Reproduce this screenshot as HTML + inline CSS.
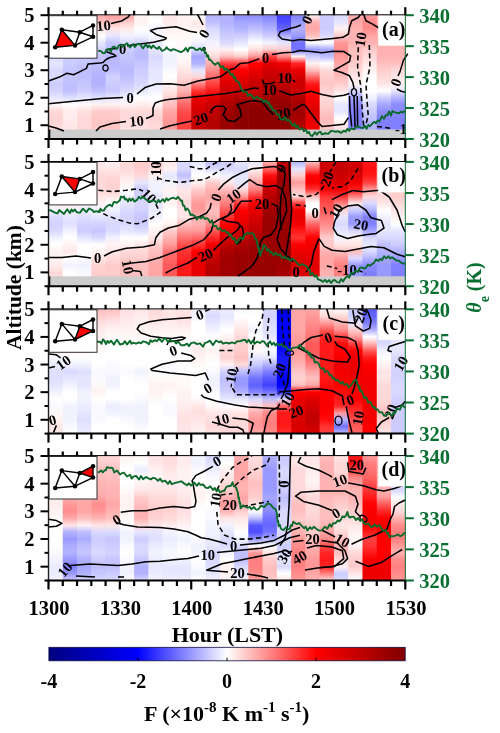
<!DOCTYPE html><html><head><meta charset="utf-8"><title>F</title><style>html,body{margin:0;padding:0;background:#fff;width:500px;height:733px;overflow:hidden}svg{display:block;will-change:transform}text{font-family:"Liberation Serif",serif;font-weight:bold}</style></head><body>
<svg width="500" height="733" viewBox="0 0 500 733">
<linearGradient id="g0_0" x1="0" y1="0" x2="0" y2="1">
<stop offset="0.000" stop-color="#d9d9ff"/>
<stop offset="0.056" stop-color="#d9d9ff"/>
<stop offset="0.111" stop-color="#d9d9ff"/>
<stop offset="0.167" stop-color="#d9d9ff"/>
<stop offset="0.222" stop-color="#d9d9ff"/>
<stop offset="0.278" stop-color="#d9d9ff"/>
<stop offset="0.333" stop-color="#d9d9ff"/>
<stop offset="0.389" stop-color="#e6e6ff"/>
<stop offset="0.444" stop-color="#d9d9ff"/>
<stop offset="0.500" stop-color="#d9d9ff"/>
<stop offset="0.556" stop-color="#ccccff"/>
<stop offset="0.611" stop-color="#d2d2ff"/>
<stop offset="0.667" stop-color="#e6e6ff"/>
<stop offset="0.722" stop-color="#fff9f9"/>
<stop offset="0.778" stop-color="#ffd9d9"/>
<stop offset="0.833" stop-color="#ffd2d2"/>
<stop offset="0.889" stop-color="#ffd9d9"/>
<stop offset="0.944" stop-color="#ffd9d9"/>
<stop offset="1.000" stop-color="#ffd9d9"/>
</linearGradient>
<rect x="48.50" y="15.20" width="14.87" height="123.80" fill="url(#g0_0)"/>
<linearGradient id="g0_1" x1="0" y1="0" x2="0" y2="1">
<stop offset="0.000" stop-color="#d9d9ff"/>
<stop offset="0.056" stop-color="#d9d9ff"/>
<stop offset="0.111" stop-color="#d9d9ff"/>
<stop offset="0.167" stop-color="#d9d9ff"/>
<stop offset="0.222" stop-color="#d9d9ff"/>
<stop offset="0.278" stop-color="#d9d9ff"/>
<stop offset="0.333" stop-color="#ccccff"/>
<stop offset="0.389" stop-color="#ccccff"/>
<stop offset="0.444" stop-color="#c6c6ff"/>
<stop offset="0.500" stop-color="#c6c6ff"/>
<stop offset="0.556" stop-color="#bfbfff"/>
<stop offset="0.611" stop-color="#bfbfff"/>
<stop offset="0.667" stop-color="#dfdfff"/>
<stop offset="0.722" stop-color="#ffffff"/>
<stop offset="0.778" stop-color="#ffecec"/>
<stop offset="0.833" stop-color="#ffecec"/>
<stop offset="0.889" stop-color="#ffe6e6"/>
<stop offset="0.944" stop-color="#ffe6e6"/>
<stop offset="1.000" stop-color="#ffe6e6"/>
</linearGradient>
<rect x="62.77" y="15.20" width="14.87" height="123.80" fill="url(#g0_1)"/>
<linearGradient id="g0_2" x1="0" y1="0" x2="0" y2="1">
<stop offset="0.000" stop-color="#d9d9ff"/>
<stop offset="0.056" stop-color="#d9d9ff"/>
<stop offset="0.111" stop-color="#d9d9ff"/>
<stop offset="0.167" stop-color="#d9d9ff"/>
<stop offset="0.222" stop-color="#d9d9ff"/>
<stop offset="0.278" stop-color="#d9d9ff"/>
<stop offset="0.333" stop-color="#ccccff"/>
<stop offset="0.389" stop-color="#c6c6ff"/>
<stop offset="0.444" stop-color="#bfbfff"/>
<stop offset="0.500" stop-color="#bfbfff"/>
<stop offset="0.556" stop-color="#c6c6ff"/>
<stop offset="0.611" stop-color="#ccccff"/>
<stop offset="0.667" stop-color="#e6e6ff"/>
<stop offset="0.722" stop-color="#fff9f9"/>
<stop offset="0.778" stop-color="#ffdfdf"/>
<stop offset="0.833" stop-color="#ffd9d9"/>
<stop offset="0.889" stop-color="#ffd9d9"/>
<stop offset="0.944" stop-color="#ffd9d9"/>
<stop offset="1.000" stop-color="#ffd9d9"/>
</linearGradient>
<rect x="77.04" y="15.20" width="14.87" height="123.80" fill="url(#g0_2)"/>
<linearGradient id="g0_3" x1="0" y1="0" x2="0" y2="1">
<stop offset="0.000" stop-color="#ffa6a6"/>
<stop offset="0.056" stop-color="#ffbfbf"/>
<stop offset="0.111" stop-color="#ffdfdf"/>
<stop offset="0.167" stop-color="#ffffff"/>
<stop offset="0.222" stop-color="#e6e6ff"/>
<stop offset="0.278" stop-color="#d2d2ff"/>
<stop offset="0.333" stop-color="#c6c6ff"/>
<stop offset="0.389" stop-color="#bfbfff"/>
<stop offset="0.444" stop-color="#b9b9ff"/>
<stop offset="0.500" stop-color="#b2b2ff"/>
<stop offset="0.556" stop-color="#b2b2ff"/>
<stop offset="0.611" stop-color="#bfbfff"/>
<stop offset="0.667" stop-color="#dfdfff"/>
<stop offset="0.722" stop-color="#fff2f2"/>
<stop offset="0.778" stop-color="#ffcccc"/>
<stop offset="0.833" stop-color="#ffc6c6"/>
<stop offset="0.889" stop-color="#ffc6c6"/>
<stop offset="0.944" stop-color="#ffc6c6"/>
<stop offset="1.000" stop-color="#ffc6c6"/>
</linearGradient>
<rect x="91.32" y="15.20" width="14.87" height="123.80" fill="url(#g0_3)"/>
<linearGradient id="g0_4" x1="0" y1="0" x2="0" y2="1">
<stop offset="0.000" stop-color="#ff9999"/>
<stop offset="0.056" stop-color="#ffbfbf"/>
<stop offset="0.111" stop-color="#ffe6e6"/>
<stop offset="0.167" stop-color="#e6e6ff"/>
<stop offset="0.222" stop-color="#c6c6ff"/>
<stop offset="0.278" stop-color="#bfbfff"/>
<stop offset="0.333" stop-color="#b9b9ff"/>
<stop offset="0.389" stop-color="#b9b9ff"/>
<stop offset="0.444" stop-color="#bfbfff"/>
<stop offset="0.500" stop-color="#d2d2ff"/>
<stop offset="0.556" stop-color="#ccccff"/>
<stop offset="0.611" stop-color="#c6c6ff"/>
<stop offset="0.667" stop-color="#e6e6ff"/>
<stop offset="0.722" stop-color="#fff2f2"/>
<stop offset="0.778" stop-color="#ffcccc"/>
<stop offset="0.833" stop-color="#ffc6c6"/>
<stop offset="0.889" stop-color="#ffc6c6"/>
<stop offset="0.944" stop-color="#ffc6c6"/>
<stop offset="1.000" stop-color="#ffc6c6"/>
</linearGradient>
<rect x="105.59" y="15.20" width="14.87" height="123.80" fill="url(#g0_4)"/>
<linearGradient id="g0_5" x1="0" y1="0" x2="0" y2="1">
<stop offset="0.000" stop-color="#ffa6a6"/>
<stop offset="0.056" stop-color="#ffcccc"/>
<stop offset="0.111" stop-color="#ffecec"/>
<stop offset="0.167" stop-color="#f2f2ff"/>
<stop offset="0.222" stop-color="#d9d9ff"/>
<stop offset="0.278" stop-color="#ccccff"/>
<stop offset="0.333" stop-color="#c6c6ff"/>
<stop offset="0.389" stop-color="#bfbfff"/>
<stop offset="0.444" stop-color="#b9b9ff"/>
<stop offset="0.500" stop-color="#bfbfff"/>
<stop offset="0.556" stop-color="#ccccff"/>
<stop offset="0.611" stop-color="#d9d9ff"/>
<stop offset="0.667" stop-color="#f2f2ff"/>
<stop offset="0.722" stop-color="#fff2f2"/>
<stop offset="0.778" stop-color="#ffd9d9"/>
<stop offset="0.833" stop-color="#ffd9d9"/>
<stop offset="0.889" stop-color="#ffdfdf"/>
<stop offset="0.944" stop-color="#ffdfdf"/>
<stop offset="1.000" stop-color="#ffdfdf"/>
</linearGradient>
<rect x="119.86" y="15.20" width="14.87" height="123.80" fill="url(#g0_5)"/>
<linearGradient id="g0_6" x1="0" y1="0" x2="0" y2="1">
<stop offset="0.000" stop-color="#fff2f2"/>
<stop offset="0.056" stop-color="#fff2f2"/>
<stop offset="0.111" stop-color="#ffffff"/>
<stop offset="0.167" stop-color="#f2f2ff"/>
<stop offset="0.222" stop-color="#d2d2ff"/>
<stop offset="0.278" stop-color="#bfbfff"/>
<stop offset="0.333" stop-color="#b9b9ff"/>
<stop offset="0.389" stop-color="#c6c6ff"/>
<stop offset="0.444" stop-color="#ccccff"/>
<stop offset="0.500" stop-color="#d2d2ff"/>
<stop offset="0.556" stop-color="#d9d9ff"/>
<stop offset="0.611" stop-color="#e6e6ff"/>
<stop offset="0.667" stop-color="#ffffff"/>
<stop offset="0.722" stop-color="#ffecec"/>
<stop offset="0.778" stop-color="#ffd9d9"/>
<stop offset="0.833" stop-color="#ffd9d9"/>
<stop offset="0.889" stop-color="#ffdfdf"/>
<stop offset="0.944" stop-color="#ffdfdf"/>
<stop offset="1.000" stop-color="#ffdfdf"/>
</linearGradient>
<rect x="134.13" y="15.20" width="14.87" height="123.80" fill="url(#g0_6)"/>
<linearGradient id="g0_7" x1="0" y1="0" x2="0" y2="1">
<stop offset="0.000" stop-color="#fff9f9"/>
<stop offset="0.056" stop-color="#ffffff"/>
<stop offset="0.111" stop-color="#f2f2ff"/>
<stop offset="0.167" stop-color="#f9f9ff"/>
<stop offset="0.222" stop-color="#ececff"/>
<stop offset="0.278" stop-color="#e6e6ff"/>
<stop offset="0.333" stop-color="#d9d9ff"/>
<stop offset="0.389" stop-color="#dfdfff"/>
<stop offset="0.444" stop-color="#e6e6ff"/>
<stop offset="0.500" stop-color="#e6e6ff"/>
<stop offset="0.556" stop-color="#ececff"/>
<stop offset="0.611" stop-color="#f2f2ff"/>
<stop offset="0.667" stop-color="#ffffff"/>
<stop offset="0.722" stop-color="#fff2f2"/>
<stop offset="0.778" stop-color="#ffd9d9"/>
<stop offset="0.833" stop-color="#ffd2d2"/>
<stop offset="0.889" stop-color="#ffd9d9"/>
<stop offset="0.944" stop-color="#ffd9d9"/>
<stop offset="1.000" stop-color="#ffd9d9"/>
</linearGradient>
<rect x="148.40" y="15.20" width="14.87" height="123.80" fill="url(#g0_7)"/>
<linearGradient id="g0_8" x1="0" y1="0" x2="0" y2="1">
<stop offset="0.000" stop-color="#ffe6e6"/>
<stop offset="0.056" stop-color="#ffecec"/>
<stop offset="0.111" stop-color="#fff2f2"/>
<stop offset="0.167" stop-color="#fff9f9"/>
<stop offset="0.222" stop-color="#ffffff"/>
<stop offset="0.278" stop-color="#f9f9ff"/>
<stop offset="0.333" stop-color="#f2f2ff"/>
<stop offset="0.389" stop-color="#f2f2ff"/>
<stop offset="0.444" stop-color="#f9f9ff"/>
<stop offset="0.500" stop-color="#ffffff"/>
<stop offset="0.556" stop-color="#fff2f2"/>
<stop offset="0.611" stop-color="#ffe6e6"/>
<stop offset="0.667" stop-color="#ffd2d2"/>
<stop offset="0.722" stop-color="#ffbfbf"/>
<stop offset="0.778" stop-color="#ffa6a6"/>
<stop offset="0.833" stop-color="#ff9999"/>
<stop offset="0.889" stop-color="#ff9999"/>
<stop offset="0.944" stop-color="#ff9999"/>
<stop offset="1.000" stop-color="#ff9999"/>
</linearGradient>
<rect x="162.68" y="15.20" width="14.87" height="123.80" fill="url(#g0_8)"/>
<linearGradient id="g0_9" x1="0" y1="0" x2="0" y2="1">
<stop offset="0.000" stop-color="#fff2f2"/>
<stop offset="0.056" stop-color="#fff2f2"/>
<stop offset="0.111" stop-color="#fff2f2"/>
<stop offset="0.167" stop-color="#fff9f9"/>
<stop offset="0.222" stop-color="#fff9f9"/>
<stop offset="0.278" stop-color="#fff9f9"/>
<stop offset="0.333" stop-color="#fff9f9"/>
<stop offset="0.389" stop-color="#fff2f2"/>
<stop offset="0.444" stop-color="#ffe6e6"/>
<stop offset="0.500" stop-color="#ffd9d9"/>
<stop offset="0.556" stop-color="#ffc6c6"/>
<stop offset="0.611" stop-color="#ffb2b2"/>
<stop offset="0.667" stop-color="#ff8c8c"/>
<stop offset="0.722" stop-color="#ff6666"/>
<stop offset="0.778" stop-color="#ff4d4d"/>
<stop offset="0.833" stop-color="#ff4040"/>
<stop offset="0.889" stop-color="#ff4040"/>
<stop offset="0.944" stop-color="#ff4040"/>
<stop offset="1.000" stop-color="#ff4040"/>
</linearGradient>
<rect x="176.95" y="15.20" width="14.87" height="123.80" fill="url(#g0_9)"/>
<linearGradient id="g0_10" x1="0" y1="0" x2="0" y2="1">
<stop offset="0.000" stop-color="#ffffff"/>
<stop offset="0.056" stop-color="#ffe6e6"/>
<stop offset="0.111" stop-color="#fff2f2"/>
<stop offset="0.167" stop-color="#ffffff"/>
<stop offset="0.222" stop-color="#f2f2ff"/>
<stop offset="0.278" stop-color="#d9d9ff"/>
<stop offset="0.333" stop-color="#a6a6ff"/>
<stop offset="0.389" stop-color="#b2b2ff"/>
<stop offset="0.444" stop-color="#e6e6ff"/>
<stop offset="0.500" stop-color="#ffd9d9"/>
<stop offset="0.556" stop-color="#ff8080"/>
<stop offset="0.611" stop-color="#ff3333"/>
<stop offset="0.667" stop-color="#ec0000"/>
<stop offset="0.722" stop-color="#df0000"/>
<stop offset="0.778" stop-color="#d30000"/>
<stop offset="0.833" stop-color="#cc0000"/>
<stop offset="0.889" stop-color="#c60000"/>
<stop offset="0.944" stop-color="#c60000"/>
<stop offset="1.000" stop-color="#c60000"/>
</linearGradient>
<rect x="191.22" y="15.20" width="14.87" height="123.80" fill="url(#g0_10)"/>
<linearGradient id="g0_11" x1="0" y1="0" x2="0" y2="1">
<stop offset="0.000" stop-color="#b2b2ff"/>
<stop offset="0.056" stop-color="#bfbfff"/>
<stop offset="0.111" stop-color="#d9d9ff"/>
<stop offset="0.167" stop-color="#e6e6ff"/>
<stop offset="0.222" stop-color="#f2f2ff"/>
<stop offset="0.278" stop-color="#fff2f2"/>
<stop offset="0.333" stop-color="#ffd9d9"/>
<stop offset="0.389" stop-color="#ffb2b2"/>
<stop offset="0.444" stop-color="#ff8c8c"/>
<stop offset="0.500" stop-color="#ff6666"/>
<stop offset="0.556" stop-color="#ff4040"/>
<stop offset="0.611" stop-color="#ff1919"/>
<stop offset="0.667" stop-color="#df0000"/>
<stop offset="0.722" stop-color="#cc0000"/>
<stop offset="0.778" stop-color="#c00000"/>
<stop offset="0.833" stop-color="#b90000"/>
<stop offset="0.889" stop-color="#b30000"/>
<stop offset="0.944" stop-color="#b30000"/>
<stop offset="1.000" stop-color="#b30000"/>
</linearGradient>
<rect x="205.49" y="15.20" width="14.87" height="123.80" fill="url(#g0_11)"/>
<linearGradient id="g0_12" x1="0" y1="0" x2="0" y2="1">
<stop offset="0.000" stop-color="#b2b2ff"/>
<stop offset="0.056" stop-color="#b2b2ff"/>
<stop offset="0.111" stop-color="#bfbfff"/>
<stop offset="0.167" stop-color="#ccccff"/>
<stop offset="0.222" stop-color="#d9d9ff"/>
<stop offset="0.278" stop-color="#fff2f2"/>
<stop offset="0.333" stop-color="#ffbfbf"/>
<stop offset="0.389" stop-color="#ff4040"/>
<stop offset="0.444" stop-color="#ff0000"/>
<stop offset="0.500" stop-color="#ec0000"/>
<stop offset="0.556" stop-color="#df0000"/>
<stop offset="0.611" stop-color="#cc0000"/>
<stop offset="0.667" stop-color="#c00000"/>
<stop offset="0.722" stop-color="#ac0000"/>
<stop offset="0.778" stop-color="#a00000"/>
<stop offset="0.833" stop-color="#990000"/>
<stop offset="0.889" stop-color="#990000"/>
<stop offset="0.944" stop-color="#990000"/>
<stop offset="1.000" stop-color="#990000"/>
</linearGradient>
<rect x="219.76" y="15.20" width="14.87" height="123.80" fill="url(#g0_12)"/>
<linearGradient id="g0_13" x1="0" y1="0" x2="0" y2="1">
<stop offset="0.000" stop-color="#8c8cff"/>
<stop offset="0.056" stop-color="#a6a6ff"/>
<stop offset="0.111" stop-color="#b2b2ff"/>
<stop offset="0.167" stop-color="#ccccff"/>
<stop offset="0.222" stop-color="#e6e6ff"/>
<stop offset="0.278" stop-color="#ffffff"/>
<stop offset="0.333" stop-color="#ffcccc"/>
<stop offset="0.389" stop-color="#ff4040"/>
<stop offset="0.444" stop-color="#ff0000"/>
<stop offset="0.500" stop-color="#ec0000"/>
<stop offset="0.556" stop-color="#d90000"/>
<stop offset="0.611" stop-color="#c60000"/>
<stop offset="0.667" stop-color="#b30000"/>
<stop offset="0.722" stop-color="#930000"/>
<stop offset="0.778" stop-color="#8d0000"/>
<stop offset="0.833" stop-color="#8d0000"/>
<stop offset="0.889" stop-color="#8d0000"/>
<stop offset="0.944" stop-color="#8d0000"/>
<stop offset="1.000" stop-color="#8d0000"/>
</linearGradient>
<rect x="234.04" y="15.20" width="14.87" height="123.80" fill="url(#g0_13)"/>
<linearGradient id="g0_14" x1="0" y1="0" x2="0" y2="1">
<stop offset="0.000" stop-color="#8c8cff"/>
<stop offset="0.056" stop-color="#a6a6ff"/>
<stop offset="0.111" stop-color="#bfbfff"/>
<stop offset="0.167" stop-color="#dfdfff"/>
<stop offset="0.222" stop-color="#ffffff"/>
<stop offset="0.278" stop-color="#ffdfdf"/>
<stop offset="0.333" stop-color="#ff9999"/>
<stop offset="0.389" stop-color="#ff0000"/>
<stop offset="0.444" stop-color="#ec0000"/>
<stop offset="0.500" stop-color="#d90000"/>
<stop offset="0.556" stop-color="#c60000"/>
<stop offset="0.611" stop-color="#c60000"/>
<stop offset="0.667" stop-color="#b30000"/>
<stop offset="0.722" stop-color="#930000"/>
<stop offset="0.778" stop-color="#8d0000"/>
<stop offset="0.833" stop-color="#8d0000"/>
<stop offset="0.889" stop-color="#8d0000"/>
<stop offset="0.944" stop-color="#8d0000"/>
<stop offset="1.000" stop-color="#8d0000"/>
</linearGradient>
<rect x="248.31" y="15.20" width="14.87" height="123.80" fill="url(#g0_14)"/>
<linearGradient id="g0_15" x1="0" y1="0" x2="0" y2="1">
<stop offset="0.000" stop-color="#8080ff"/>
<stop offset="0.056" stop-color="#9999ff"/>
<stop offset="0.111" stop-color="#b2b2ff"/>
<stop offset="0.167" stop-color="#ccccff"/>
<stop offset="0.222" stop-color="#f2f2ff"/>
<stop offset="0.278" stop-color="#ffcccc"/>
<stop offset="0.333" stop-color="#ff4040"/>
<stop offset="0.389" stop-color="#e60000"/>
<stop offset="0.444" stop-color="#d30000"/>
<stop offset="0.500" stop-color="#c60000"/>
<stop offset="0.556" stop-color="#b90000"/>
<stop offset="0.611" stop-color="#ac0000"/>
<stop offset="0.667" stop-color="#a00000"/>
<stop offset="0.722" stop-color="#930000"/>
<stop offset="0.778" stop-color="#8d0000"/>
<stop offset="0.833" stop-color="#8d0000"/>
<stop offset="0.889" stop-color="#8d0000"/>
<stop offset="0.944" stop-color="#8d0000"/>
<stop offset="1.000" stop-color="#8d0000"/>
</linearGradient>
<rect x="262.58" y="15.20" width="14.87" height="123.80" fill="url(#g0_15)"/>
<linearGradient id="g0_16" x1="0" y1="0" x2="0" y2="1">
<stop offset="0.000" stop-color="#4040ff"/>
<stop offset="0.056" stop-color="#4d4dff"/>
<stop offset="0.111" stop-color="#6666ff"/>
<stop offset="0.167" stop-color="#b2b2ff"/>
<stop offset="0.222" stop-color="#e6e6ff"/>
<stop offset="0.278" stop-color="#ffcccc"/>
<stop offset="0.333" stop-color="#ff8c8c"/>
<stop offset="0.389" stop-color="#f20000"/>
<stop offset="0.444" stop-color="#d90000"/>
<stop offset="0.500" stop-color="#c60000"/>
<stop offset="0.556" stop-color="#c00000"/>
<stop offset="0.611" stop-color="#b30000"/>
<stop offset="0.667" stop-color="#a00000"/>
<stop offset="0.722" stop-color="#930000"/>
<stop offset="0.778" stop-color="#8d0000"/>
<stop offset="0.833" stop-color="#8d0000"/>
<stop offset="0.889" stop-color="#8d0000"/>
<stop offset="0.944" stop-color="#8d0000"/>
<stop offset="1.000" stop-color="#8d0000"/>
</linearGradient>
<rect x="276.85" y="15.20" width="14.87" height="123.80" fill="url(#g0_16)"/>
<linearGradient id="g0_17" x1="0" y1="0" x2="0" y2="1">
<stop offset="0.000" stop-color="#8080ff"/>
<stop offset="0.056" stop-color="#9999ff"/>
<stop offset="0.111" stop-color="#b2b2ff"/>
<stop offset="0.167" stop-color="#9999ff"/>
<stop offset="0.222" stop-color="#7373ff"/>
<stop offset="0.278" stop-color="#7373ff"/>
<stop offset="0.333" stop-color="#fff2f2"/>
<stop offset="0.389" stop-color="#ff2626"/>
<stop offset="0.444" stop-color="#ec0000"/>
<stop offset="0.500" stop-color="#d30000"/>
<stop offset="0.556" stop-color="#cc0000"/>
<stop offset="0.611" stop-color="#cc0000"/>
<stop offset="0.667" stop-color="#b30000"/>
<stop offset="0.722" stop-color="#a60000"/>
<stop offset="0.778" stop-color="#a00000"/>
<stop offset="0.833" stop-color="#a60000"/>
<stop offset="0.889" stop-color="#b30000"/>
<stop offset="0.944" stop-color="#b30000"/>
<stop offset="1.000" stop-color="#b30000"/>
</linearGradient>
<rect x="291.12" y="15.20" width="14.87" height="123.80" fill="url(#g0_17)"/>
<linearGradient id="g0_18" x1="0" y1="0" x2="0" y2="1">
<stop offset="0.000" stop-color="#fff2f2"/>
<stop offset="0.056" stop-color="#ffb2b2"/>
<stop offset="0.111" stop-color="#ffa6a6"/>
<stop offset="0.167" stop-color="#ffbfbf"/>
<stop offset="0.222" stop-color="#ffffff"/>
<stop offset="0.278" stop-color="#9999ff"/>
<stop offset="0.333" stop-color="#ccccff"/>
<stop offset="0.389" stop-color="#fff2f2"/>
<stop offset="0.444" stop-color="#ffbfbf"/>
<stop offset="0.500" stop-color="#ff6666"/>
<stop offset="0.556" stop-color="#ff1919"/>
<stop offset="0.611" stop-color="#ff0000"/>
<stop offset="0.667" stop-color="#f20000"/>
<stop offset="0.722" stop-color="#e60000"/>
<stop offset="0.778" stop-color="#d90000"/>
<stop offset="0.833" stop-color="#e60000"/>
<stop offset="0.889" stop-color="#f20000"/>
<stop offset="0.944" stop-color="#f20000"/>
<stop offset="1.000" stop-color="#f20000"/>
</linearGradient>
<rect x="305.40" y="15.20" width="14.87" height="123.80" fill="url(#g0_18)"/>
<linearGradient id="g0_19" x1="0" y1="0" x2="0" y2="1">
<stop offset="0.000" stop-color="#ccccff"/>
<stop offset="0.056" stop-color="#ccccff"/>
<stop offset="0.111" stop-color="#ccccff"/>
<stop offset="0.167" stop-color="#d9d9ff"/>
<stop offset="0.222" stop-color="#ffffff"/>
<stop offset="0.278" stop-color="#a6a6ff"/>
<stop offset="0.333" stop-color="#bfbfff"/>
<stop offset="0.389" stop-color="#ffffff"/>
<stop offset="0.444" stop-color="#ffd9d9"/>
<stop offset="0.500" stop-color="#ffcccc"/>
<stop offset="0.556" stop-color="#ffc6c6"/>
<stop offset="0.611" stop-color="#ffd2d2"/>
<stop offset="0.667" stop-color="#ffd9d9"/>
<stop offset="0.722" stop-color="#ffd2d2"/>
<stop offset="0.778" stop-color="#ffc6c6"/>
<stop offset="0.833" stop-color="#ffb9b9"/>
<stop offset="0.889" stop-color="#ffc6c6"/>
<stop offset="0.944" stop-color="#ffc6c6"/>
<stop offset="1.000" stop-color="#ffc6c6"/>
</linearGradient>
<rect x="319.67" y="15.20" width="14.87" height="123.80" fill="url(#g0_19)"/>
<linearGradient id="g0_20" x1="0" y1="0" x2="0" y2="1">
<stop offset="0.000" stop-color="#d9d9ff"/>
<stop offset="0.056" stop-color="#e6e6ff"/>
<stop offset="0.111" stop-color="#fff2f2"/>
<stop offset="0.167" stop-color="#ffcccc"/>
<stop offset="0.222" stop-color="#ff9999"/>
<stop offset="0.278" stop-color="#ff8c8c"/>
<stop offset="0.333" stop-color="#ff9999"/>
<stop offset="0.389" stop-color="#ffa6a6"/>
<stop offset="0.444" stop-color="#ffb2b2"/>
<stop offset="0.500" stop-color="#ffbfbf"/>
<stop offset="0.556" stop-color="#ffcccc"/>
<stop offset="0.611" stop-color="#ffe6e6"/>
<stop offset="0.667" stop-color="#ffffff"/>
<stop offset="0.722" stop-color="#e6e6ff"/>
<stop offset="0.778" stop-color="#e6e6ff"/>
<stop offset="0.833" stop-color="#ffffff"/>
<stop offset="0.889" stop-color="#ffe6e6"/>
<stop offset="0.944" stop-color="#ffe6e6"/>
<stop offset="1.000" stop-color="#ffe6e6"/>
</linearGradient>
<rect x="333.94" y="15.20" width="14.87" height="123.80" fill="url(#g0_20)"/>
<linearGradient id="g0_21" x1="0" y1="0" x2="0" y2="1">
<stop offset="0.000" stop-color="#ffb2b2"/>
<stop offset="0.056" stop-color="#ffa6a6"/>
<stop offset="0.111" stop-color="#ffb2b2"/>
<stop offset="0.167" stop-color="#ffb2b2"/>
<stop offset="0.222" stop-color="#ffb2b2"/>
<stop offset="0.278" stop-color="#ffbfbf"/>
<stop offset="0.333" stop-color="#ffbfbf"/>
<stop offset="0.389" stop-color="#ffcccc"/>
<stop offset="0.444" stop-color="#ffd9d9"/>
<stop offset="0.500" stop-color="#ffe6e6"/>
<stop offset="0.556" stop-color="#fff2f2"/>
<stop offset="0.611" stop-color="#d9d9ff"/>
<stop offset="0.667" stop-color="#a6a6ff"/>
<stop offset="0.722" stop-color="#8c8cff"/>
<stop offset="0.778" stop-color="#8080ff"/>
<stop offset="0.833" stop-color="#8080ff"/>
<stop offset="0.889" stop-color="#8080ff"/>
<stop offset="0.944" stop-color="#8080ff"/>
<stop offset="1.000" stop-color="#8080ff"/>
</linearGradient>
<rect x="348.21" y="15.20" width="14.87" height="123.80" fill="url(#g0_21)"/>
<linearGradient id="g0_22" x1="0" y1="0" x2="0" y2="1">
<stop offset="0.000" stop-color="#ff9999"/>
<stop offset="0.056" stop-color="#ff8c8c"/>
<stop offset="0.111" stop-color="#ff8c8c"/>
<stop offset="0.167" stop-color="#ffa6a6"/>
<stop offset="0.222" stop-color="#ffb2b2"/>
<stop offset="0.278" stop-color="#ffcccc"/>
<stop offset="0.333" stop-color="#ffd9d9"/>
<stop offset="0.389" stop-color="#ffe6e6"/>
<stop offset="0.444" stop-color="#fff2f2"/>
<stop offset="0.500" stop-color="#ffffff"/>
<stop offset="0.556" stop-color="#ffffff"/>
<stop offset="0.611" stop-color="#ffffff"/>
<stop offset="0.667" stop-color="#f2f2ff"/>
<stop offset="0.722" stop-color="#d9d9ff"/>
<stop offset="0.778" stop-color="#ccccff"/>
<stop offset="0.833" stop-color="#bfbfff"/>
<stop offset="0.889" stop-color="#b2b2ff"/>
<stop offset="0.944" stop-color="#b2b2ff"/>
<stop offset="1.000" stop-color="#b2b2ff"/>
</linearGradient>
<rect x="362.48" y="15.20" width="14.87" height="123.80" fill="url(#g0_22)"/>
<linearGradient id="g0_23" x1="0" y1="0" x2="0" y2="1">
<stop offset="0.000" stop-color="#ffb2b2"/>
<stop offset="0.056" stop-color="#ffb2b2"/>
<stop offset="0.111" stop-color="#ffb2b2"/>
<stop offset="0.167" stop-color="#ffb2b2"/>
<stop offset="0.222" stop-color="#ffb2b2"/>
<stop offset="0.278" stop-color="#ffb2b2"/>
<stop offset="0.333" stop-color="#ffb2b2"/>
<stop offset="0.389" stop-color="#ffbfbf"/>
<stop offset="0.444" stop-color="#ffcccc"/>
<stop offset="0.500" stop-color="#ffd9d9"/>
<stop offset="0.556" stop-color="#ffe6e6"/>
<stop offset="0.611" stop-color="#ffffff"/>
<stop offset="0.667" stop-color="#ccccff"/>
<stop offset="0.722" stop-color="#a6a6ff"/>
<stop offset="0.778" stop-color="#8c8cff"/>
<stop offset="0.833" stop-color="#8080ff"/>
<stop offset="0.889" stop-color="#8080ff"/>
<stop offset="0.944" stop-color="#8080ff"/>
<stop offset="1.000" stop-color="#8080ff"/>
</linearGradient>
<rect x="376.76" y="15.20" width="14.87" height="123.80" fill="url(#g0_23)"/>
<linearGradient id="g0_24" x1="0" y1="0" x2="0" y2="1">
<stop offset="0.000" stop-color="#ffb2b2"/>
<stop offset="0.056" stop-color="#ffb2b2"/>
<stop offset="0.111" stop-color="#ffb2b2"/>
<stop offset="0.167" stop-color="#ffb2b2"/>
<stop offset="0.222" stop-color="#ffb2b2"/>
<stop offset="0.278" stop-color="#ffb2b2"/>
<stop offset="0.333" stop-color="#ffb2b2"/>
<stop offset="0.389" stop-color="#ffbfbf"/>
<stop offset="0.444" stop-color="#ffd9d9"/>
<stop offset="0.500" stop-color="#ffe6e6"/>
<stop offset="0.556" stop-color="#fff2f2"/>
<stop offset="0.611" stop-color="#e6e6ff"/>
<stop offset="0.667" stop-color="#b2b2ff"/>
<stop offset="0.722" stop-color="#8c8cff"/>
<stop offset="0.778" stop-color="#8c8cff"/>
<stop offset="0.833" stop-color="#8080ff"/>
<stop offset="0.889" stop-color="#8080ff"/>
<stop offset="0.944" stop-color="#8080ff"/>
<stop offset="1.000" stop-color="#8080ff"/>
</linearGradient>
<rect x="391.03" y="15.20" width="14.87" height="123.80" fill="url(#g0_24)"/>
<rect x="48.50" y="129.51" width="356.80" height="9.49" fill="#cdcdcd"/>
<line x1="49.2" y1="129.51" x2="49.2" y2="139.00" stroke="#000" stroke-width="2.2"/>
<linearGradient id="g1_0" x1="0" y1="0" x2="0" y2="1">
<stop offset="0.000" stop-color="#fff2f2"/>
<stop offset="0.056" stop-color="#fff2f2"/>
<stop offset="0.111" stop-color="#fff2f2"/>
<stop offset="0.167" stop-color="#fff2f2"/>
<stop offset="0.222" stop-color="#fff2f2"/>
<stop offset="0.278" stop-color="#fff2f2"/>
<stop offset="0.333" stop-color="#fff2f2"/>
<stop offset="0.389" stop-color="#f2f2ff"/>
<stop offset="0.444" stop-color="#d9d9ff"/>
<stop offset="0.500" stop-color="#d2d2ff"/>
<stop offset="0.556" stop-color="#d9d9ff"/>
<stop offset="0.611" stop-color="#f2f2ff"/>
<stop offset="0.667" stop-color="#ffffff"/>
<stop offset="0.722" stop-color="#fff2f2"/>
<stop offset="0.778" stop-color="#fff2f2"/>
<stop offset="0.833" stop-color="#ffecec"/>
<stop offset="0.889" stop-color="#ffd9d9"/>
<stop offset="0.944" stop-color="#ffd9d9"/>
<stop offset="1.000" stop-color="#ffd9d9"/>
</linearGradient>
<rect x="48.50" y="161.90" width="14.87" height="124.30" fill="url(#g1_0)"/>
<linearGradient id="g1_1" x1="0" y1="0" x2="0" y2="1">
<stop offset="0.000" stop-color="#fff2f2"/>
<stop offset="0.056" stop-color="#fff2f2"/>
<stop offset="0.111" stop-color="#fff2f2"/>
<stop offset="0.167" stop-color="#fff2f2"/>
<stop offset="0.222" stop-color="#fff2f2"/>
<stop offset="0.278" stop-color="#fff2f2"/>
<stop offset="0.333" stop-color="#fff2f2"/>
<stop offset="0.389" stop-color="#f2f2ff"/>
<stop offset="0.444" stop-color="#e6e6ff"/>
<stop offset="0.500" stop-color="#dfdfff"/>
<stop offset="0.556" stop-color="#f2f2ff"/>
<stop offset="0.611" stop-color="#ffffff"/>
<stop offset="0.667" stop-color="#fff2f2"/>
<stop offset="0.722" stop-color="#ffe6e6"/>
<stop offset="0.778" stop-color="#ffffff"/>
<stop offset="0.833" stop-color="#f2f2ff"/>
<stop offset="0.889" stop-color="#ffffff"/>
<stop offset="0.944" stop-color="#ffffff"/>
<stop offset="1.000" stop-color="#ffffff"/>
</linearGradient>
<rect x="62.77" y="161.90" width="14.87" height="124.30" fill="url(#g1_1)"/>
<linearGradient id="g1_2" x1="0" y1="0" x2="0" y2="1">
<stop offset="0.000" stop-color="#fff2f2"/>
<stop offset="0.056" stop-color="#fff2f2"/>
<stop offset="0.111" stop-color="#fff2f2"/>
<stop offset="0.167" stop-color="#fff2f2"/>
<stop offset="0.222" stop-color="#fff2f2"/>
<stop offset="0.278" stop-color="#fff2f2"/>
<stop offset="0.333" stop-color="#fff2f2"/>
<stop offset="0.389" stop-color="#ececff"/>
<stop offset="0.444" stop-color="#dfdfff"/>
<stop offset="0.500" stop-color="#d2d2ff"/>
<stop offset="0.556" stop-color="#ccccff"/>
<stop offset="0.611" stop-color="#e6e6ff"/>
<stop offset="0.667" stop-color="#ffffff"/>
<stop offset="0.722" stop-color="#ffffff"/>
<stop offset="0.778" stop-color="#f9f9ff"/>
<stop offset="0.833" stop-color="#f2f2ff"/>
<stop offset="0.889" stop-color="#f9f9ff"/>
<stop offset="0.944" stop-color="#f9f9ff"/>
<stop offset="1.000" stop-color="#f9f9ff"/>
</linearGradient>
<rect x="77.04" y="161.90" width="14.87" height="124.30" fill="url(#g1_2)"/>
<linearGradient id="g1_3" x1="0" y1="0" x2="0" y2="1">
<stop offset="0.000" stop-color="#ffe6e6"/>
<stop offset="0.056" stop-color="#ffe6e6"/>
<stop offset="0.111" stop-color="#ffd9d9"/>
<stop offset="0.167" stop-color="#ffd9d9"/>
<stop offset="0.222" stop-color="#ffd9d9"/>
<stop offset="0.278" stop-color="#ffe6e6"/>
<stop offset="0.333" stop-color="#fff2f2"/>
<stop offset="0.389" stop-color="#f2f2ff"/>
<stop offset="0.444" stop-color="#e6e6ff"/>
<stop offset="0.500" stop-color="#d2d2ff"/>
<stop offset="0.556" stop-color="#c6c6ff"/>
<stop offset="0.611" stop-color="#d9d9ff"/>
<stop offset="0.667" stop-color="#ffffff"/>
<stop offset="0.722" stop-color="#fff2f2"/>
<stop offset="0.778" stop-color="#ffe6e6"/>
<stop offset="0.833" stop-color="#ffd2d2"/>
<stop offset="0.889" stop-color="#ffcccc"/>
<stop offset="0.944" stop-color="#ffcccc"/>
<stop offset="1.000" stop-color="#ffcccc"/>
</linearGradient>
<rect x="91.32" y="161.90" width="14.87" height="124.30" fill="url(#g1_3)"/>
<linearGradient id="g1_4" x1="0" y1="0" x2="0" y2="1">
<stop offset="0.000" stop-color="#fff2f2"/>
<stop offset="0.056" stop-color="#ffe6e6"/>
<stop offset="0.111" stop-color="#ffd9d9"/>
<stop offset="0.167" stop-color="#ffd2d2"/>
<stop offset="0.222" stop-color="#ffd2d2"/>
<stop offset="0.278" stop-color="#ffe6e6"/>
<stop offset="0.333" stop-color="#ffffff"/>
<stop offset="0.389" stop-color="#f2f2ff"/>
<stop offset="0.444" stop-color="#dfdfff"/>
<stop offset="0.500" stop-color="#d9d9ff"/>
<stop offset="0.556" stop-color="#d9d9ff"/>
<stop offset="0.611" stop-color="#f2f2ff"/>
<stop offset="0.667" stop-color="#fff2f2"/>
<stop offset="0.722" stop-color="#ffe6e6"/>
<stop offset="0.778" stop-color="#ffd9d9"/>
<stop offset="0.833" stop-color="#ffcccc"/>
<stop offset="0.889" stop-color="#ffcccc"/>
<stop offset="0.944" stop-color="#ffcccc"/>
<stop offset="1.000" stop-color="#ffcccc"/>
</linearGradient>
<rect x="105.59" y="161.90" width="14.87" height="124.30" fill="url(#g1_4)"/>
<linearGradient id="g1_5" x1="0" y1="0" x2="0" y2="1">
<stop offset="0.000" stop-color="#ffd9d9"/>
<stop offset="0.056" stop-color="#ffd9d9"/>
<stop offset="0.111" stop-color="#ffe6e6"/>
<stop offset="0.167" stop-color="#fff2f2"/>
<stop offset="0.222" stop-color="#ffffff"/>
<stop offset="0.278" stop-color="#f2f2ff"/>
<stop offset="0.333" stop-color="#e6e6ff"/>
<stop offset="0.389" stop-color="#d9d9ff"/>
<stop offset="0.444" stop-color="#d2d2ff"/>
<stop offset="0.500" stop-color="#d9d9ff"/>
<stop offset="0.556" stop-color="#e6e6ff"/>
<stop offset="0.611" stop-color="#ffffff"/>
<stop offset="0.667" stop-color="#fff2f2"/>
<stop offset="0.722" stop-color="#ffd9d9"/>
<stop offset="0.778" stop-color="#ffcccc"/>
<stop offset="0.833" stop-color="#ffbfbf"/>
<stop offset="0.889" stop-color="#ffbfbf"/>
<stop offset="0.944" stop-color="#ffbfbf"/>
<stop offset="1.000" stop-color="#ffbfbf"/>
</linearGradient>
<rect x="119.86" y="161.90" width="14.87" height="124.30" fill="url(#g1_5)"/>
<linearGradient id="g1_6" x1="0" y1="0" x2="0" y2="1">
<stop offset="0.000" stop-color="#ffcccc"/>
<stop offset="0.056" stop-color="#ffcccc"/>
<stop offset="0.111" stop-color="#ffd9d9"/>
<stop offset="0.167" stop-color="#e6e6ff"/>
<stop offset="0.222" stop-color="#ccccff"/>
<stop offset="0.278" stop-color="#d2d2ff"/>
<stop offset="0.333" stop-color="#d9d9ff"/>
<stop offset="0.389" stop-color="#d2d2ff"/>
<stop offset="0.444" stop-color="#c6c6ff"/>
<stop offset="0.500" stop-color="#ccccff"/>
<stop offset="0.556" stop-color="#dfdfff"/>
<stop offset="0.611" stop-color="#ffffff"/>
<stop offset="0.667" stop-color="#ffe6e6"/>
<stop offset="0.722" stop-color="#ffd9d9"/>
<stop offset="0.778" stop-color="#ffcccc"/>
<stop offset="0.833" stop-color="#ffbfbf"/>
<stop offset="0.889" stop-color="#ffbfbf"/>
<stop offset="0.944" stop-color="#ffbfbf"/>
<stop offset="1.000" stop-color="#ffbfbf"/>
</linearGradient>
<rect x="134.13" y="161.90" width="14.87" height="124.30" fill="url(#g1_6)"/>
<linearGradient id="g1_7" x1="0" y1="0" x2="0" y2="1">
<stop offset="0.000" stop-color="#ffcccc"/>
<stop offset="0.056" stop-color="#ffd9d9"/>
<stop offset="0.111" stop-color="#fff2f2"/>
<stop offset="0.167" stop-color="#f2f2ff"/>
<stop offset="0.222" stop-color="#f2f2ff"/>
<stop offset="0.278" stop-color="#e6e6ff"/>
<stop offset="0.333" stop-color="#e6e6ff"/>
<stop offset="0.389" stop-color="#ececff"/>
<stop offset="0.444" stop-color="#f2f2ff"/>
<stop offset="0.500" stop-color="#ffffff"/>
<stop offset="0.556" stop-color="#fff2f2"/>
<stop offset="0.611" stop-color="#ffe6e6"/>
<stop offset="0.667" stop-color="#ffcccc"/>
<stop offset="0.722" stop-color="#ffbfbf"/>
<stop offset="0.778" stop-color="#ffb2b2"/>
<stop offset="0.833" stop-color="#ffa6a6"/>
<stop offset="0.889" stop-color="#ffa6a6"/>
<stop offset="0.944" stop-color="#ffa6a6"/>
<stop offset="1.000" stop-color="#ffa6a6"/>
</linearGradient>
<rect x="148.40" y="161.90" width="14.87" height="124.30" fill="url(#g1_7)"/>
<linearGradient id="g1_8" x1="0" y1="0" x2="0" y2="1">
<stop offset="0.000" stop-color="#ffe6e6"/>
<stop offset="0.056" stop-color="#fff2f2"/>
<stop offset="0.111" stop-color="#e6e6ff"/>
<stop offset="0.167" stop-color="#f2f2ff"/>
<stop offset="0.222" stop-color="#fff2f2"/>
<stop offset="0.278" stop-color="#fff2f2"/>
<stop offset="0.333" stop-color="#fff2f2"/>
<stop offset="0.389" stop-color="#ffffff"/>
<stop offset="0.444" stop-color="#ffffff"/>
<stop offset="0.500" stop-color="#fff2f2"/>
<stop offset="0.556" stop-color="#ffcccc"/>
<stop offset="0.611" stop-color="#ffb2b2"/>
<stop offset="0.667" stop-color="#ff9999"/>
<stop offset="0.722" stop-color="#ff7373"/>
<stop offset="0.778" stop-color="#ff6666"/>
<stop offset="0.833" stop-color="#ff5959"/>
<stop offset="0.889" stop-color="#ff5959"/>
<stop offset="0.944" stop-color="#ff5959"/>
<stop offset="1.000" stop-color="#ff5959"/>
</linearGradient>
<rect x="162.68" y="161.90" width="14.87" height="124.30" fill="url(#g1_8)"/>
<linearGradient id="g1_9" x1="0" y1="0" x2="0" y2="1">
<stop offset="0.000" stop-color="#d9d9ff"/>
<stop offset="0.056" stop-color="#d9d9ff"/>
<stop offset="0.111" stop-color="#bfbfff"/>
<stop offset="0.167" stop-color="#e6e6ff"/>
<stop offset="0.222" stop-color="#ffe6e6"/>
<stop offset="0.278" stop-color="#ffdfdf"/>
<stop offset="0.333" stop-color="#ffd9d9"/>
<stop offset="0.389" stop-color="#ffe6e6"/>
<stop offset="0.444" stop-color="#ffe6e6"/>
<stop offset="0.500" stop-color="#ffbfbf"/>
<stop offset="0.556" stop-color="#ff9999"/>
<stop offset="0.611" stop-color="#ff7373"/>
<stop offset="0.667" stop-color="#ff4d4d"/>
<stop offset="0.722" stop-color="#ff3333"/>
<stop offset="0.778" stop-color="#ff2626"/>
<stop offset="0.833" stop-color="#ff1919"/>
<stop offset="0.889" stop-color="#ff1919"/>
<stop offset="0.944" stop-color="#ff1919"/>
<stop offset="1.000" stop-color="#ff1919"/>
</linearGradient>
<rect x="176.95" y="161.90" width="14.87" height="124.30" fill="url(#g1_9)"/>
<linearGradient id="g1_10" x1="0" y1="0" x2="0" y2="1">
<stop offset="0.000" stop-color="#e6e6ff"/>
<stop offset="0.056" stop-color="#f2f2ff"/>
<stop offset="0.111" stop-color="#ffffff"/>
<stop offset="0.167" stop-color="#fff2f2"/>
<stop offset="0.222" stop-color="#ffcccc"/>
<stop offset="0.278" stop-color="#ffb2b2"/>
<stop offset="0.333" stop-color="#ff9999"/>
<stop offset="0.389" stop-color="#ff9999"/>
<stop offset="0.444" stop-color="#ffb2b2"/>
<stop offset="0.500" stop-color="#ffb2b2"/>
<stop offset="0.556" stop-color="#ff9999"/>
<stop offset="0.611" stop-color="#ff6666"/>
<stop offset="0.667" stop-color="#ff3333"/>
<stop offset="0.722" stop-color="#ff0000"/>
<stop offset="0.778" stop-color="#ec0000"/>
<stop offset="0.833" stop-color="#e60000"/>
<stop offset="0.889" stop-color="#e60000"/>
<stop offset="0.944" stop-color="#e60000"/>
<stop offset="1.000" stop-color="#e60000"/>
</linearGradient>
<rect x="191.22" y="161.90" width="14.87" height="124.30" fill="url(#g1_10)"/>
<linearGradient id="g1_11" x1="0" y1="0" x2="0" y2="1">
<stop offset="0.000" stop-color="#bfbfff"/>
<stop offset="0.056" stop-color="#d9d9ff"/>
<stop offset="0.111" stop-color="#ffffff"/>
<stop offset="0.167" stop-color="#ffcccc"/>
<stop offset="0.222" stop-color="#ffb2b2"/>
<stop offset="0.278" stop-color="#ffa6a6"/>
<stop offset="0.333" stop-color="#ffb2b2"/>
<stop offset="0.389" stop-color="#ffbfbf"/>
<stop offset="0.444" stop-color="#ffb2b2"/>
<stop offset="0.500" stop-color="#ff8c8c"/>
<stop offset="0.556" stop-color="#ff5959"/>
<stop offset="0.611" stop-color="#ff2626"/>
<stop offset="0.667" stop-color="#f20000"/>
<stop offset="0.722" stop-color="#d90000"/>
<stop offset="0.778" stop-color="#c60000"/>
<stop offset="0.833" stop-color="#b90000"/>
<stop offset="0.889" stop-color="#b30000"/>
<stop offset="0.944" stop-color="#b30000"/>
<stop offset="1.000" stop-color="#b30000"/>
</linearGradient>
<rect x="205.49" y="161.90" width="14.87" height="124.30" fill="url(#g1_11)"/>
<linearGradient id="g1_12" x1="0" y1="0" x2="0" y2="1">
<stop offset="0.000" stop-color="#ccccff"/>
<stop offset="0.056" stop-color="#d9d9ff"/>
<stop offset="0.111" stop-color="#f2f2ff"/>
<stop offset="0.167" stop-color="#ffe6e6"/>
<stop offset="0.222" stop-color="#ffbfbf"/>
<stop offset="0.278" stop-color="#ff9999"/>
<stop offset="0.333" stop-color="#ff8080"/>
<stop offset="0.389" stop-color="#ff5959"/>
<stop offset="0.444" stop-color="#ff3333"/>
<stop offset="0.500" stop-color="#ff0000"/>
<stop offset="0.556" stop-color="#ec0000"/>
<stop offset="0.611" stop-color="#d90000"/>
<stop offset="0.667" stop-color="#c00000"/>
<stop offset="0.722" stop-color="#ac0000"/>
<stop offset="0.778" stop-color="#a00000"/>
<stop offset="0.833" stop-color="#a00000"/>
<stop offset="0.889" stop-color="#a00000"/>
<stop offset="0.944" stop-color="#a00000"/>
<stop offset="1.000" stop-color="#a00000"/>
</linearGradient>
<rect x="219.76" y="161.90" width="14.87" height="124.30" fill="url(#g1_12)"/>
<linearGradient id="g1_13" x1="0" y1="0" x2="0" y2="1">
<stop offset="0.000" stop-color="#e6e6ff"/>
<stop offset="0.056" stop-color="#d9d9ff"/>
<stop offset="0.111" stop-color="#e6e6ff"/>
<stop offset="0.167" stop-color="#e6e6ff"/>
<stop offset="0.222" stop-color="#ffd9d9"/>
<stop offset="0.278" stop-color="#ff9999"/>
<stop offset="0.333" stop-color="#ff3333"/>
<stop offset="0.389" stop-color="#ff0000"/>
<stop offset="0.444" stop-color="#f20000"/>
<stop offset="0.500" stop-color="#e60000"/>
<stop offset="0.556" stop-color="#d30000"/>
<stop offset="0.611" stop-color="#c00000"/>
<stop offset="0.667" stop-color="#ac0000"/>
<stop offset="0.722" stop-color="#a00000"/>
<stop offset="0.778" stop-color="#990000"/>
<stop offset="0.833" stop-color="#990000"/>
<stop offset="0.889" stop-color="#990000"/>
<stop offset="0.944" stop-color="#990000"/>
<stop offset="1.000" stop-color="#990000"/>
</linearGradient>
<rect x="234.04" y="161.90" width="14.87" height="124.30" fill="url(#g1_13)"/>
<linearGradient id="g1_14" x1="0" y1="0" x2="0" y2="1">
<stop offset="0.000" stop-color="#e6e6ff"/>
<stop offset="0.056" stop-color="#fff2f2"/>
<stop offset="0.111" stop-color="#ffcccc"/>
<stop offset="0.167" stop-color="#ffa6a6"/>
<stop offset="0.222" stop-color="#ff8080"/>
<stop offset="0.278" stop-color="#ff3333"/>
<stop offset="0.333" stop-color="#f90000"/>
<stop offset="0.389" stop-color="#e60000"/>
<stop offset="0.444" stop-color="#d90000"/>
<stop offset="0.500" stop-color="#cc0000"/>
<stop offset="0.556" stop-color="#c00000"/>
<stop offset="0.611" stop-color="#ac0000"/>
<stop offset="0.667" stop-color="#a00000"/>
<stop offset="0.722" stop-color="#990000"/>
<stop offset="0.778" stop-color="#990000"/>
<stop offset="0.833" stop-color="#990000"/>
<stop offset="0.889" stop-color="#990000"/>
<stop offset="0.944" stop-color="#990000"/>
<stop offset="1.000" stop-color="#990000"/>
</linearGradient>
<rect x="248.31" y="161.90" width="14.87" height="124.30" fill="url(#g1_14)"/>
<linearGradient id="g1_15" x1="0" y1="0" x2="0" y2="1">
<stop offset="0.000" stop-color="#ffb2b2"/>
<stop offset="0.056" stop-color="#ff6666"/>
<stop offset="0.111" stop-color="#ff0d0d"/>
<stop offset="0.167" stop-color="#e60000"/>
<stop offset="0.222" stop-color="#cc0000"/>
<stop offset="0.278" stop-color="#b90000"/>
<stop offset="0.333" stop-color="#ac0000"/>
<stop offset="0.389" stop-color="#a00000"/>
<stop offset="0.444" stop-color="#990000"/>
<stop offset="0.500" stop-color="#990000"/>
<stop offset="0.556" stop-color="#990000"/>
<stop offset="0.611" stop-color="#990000"/>
<stop offset="0.667" stop-color="#990000"/>
<stop offset="0.722" stop-color="#990000"/>
<stop offset="0.778" stop-color="#990000"/>
<stop offset="0.833" stop-color="#990000"/>
<stop offset="0.889" stop-color="#990000"/>
<stop offset="0.944" stop-color="#990000"/>
<stop offset="1.000" stop-color="#990000"/>
</linearGradient>
<rect x="262.58" y="161.90" width="14.87" height="124.30" fill="url(#g1_15)"/>
<linearGradient id="g1_16" x1="0" y1="0" x2="0" y2="1">
<stop offset="0.000" stop-color="#c00000"/>
<stop offset="0.056" stop-color="#ac0000"/>
<stop offset="0.111" stop-color="#a00000"/>
<stop offset="0.167" stop-color="#990000"/>
<stop offset="0.222" stop-color="#990000"/>
<stop offset="0.278" stop-color="#990000"/>
<stop offset="0.333" stop-color="#990000"/>
<stop offset="0.389" stop-color="#990000"/>
<stop offset="0.444" stop-color="#990000"/>
<stop offset="0.500" stop-color="#990000"/>
<stop offset="0.556" stop-color="#990000"/>
<stop offset="0.611" stop-color="#990000"/>
<stop offset="0.667" stop-color="#990000"/>
<stop offset="0.722" stop-color="#990000"/>
<stop offset="0.778" stop-color="#990000"/>
<stop offset="0.833" stop-color="#a00000"/>
<stop offset="0.889" stop-color="#a60000"/>
<stop offset="0.944" stop-color="#a60000"/>
<stop offset="1.000" stop-color="#a60000"/>
</linearGradient>
<rect x="276.85" y="161.90" width="14.87" height="124.30" fill="url(#g1_16)"/>
<linearGradient id="g1_17" x1="0" y1="0" x2="0" y2="1">
<stop offset="0.000" stop-color="#b2b2ff"/>
<stop offset="0.056" stop-color="#e6e6ff"/>
<stop offset="0.111" stop-color="#ffcccc"/>
<stop offset="0.167" stop-color="#ff9999"/>
<stop offset="0.222" stop-color="#ffbfbf"/>
<stop offset="0.278" stop-color="#ffd9d9"/>
<stop offset="0.333" stop-color="#ff4040"/>
<stop offset="0.389" stop-color="#f20000"/>
<stop offset="0.444" stop-color="#e60000"/>
<stop offset="0.500" stop-color="#f20000"/>
<stop offset="0.556" stop-color="#ff1919"/>
<stop offset="0.611" stop-color="#ff3333"/>
<stop offset="0.667" stop-color="#ff0000"/>
<stop offset="0.722" stop-color="#ec0000"/>
<stop offset="0.778" stop-color="#df0000"/>
<stop offset="0.833" stop-color="#d90000"/>
<stop offset="0.889" stop-color="#df0000"/>
<stop offset="0.944" stop-color="#df0000"/>
<stop offset="1.000" stop-color="#df0000"/>
</linearGradient>
<rect x="291.12" y="161.90" width="14.87" height="124.30" fill="url(#g1_17)"/>
<linearGradient id="g1_18" x1="0" y1="0" x2="0" y2="1">
<stop offset="0.000" stop-color="#ffbfbf"/>
<stop offset="0.056" stop-color="#ff6666"/>
<stop offset="0.111" stop-color="#ff0000"/>
<stop offset="0.167" stop-color="#f90000"/>
<stop offset="0.222" stop-color="#ff3333"/>
<stop offset="0.278" stop-color="#ffbfbf"/>
<stop offset="0.333" stop-color="#ffffff"/>
<stop offset="0.389" stop-color="#ffffff"/>
<stop offset="0.444" stop-color="#ffb2b2"/>
<stop offset="0.500" stop-color="#ff6666"/>
<stop offset="0.556" stop-color="#ff3333"/>
<stop offset="0.611" stop-color="#ff0000"/>
<stop offset="0.667" stop-color="#f20000"/>
<stop offset="0.722" stop-color="#ec0000"/>
<stop offset="0.778" stop-color="#e60000"/>
<stop offset="0.833" stop-color="#df0000"/>
<stop offset="0.889" stop-color="#e60000"/>
<stop offset="0.944" stop-color="#e60000"/>
<stop offset="1.000" stop-color="#e60000"/>
</linearGradient>
<rect x="305.40" y="161.90" width="14.87" height="124.30" fill="url(#g1_18)"/>
<linearGradient id="g1_19" x1="0" y1="0" x2="0" y2="1">
<stop offset="0.000" stop-color="#d30000"/>
<stop offset="0.056" stop-color="#cc0000"/>
<stop offset="0.111" stop-color="#d30000"/>
<stop offset="0.167" stop-color="#e60000"/>
<stop offset="0.222" stop-color="#ff0000"/>
<stop offset="0.278" stop-color="#ff3333"/>
<stop offset="0.333" stop-color="#ff4d4d"/>
<stop offset="0.389" stop-color="#ff5959"/>
<stop offset="0.444" stop-color="#ff7373"/>
<stop offset="0.500" stop-color="#ff8c8c"/>
<stop offset="0.556" stop-color="#ffa6a6"/>
<stop offset="0.611" stop-color="#ffcccc"/>
<stop offset="0.667" stop-color="#ffcccc"/>
<stop offset="0.722" stop-color="#ffb2b2"/>
<stop offset="0.778" stop-color="#ffa6a6"/>
<stop offset="0.833" stop-color="#ffa6a6"/>
<stop offset="0.889" stop-color="#ffb2b2"/>
<stop offset="0.944" stop-color="#ffb2b2"/>
<stop offset="1.000" stop-color="#ffb2b2"/>
</linearGradient>
<rect x="319.67" y="161.90" width="14.87" height="124.30" fill="url(#g1_19)"/>
<linearGradient id="g1_20" x1="0" y1="0" x2="0" y2="1">
<stop offset="0.000" stop-color="#cc0000"/>
<stop offset="0.056" stop-color="#c60000"/>
<stop offset="0.111" stop-color="#cc0000"/>
<stop offset="0.167" stop-color="#d90000"/>
<stop offset="0.222" stop-color="#f20000"/>
<stop offset="0.278" stop-color="#ff3333"/>
<stop offset="0.333" stop-color="#ff8080"/>
<stop offset="0.389" stop-color="#ffd9d9"/>
<stop offset="0.444" stop-color="#e6e6ff"/>
<stop offset="0.500" stop-color="#d9d9ff"/>
<stop offset="0.556" stop-color="#e6e6ff"/>
<stop offset="0.611" stop-color="#f2f2ff"/>
<stop offset="0.667" stop-color="#ffe6e6"/>
<stop offset="0.722" stop-color="#ffbfbf"/>
<stop offset="0.778" stop-color="#ff9999"/>
<stop offset="0.833" stop-color="#ff8080"/>
<stop offset="0.889" stop-color="#ff8080"/>
<stop offset="0.944" stop-color="#ff8080"/>
<stop offset="1.000" stop-color="#ff8080"/>
</linearGradient>
<rect x="333.94" y="161.90" width="14.87" height="124.30" fill="url(#g1_20)"/>
<linearGradient id="g1_21" x1="0" y1="0" x2="0" y2="1">
<stop offset="0.000" stop-color="#d90000"/>
<stop offset="0.056" stop-color="#cc0000"/>
<stop offset="0.111" stop-color="#d90000"/>
<stop offset="0.167" stop-color="#f20000"/>
<stop offset="0.222" stop-color="#ff1919"/>
<stop offset="0.278" stop-color="#ff8080"/>
<stop offset="0.333" stop-color="#ffe6e6"/>
<stop offset="0.389" stop-color="#ccccff"/>
<stop offset="0.444" stop-color="#9999ff"/>
<stop offset="0.500" stop-color="#9999ff"/>
<stop offset="0.556" stop-color="#d9d9ff"/>
<stop offset="0.611" stop-color="#fff2f2"/>
<stop offset="0.667" stop-color="#ffe6e6"/>
<stop offset="0.722" stop-color="#ffbfbf"/>
<stop offset="0.778" stop-color="#d9d9ff"/>
<stop offset="0.833" stop-color="#9999ff"/>
<stop offset="0.889" stop-color="#9999ff"/>
<stop offset="0.944" stop-color="#9999ff"/>
<stop offset="1.000" stop-color="#9999ff"/>
</linearGradient>
<rect x="348.21" y="161.90" width="14.87" height="124.30" fill="url(#g1_21)"/>
<linearGradient id="g1_22" x1="0" y1="0" x2="0" y2="1">
<stop offset="0.000" stop-color="#ff1919"/>
<stop offset="0.056" stop-color="#ff0d0d"/>
<stop offset="0.111" stop-color="#ff1919"/>
<stop offset="0.167" stop-color="#ff4040"/>
<stop offset="0.222" stop-color="#ff9999"/>
<stop offset="0.278" stop-color="#ffd9d9"/>
<stop offset="0.333" stop-color="#d9d9ff"/>
<stop offset="0.389" stop-color="#b2b2ff"/>
<stop offset="0.444" stop-color="#8080ff"/>
<stop offset="0.500" stop-color="#8080ff"/>
<stop offset="0.556" stop-color="#a6a6ff"/>
<stop offset="0.611" stop-color="#d9d9ff"/>
<stop offset="0.667" stop-color="#e6e6ff"/>
<stop offset="0.722" stop-color="#d9d9ff"/>
<stop offset="0.778" stop-color="#b2b2ff"/>
<stop offset="0.833" stop-color="#8c8cff"/>
<stop offset="0.889" stop-color="#8080ff"/>
<stop offset="0.944" stop-color="#8080ff"/>
<stop offset="1.000" stop-color="#8080ff"/>
</linearGradient>
<rect x="362.48" y="161.90" width="14.87" height="124.30" fill="url(#g1_22)"/>
<linearGradient id="g1_23" x1="0" y1="0" x2="0" y2="1">
<stop offset="0.000" stop-color="#ffd9d9"/>
<stop offset="0.056" stop-color="#ffd9d9"/>
<stop offset="0.111" stop-color="#ffd9d9"/>
<stop offset="0.167" stop-color="#ffd9d9"/>
<stop offset="0.222" stop-color="#ffd9d9"/>
<stop offset="0.278" stop-color="#ffd9d9"/>
<stop offset="0.333" stop-color="#ffe6e6"/>
<stop offset="0.389" stop-color="#ffffff"/>
<stop offset="0.444" stop-color="#f2f2ff"/>
<stop offset="0.500" stop-color="#e6e6ff"/>
<stop offset="0.556" stop-color="#e6e6ff"/>
<stop offset="0.611" stop-color="#d9d9ff"/>
<stop offset="0.667" stop-color="#bfbfff"/>
<stop offset="0.722" stop-color="#b2b2ff"/>
<stop offset="0.778" stop-color="#a6a6ff"/>
<stop offset="0.833" stop-color="#9999ff"/>
<stop offset="0.889" stop-color="#9999ff"/>
<stop offset="0.944" stop-color="#9999ff"/>
<stop offset="1.000" stop-color="#9999ff"/>
</linearGradient>
<rect x="376.76" y="161.90" width="14.87" height="124.30" fill="url(#g1_23)"/>
<linearGradient id="g1_24" x1="0" y1="0" x2="0" y2="1">
<stop offset="0.000" stop-color="#ffcccc"/>
<stop offset="0.056" stop-color="#ffcccc"/>
<stop offset="0.111" stop-color="#ffcccc"/>
<stop offset="0.167" stop-color="#ffcccc"/>
<stop offset="0.222" stop-color="#ffcccc"/>
<stop offset="0.278" stop-color="#ffcccc"/>
<stop offset="0.333" stop-color="#ffd9d9"/>
<stop offset="0.389" stop-color="#ffe6e6"/>
<stop offset="0.444" stop-color="#fff2f2"/>
<stop offset="0.500" stop-color="#ffffff"/>
<stop offset="0.556" stop-color="#e6e6ff"/>
<stop offset="0.611" stop-color="#d9d9ff"/>
<stop offset="0.667" stop-color="#ccccff"/>
<stop offset="0.722" stop-color="#b2b2ff"/>
<stop offset="0.778" stop-color="#9999ff"/>
<stop offset="0.833" stop-color="#8080ff"/>
<stop offset="0.889" stop-color="#8080ff"/>
<stop offset="0.944" stop-color="#8080ff"/>
<stop offset="1.000" stop-color="#8080ff"/>
</linearGradient>
<rect x="391.03" y="161.90" width="14.87" height="124.30" fill="url(#g1_24)"/>
<rect x="48.50" y="276.31" width="356.80" height="9.89" fill="#cdcdcd"/>
<line x1="49.2" y1="276.31" x2="49.2" y2="286.20" stroke="#000" stroke-width="2.2"/>
<linearGradient id="g2_0" x1="0" y1="0" x2="0" y2="1">
<stop offset="0.000" stop-color="#fff2f2"/>
<stop offset="0.056" stop-color="#fff2f2"/>
<stop offset="0.111" stop-color="#fff2f2"/>
<stop offset="0.167" stop-color="#fff2f2"/>
<stop offset="0.222" stop-color="#fff2f2"/>
<stop offset="0.278" stop-color="#fff2f2"/>
<stop offset="0.333" stop-color="#fff2f2"/>
<stop offset="0.389" stop-color="#f9f9ff"/>
<stop offset="0.444" stop-color="#ececff"/>
<stop offset="0.500" stop-color="#dfdfff"/>
<stop offset="0.556" stop-color="#dfdfff"/>
<stop offset="0.611" stop-color="#e6e6ff"/>
<stop offset="0.667" stop-color="#f2f2ff"/>
<stop offset="0.722" stop-color="#ffffff"/>
<stop offset="0.778" stop-color="#f9f9ff"/>
<stop offset="0.833" stop-color="#fff9f9"/>
<stop offset="0.889" stop-color="#fff2f2"/>
<stop offset="0.944" stop-color="#ffe6e6"/>
<stop offset="1.000" stop-color="#ffe6e6"/>
</linearGradient>
<rect x="48.50" y="309.30" width="14.87" height="124.30" fill="url(#g2_0)"/>
<linearGradient id="g2_1" x1="0" y1="0" x2="0" y2="1">
<stop offset="0.000" stop-color="#fff2f2"/>
<stop offset="0.056" stop-color="#fff2f2"/>
<stop offset="0.111" stop-color="#fff2f2"/>
<stop offset="0.167" stop-color="#fff2f2"/>
<stop offset="0.222" stop-color="#fff2f2"/>
<stop offset="0.278" stop-color="#fff2f2"/>
<stop offset="0.333" stop-color="#fff2f2"/>
<stop offset="0.389" stop-color="#ffffff"/>
<stop offset="0.444" stop-color="#f2f2ff"/>
<stop offset="0.500" stop-color="#d9d9ff"/>
<stop offset="0.556" stop-color="#e6e6ff"/>
<stop offset="0.611" stop-color="#f2f2ff"/>
<stop offset="0.667" stop-color="#ffffff"/>
<stop offset="0.722" stop-color="#ffffff"/>
<stop offset="0.778" stop-color="#f2f2ff"/>
<stop offset="0.833" stop-color="#f2f2ff"/>
<stop offset="0.889" stop-color="#f2f2ff"/>
<stop offset="0.944" stop-color="#f9f9ff"/>
<stop offset="1.000" stop-color="#ffffff"/>
</linearGradient>
<rect x="62.77" y="309.30" width="14.87" height="124.30" fill="url(#g2_1)"/>
<linearGradient id="g2_2" x1="0" y1="0" x2="0" y2="1">
<stop offset="0.000" stop-color="#fff2f2"/>
<stop offset="0.056" stop-color="#fff2f2"/>
<stop offset="0.111" stop-color="#fff2f2"/>
<stop offset="0.167" stop-color="#fff2f2"/>
<stop offset="0.222" stop-color="#fff2f2"/>
<stop offset="0.278" stop-color="#fff2f2"/>
<stop offset="0.333" stop-color="#fff2f2"/>
<stop offset="0.389" stop-color="#ffffff"/>
<stop offset="0.444" stop-color="#f2f2ff"/>
<stop offset="0.500" stop-color="#dfdfff"/>
<stop offset="0.556" stop-color="#e6e6ff"/>
<stop offset="0.611" stop-color="#e6e6ff"/>
<stop offset="0.667" stop-color="#f2f2ff"/>
<stop offset="0.722" stop-color="#f2f2ff"/>
<stop offset="0.778" stop-color="#ececff"/>
<stop offset="0.833" stop-color="#e6e6ff"/>
<stop offset="0.889" stop-color="#dfdfff"/>
<stop offset="0.944" stop-color="#e6e6ff"/>
<stop offset="1.000" stop-color="#ececff"/>
</linearGradient>
<rect x="77.04" y="309.30" width="14.87" height="124.30" fill="url(#g2_2)"/>
<linearGradient id="g2_3" x1="0" y1="0" x2="0" y2="1">
<stop offset="0.000" stop-color="#ffbfbf"/>
<stop offset="0.056" stop-color="#ffcccc"/>
<stop offset="0.111" stop-color="#ffdfdf"/>
<stop offset="0.167" stop-color="#ffecec"/>
<stop offset="0.222" stop-color="#fff2f2"/>
<stop offset="0.278" stop-color="#fff2f2"/>
<stop offset="0.333" stop-color="#fff9f9"/>
<stop offset="0.389" stop-color="#ffffff"/>
<stop offset="0.444" stop-color="#ffffff"/>
<stop offset="0.500" stop-color="#f9f9ff"/>
<stop offset="0.556" stop-color="#f9f9ff"/>
<stop offset="0.611" stop-color="#fff9f9"/>
<stop offset="0.667" stop-color="#fff2f2"/>
<stop offset="0.722" stop-color="#ffffff"/>
<stop offset="0.778" stop-color="#f9f9ff"/>
<stop offset="0.833" stop-color="#f9f9ff"/>
<stop offset="0.889" stop-color="#f9f9ff"/>
<stop offset="0.944" stop-color="#ffffff"/>
<stop offset="1.000" stop-color="#ffffff"/>
</linearGradient>
<rect x="91.32" y="309.30" width="14.87" height="124.30" fill="url(#g2_3)"/>
<linearGradient id="g2_4" x1="0" y1="0" x2="0" y2="1">
<stop offset="0.000" stop-color="#ffbfbf"/>
<stop offset="0.056" stop-color="#ffd2d2"/>
<stop offset="0.111" stop-color="#ffe6e6"/>
<stop offset="0.167" stop-color="#fff2f2"/>
<stop offset="0.222" stop-color="#fff9f9"/>
<stop offset="0.278" stop-color="#ffffff"/>
<stop offset="0.333" stop-color="#ffffff"/>
<stop offset="0.389" stop-color="#ffffff"/>
<stop offset="0.444" stop-color="#f9f9ff"/>
<stop offset="0.500" stop-color="#f9f9ff"/>
<stop offset="0.556" stop-color="#f2f2ff"/>
<stop offset="0.611" stop-color="#f2f2ff"/>
<stop offset="0.667" stop-color="#ffffff"/>
<stop offset="0.722" stop-color="#ffffff"/>
<stop offset="0.778" stop-color="#ececff"/>
<stop offset="0.833" stop-color="#f2f2ff"/>
<stop offset="0.889" stop-color="#ffffff"/>
<stop offset="0.944" stop-color="#ffffff"/>
<stop offset="1.000" stop-color="#ffffff"/>
</linearGradient>
<rect x="105.59" y="309.30" width="14.87" height="124.30" fill="url(#g2_4)"/>
<linearGradient id="g2_5" x1="0" y1="0" x2="0" y2="1">
<stop offset="0.000" stop-color="#ffdfdf"/>
<stop offset="0.056" stop-color="#ffe6e6"/>
<stop offset="0.111" stop-color="#ffecec"/>
<stop offset="0.167" stop-color="#fff2f2"/>
<stop offset="0.222" stop-color="#fff9f9"/>
<stop offset="0.278" stop-color="#fff9f9"/>
<stop offset="0.333" stop-color="#ffffff"/>
<stop offset="0.389" stop-color="#ffffff"/>
<stop offset="0.444" stop-color="#ffffff"/>
<stop offset="0.500" stop-color="#f9f9ff"/>
<stop offset="0.556" stop-color="#ffffff"/>
<stop offset="0.611" stop-color="#ffffff"/>
<stop offset="0.667" stop-color="#ffffff"/>
<stop offset="0.722" stop-color="#ffffff"/>
<stop offset="0.778" stop-color="#f2f2ff"/>
<stop offset="0.833" stop-color="#f2f2ff"/>
<stop offset="0.889" stop-color="#f9f9ff"/>
<stop offset="0.944" stop-color="#ffffff"/>
<stop offset="1.000" stop-color="#ffffff"/>
</linearGradient>
<rect x="119.86" y="309.30" width="14.87" height="124.30" fill="url(#g2_5)"/>
<linearGradient id="g2_6" x1="0" y1="0" x2="0" y2="1">
<stop offset="0.000" stop-color="#ffe6e6"/>
<stop offset="0.056" stop-color="#ffecec"/>
<stop offset="0.111" stop-color="#fff2f2"/>
<stop offset="0.167" stop-color="#fff2f2"/>
<stop offset="0.222" stop-color="#fff9f9"/>
<stop offset="0.278" stop-color="#ffffff"/>
<stop offset="0.333" stop-color="#ffffff"/>
<stop offset="0.389" stop-color="#ffffff"/>
<stop offset="0.444" stop-color="#ffffff"/>
<stop offset="0.500" stop-color="#f2f2ff"/>
<stop offset="0.556" stop-color="#f9f9ff"/>
<stop offset="0.611" stop-color="#ffffff"/>
<stop offset="0.667" stop-color="#ffffff"/>
<stop offset="0.722" stop-color="#f9f9ff"/>
<stop offset="0.778" stop-color="#f2f2ff"/>
<stop offset="0.833" stop-color="#f2f2ff"/>
<stop offset="0.889" stop-color="#f2f2ff"/>
<stop offset="0.944" stop-color="#f9f9ff"/>
<stop offset="1.000" stop-color="#ffffff"/>
</linearGradient>
<rect x="134.13" y="309.30" width="14.87" height="124.30" fill="url(#g2_6)"/>
<linearGradient id="g2_7" x1="0" y1="0" x2="0" y2="1">
<stop offset="0.000" stop-color="#ffd9d9"/>
<stop offset="0.056" stop-color="#ffdfdf"/>
<stop offset="0.111" stop-color="#ffe6e6"/>
<stop offset="0.167" stop-color="#fff2f2"/>
<stop offset="0.222" stop-color="#fff9f9"/>
<stop offset="0.278" stop-color="#fff9f9"/>
<stop offset="0.333" stop-color="#ffffff"/>
<stop offset="0.389" stop-color="#ffffff"/>
<stop offset="0.444" stop-color="#ffffff"/>
<stop offset="0.500" stop-color="#ffffff"/>
<stop offset="0.556" stop-color="#fff9f9"/>
<stop offset="0.611" stop-color="#fff2f2"/>
<stop offset="0.667" stop-color="#fff2f2"/>
<stop offset="0.722" stop-color="#fff9f9"/>
<stop offset="0.778" stop-color="#ffffff"/>
<stop offset="0.833" stop-color="#ffffff"/>
<stop offset="0.889" stop-color="#ffffff"/>
<stop offset="0.944" stop-color="#ffffff"/>
<stop offset="1.000" stop-color="#ffffff"/>
</linearGradient>
<rect x="148.40" y="309.30" width="14.87" height="124.30" fill="url(#g2_7)"/>
<linearGradient id="g2_8" x1="0" y1="0" x2="0" y2="1">
<stop offset="0.000" stop-color="#ffe6e6"/>
<stop offset="0.056" stop-color="#ffe6e6"/>
<stop offset="0.111" stop-color="#ffecec"/>
<stop offset="0.167" stop-color="#fff2f2"/>
<stop offset="0.222" stop-color="#fff9f9"/>
<stop offset="0.278" stop-color="#ffffff"/>
<stop offset="0.333" stop-color="#ffffff"/>
<stop offset="0.389" stop-color="#ffffff"/>
<stop offset="0.444" stop-color="#f9f9ff"/>
<stop offset="0.500" stop-color="#f9f9ff"/>
<stop offset="0.556" stop-color="#fff9f9"/>
<stop offset="0.611" stop-color="#fff2f2"/>
<stop offset="0.667" stop-color="#fff9f9"/>
<stop offset="0.722" stop-color="#ffffff"/>
<stop offset="0.778" stop-color="#f9f9ff"/>
<stop offset="0.833" stop-color="#f9f9ff"/>
<stop offset="0.889" stop-color="#ffffff"/>
<stop offset="0.944" stop-color="#ffffff"/>
<stop offset="1.000" stop-color="#ffffff"/>
</linearGradient>
<rect x="162.68" y="309.30" width="14.87" height="124.30" fill="url(#g2_8)"/>
<linearGradient id="g2_9" x1="0" y1="0" x2="0" y2="1">
<stop offset="0.000" stop-color="#ffe6e6"/>
<stop offset="0.056" stop-color="#ffdfdf"/>
<stop offset="0.111" stop-color="#ffe6e6"/>
<stop offset="0.167" stop-color="#fff2f2"/>
<stop offset="0.222" stop-color="#fff9f9"/>
<stop offset="0.278" stop-color="#ffffff"/>
<stop offset="0.333" stop-color="#ffffff"/>
<stop offset="0.389" stop-color="#ffffff"/>
<stop offset="0.444" stop-color="#ffffff"/>
<stop offset="0.500" stop-color="#ffffff"/>
<stop offset="0.556" stop-color="#fff9f9"/>
<stop offset="0.611" stop-color="#fff9f9"/>
<stop offset="0.667" stop-color="#fff2f2"/>
<stop offset="0.722" stop-color="#fff2f2"/>
<stop offset="0.778" stop-color="#ffecec"/>
<stop offset="0.833" stop-color="#ffe6e6"/>
<stop offset="0.889" stop-color="#ffdfdf"/>
<stop offset="0.944" stop-color="#ffe6e6"/>
<stop offset="1.000" stop-color="#ffe6e6"/>
</linearGradient>
<rect x="176.95" y="309.30" width="14.87" height="124.30" fill="url(#g2_9)"/>
<linearGradient id="g2_10" x1="0" y1="0" x2="0" y2="1">
<stop offset="0.000" stop-color="#f2f2ff"/>
<stop offset="0.056" stop-color="#f2f2ff"/>
<stop offset="0.111" stop-color="#ffffff"/>
<stop offset="0.167" stop-color="#ffffff"/>
<stop offset="0.222" stop-color="#ffffff"/>
<stop offset="0.278" stop-color="#fff2f2"/>
<stop offset="0.333" stop-color="#ffecec"/>
<stop offset="0.389" stop-color="#fff2f2"/>
<stop offset="0.444" stop-color="#fff9f9"/>
<stop offset="0.500" stop-color="#ffffff"/>
<stop offset="0.556" stop-color="#ffffff"/>
<stop offset="0.611" stop-color="#ffffff"/>
<stop offset="0.667" stop-color="#ffffff"/>
<stop offset="0.722" stop-color="#fff9f9"/>
<stop offset="0.778" stop-color="#ffe6e6"/>
<stop offset="0.833" stop-color="#ffdfdf"/>
<stop offset="0.889" stop-color="#ffe6e6"/>
<stop offset="0.944" stop-color="#ffecec"/>
<stop offset="1.000" stop-color="#fff2f2"/>
</linearGradient>
<rect x="191.22" y="309.30" width="14.87" height="124.30" fill="url(#g2_10)"/>
<linearGradient id="g2_11" x1="0" y1="0" x2="0" y2="1">
<stop offset="0.000" stop-color="#e6e6ff"/>
<stop offset="0.056" stop-color="#d9d9ff"/>
<stop offset="0.111" stop-color="#e6e6ff"/>
<stop offset="0.167" stop-color="#f2f2ff"/>
<stop offset="0.222" stop-color="#ffffff"/>
<stop offset="0.278" stop-color="#ffffff"/>
<stop offset="0.333" stop-color="#fff2f2"/>
<stop offset="0.389" stop-color="#fff9f9"/>
<stop offset="0.444" stop-color="#ffffff"/>
<stop offset="0.500" stop-color="#f9f9ff"/>
<stop offset="0.556" stop-color="#f2f2ff"/>
<stop offset="0.611" stop-color="#f2f2ff"/>
<stop offset="0.667" stop-color="#f9f9ff"/>
<stop offset="0.722" stop-color="#ffffff"/>
<stop offset="0.778" stop-color="#fff9f9"/>
<stop offset="0.833" stop-color="#ffe6e6"/>
<stop offset="0.889" stop-color="#ffdfdf"/>
<stop offset="0.944" stop-color="#ffd9d9"/>
<stop offset="1.000" stop-color="#ffe6e6"/>
</linearGradient>
<rect x="205.49" y="309.30" width="14.87" height="124.30" fill="url(#g2_11)"/>
<linearGradient id="g2_12" x1="0" y1="0" x2="0" y2="1">
<stop offset="0.000" stop-color="#ececff"/>
<stop offset="0.056" stop-color="#e6e6ff"/>
<stop offset="0.111" stop-color="#f2f2ff"/>
<stop offset="0.167" stop-color="#ffffff"/>
<stop offset="0.222" stop-color="#fff2f2"/>
<stop offset="0.278" stop-color="#ffe6e6"/>
<stop offset="0.333" stop-color="#ffd9d9"/>
<stop offset="0.389" stop-color="#ffd2d2"/>
<stop offset="0.444" stop-color="#fff2f2"/>
<stop offset="0.500" stop-color="#d2d2ff"/>
<stop offset="0.556" stop-color="#bfbfff"/>
<stop offset="0.611" stop-color="#c6c6ff"/>
<stop offset="0.667" stop-color="#d2d2ff"/>
<stop offset="0.722" stop-color="#e6e6ff"/>
<stop offset="0.778" stop-color="#ffffff"/>
<stop offset="0.833" stop-color="#ffe6e6"/>
<stop offset="0.889" stop-color="#ffd9d9"/>
<stop offset="0.944" stop-color="#ffd9d9"/>
<stop offset="1.000" stop-color="#ffd9d9"/>
</linearGradient>
<rect x="219.76" y="309.30" width="14.87" height="124.30" fill="url(#g2_12)"/>
<linearGradient id="g2_13" x1="0" y1="0" x2="0" y2="1">
<stop offset="0.000" stop-color="#f9f9ff"/>
<stop offset="0.056" stop-color="#ffffff"/>
<stop offset="0.111" stop-color="#fff2f2"/>
<stop offset="0.167" stop-color="#ffe6e6"/>
<stop offset="0.222" stop-color="#ffd9d9"/>
<stop offset="0.278" stop-color="#ffd2d2"/>
<stop offset="0.333" stop-color="#ffcccc"/>
<stop offset="0.389" stop-color="#ffbfbf"/>
<stop offset="0.444" stop-color="#ffd9d9"/>
<stop offset="0.500" stop-color="#bfbfff"/>
<stop offset="0.556" stop-color="#9999ff"/>
<stop offset="0.611" stop-color="#9999ff"/>
<stop offset="0.667" stop-color="#b2b2ff"/>
<stop offset="0.722" stop-color="#e6e6ff"/>
<stop offset="0.778" stop-color="#ffffff"/>
<stop offset="0.833" stop-color="#ffe6e6"/>
<stop offset="0.889" stop-color="#ffd9d9"/>
<stop offset="0.944" stop-color="#ffd9d9"/>
<stop offset="1.000" stop-color="#ffd9d9"/>
</linearGradient>
<rect x="234.04" y="309.30" width="14.87" height="124.30" fill="url(#g2_13)"/>
<linearGradient id="g2_14" x1="0" y1="0" x2="0" y2="1">
<stop offset="0.000" stop-color="#fff9f9"/>
<stop offset="0.056" stop-color="#ffffff"/>
<stop offset="0.111" stop-color="#ffffff"/>
<stop offset="0.167" stop-color="#f2f2ff"/>
<stop offset="0.222" stop-color="#ffffff"/>
<stop offset="0.278" stop-color="#fff2f2"/>
<stop offset="0.333" stop-color="#fff9f9"/>
<stop offset="0.389" stop-color="#e6e6ff"/>
<stop offset="0.444" stop-color="#ccccff"/>
<stop offset="0.500" stop-color="#9f9fff"/>
<stop offset="0.556" stop-color="#7373ff"/>
<stop offset="0.611" stop-color="#6060ff"/>
<stop offset="0.667" stop-color="#8686ff"/>
<stop offset="0.722" stop-color="#d9d9ff"/>
<stop offset="0.778" stop-color="#ffd9d9"/>
<stop offset="0.833" stop-color="#ffacac"/>
<stop offset="0.889" stop-color="#ff9999"/>
<stop offset="0.944" stop-color="#ff9999"/>
<stop offset="1.000" stop-color="#ffa6a6"/>
</linearGradient>
<rect x="248.31" y="309.30" width="14.87" height="124.30" fill="url(#g2_14)"/>
<linearGradient id="g2_15" x1="0" y1="0" x2="0" y2="1">
<stop offset="0.000" stop-color="#d9d9ff"/>
<stop offset="0.056" stop-color="#d2d2ff"/>
<stop offset="0.111" stop-color="#d9d9ff"/>
<stop offset="0.167" stop-color="#dfdfff"/>
<stop offset="0.222" stop-color="#e6e6ff"/>
<stop offset="0.278" stop-color="#f2f2ff"/>
<stop offset="0.333" stop-color="#f9f9ff"/>
<stop offset="0.389" stop-color="#e6e6ff"/>
<stop offset="0.444" stop-color="#b2b2ff"/>
<stop offset="0.500" stop-color="#8080ff"/>
<stop offset="0.556" stop-color="#5959ff"/>
<stop offset="0.611" stop-color="#4040ff"/>
<stop offset="0.667" stop-color="#7373ff"/>
<stop offset="0.722" stop-color="#bfbfff"/>
<stop offset="0.778" stop-color="#ffbfbf"/>
<stop offset="0.833" stop-color="#ff8c8c"/>
<stop offset="0.889" stop-color="#ff8080"/>
<stop offset="0.944" stop-color="#ff8080"/>
<stop offset="1.000" stop-color="#ff8c8c"/>
</linearGradient>
<rect x="262.58" y="309.30" width="14.87" height="124.30" fill="url(#g2_15)"/>
<linearGradient id="g2_16" x1="0" y1="0" x2="0" y2="1">
<stop offset="0.000" stop-color="#0000c0"/>
<stop offset="0.056" stop-color="#0000f2"/>
<stop offset="0.111" stop-color="#0000ff"/>
<stop offset="0.167" stop-color="#0000ff"/>
<stop offset="0.222" stop-color="#0000ff"/>
<stop offset="0.278" stop-color="#0000ff"/>
<stop offset="0.333" stop-color="#0d0dff"/>
<stop offset="0.389" stop-color="#1919ff"/>
<stop offset="0.444" stop-color="#1919ff"/>
<stop offset="0.500" stop-color="#0d0dff"/>
<stop offset="0.556" stop-color="#0000ff"/>
<stop offset="0.611" stop-color="#0000ff"/>
<stop offset="0.667" stop-color="#3333ff"/>
<stop offset="0.722" stop-color="#d9d9ff"/>
<stop offset="0.778" stop-color="#ff6666"/>
<stop offset="0.833" stop-color="#ff1919"/>
<stop offset="0.889" stop-color="#ff1919"/>
<stop offset="0.944" stop-color="#ff1919"/>
<stop offset="1.000" stop-color="#ff3333"/>
</linearGradient>
<rect x="276.85" y="309.30" width="14.87" height="124.30" fill="url(#g2_16)"/>
<linearGradient id="g2_17" x1="0" y1="0" x2="0" y2="1">
<stop offset="0.000" stop-color="#ffa6a6"/>
<stop offset="0.056" stop-color="#ffa6a6"/>
<stop offset="0.111" stop-color="#ffa6a6"/>
<stop offset="0.167" stop-color="#ffa6a6"/>
<stop offset="0.222" stop-color="#ff9f9f"/>
<stop offset="0.278" stop-color="#ff9999"/>
<stop offset="0.333" stop-color="#ff9999"/>
<stop offset="0.389" stop-color="#ffa6a6"/>
<stop offset="0.444" stop-color="#ffb2b2"/>
<stop offset="0.500" stop-color="#ffc6c6"/>
<stop offset="0.556" stop-color="#ffd2d2"/>
<stop offset="0.611" stop-color="#ffbfbf"/>
<stop offset="0.667" stop-color="#ff0000"/>
<stop offset="0.722" stop-color="#ec0000"/>
<stop offset="0.778" stop-color="#e60000"/>
<stop offset="0.833" stop-color="#df0000"/>
<stop offset="0.889" stop-color="#d90000"/>
<stop offset="0.944" stop-color="#d90000"/>
<stop offset="1.000" stop-color="#df0000"/>
</linearGradient>
<rect x="291.12" y="309.30" width="14.87" height="124.30" fill="url(#g2_17)"/>
<linearGradient id="g2_18" x1="0" y1="0" x2="0" y2="1">
<stop offset="0.000" stop-color="#ffa6a6"/>
<stop offset="0.056" stop-color="#ff9999"/>
<stop offset="0.111" stop-color="#ff8c8c"/>
<stop offset="0.167" stop-color="#ff8080"/>
<stop offset="0.222" stop-color="#ff7373"/>
<stop offset="0.278" stop-color="#ff5959"/>
<stop offset="0.333" stop-color="#ff5959"/>
<stop offset="0.389" stop-color="#ff6666"/>
<stop offset="0.444" stop-color="#ff8080"/>
<stop offset="0.500" stop-color="#ffa6a6"/>
<stop offset="0.556" stop-color="#ffbfbf"/>
<stop offset="0.611" stop-color="#ffa6a6"/>
<stop offset="0.667" stop-color="#ff0000"/>
<stop offset="0.722" stop-color="#df0000"/>
<stop offset="0.778" stop-color="#d30000"/>
<stop offset="0.833" stop-color="#c60000"/>
<stop offset="0.889" stop-color="#c00000"/>
<stop offset="0.944" stop-color="#cc0000"/>
<stop offset="1.000" stop-color="#df0000"/>
</linearGradient>
<rect x="305.40" y="309.30" width="14.87" height="124.30" fill="url(#g2_18)"/>
<linearGradient id="g2_19" x1="0" y1="0" x2="0" y2="1">
<stop offset="0.000" stop-color="#fff2f2"/>
<stop offset="0.056" stop-color="#ffd9d9"/>
<stop offset="0.111" stop-color="#ff9999"/>
<stop offset="0.167" stop-color="#ff5959"/>
<stop offset="0.222" stop-color="#ff2626"/>
<stop offset="0.278" stop-color="#ff1919"/>
<stop offset="0.333" stop-color="#ff1919"/>
<stop offset="0.389" stop-color="#ff1919"/>
<stop offset="0.444" stop-color="#ff1919"/>
<stop offset="0.500" stop-color="#ff1919"/>
<stop offset="0.556" stop-color="#ff1919"/>
<stop offset="0.611" stop-color="#ff0d0d"/>
<stop offset="0.667" stop-color="#ff0000"/>
<stop offset="0.722" stop-color="#ff0000"/>
<stop offset="0.778" stop-color="#f90000"/>
<stop offset="0.833" stop-color="#ff0000"/>
<stop offset="0.889" stop-color="#ff0d0d"/>
<stop offset="0.944" stop-color="#ff3333"/>
<stop offset="1.000" stop-color="#ff4040"/>
</linearGradient>
<rect x="319.67" y="309.30" width="14.87" height="124.30" fill="url(#g2_19)"/>
<linearGradient id="g2_20" x1="0" y1="0" x2="0" y2="1">
<stop offset="0.000" stop-color="#ffffff"/>
<stop offset="0.056" stop-color="#ffd9d9"/>
<stop offset="0.111" stop-color="#ffb2b2"/>
<stop offset="0.167" stop-color="#ff8c8c"/>
<stop offset="0.222" stop-color="#ff4040"/>
<stop offset="0.278" stop-color="#ff0d0d"/>
<stop offset="0.333" stop-color="#ff0000"/>
<stop offset="0.389" stop-color="#f90000"/>
<stop offset="0.444" stop-color="#f20000"/>
<stop offset="0.500" stop-color="#f20000"/>
<stop offset="0.556" stop-color="#f90000"/>
<stop offset="0.611" stop-color="#ff0000"/>
<stop offset="0.667" stop-color="#ff0d0d"/>
<stop offset="0.722" stop-color="#ff1919"/>
<stop offset="0.778" stop-color="#ff2626"/>
<stop offset="0.833" stop-color="#ff9999"/>
<stop offset="0.889" stop-color="#b2b2ff"/>
<stop offset="0.944" stop-color="#7373ff"/>
<stop offset="1.000" stop-color="#bfbfff"/>
</linearGradient>
<rect x="333.94" y="309.30" width="14.87" height="124.30" fill="url(#g2_20)"/>
<linearGradient id="g2_21" x1="0" y1="0" x2="0" y2="1">
<stop offset="0.000" stop-color="#ccccff"/>
<stop offset="0.056" stop-color="#ccccff"/>
<stop offset="0.111" stop-color="#e6e6ff"/>
<stop offset="0.167" stop-color="#ffcccc"/>
<stop offset="0.222" stop-color="#ff9999"/>
<stop offset="0.278" stop-color="#ff4040"/>
<stop offset="0.333" stop-color="#ff0000"/>
<stop offset="0.389" stop-color="#ec0000"/>
<stop offset="0.444" stop-color="#ec0000"/>
<stop offset="0.500" stop-color="#ec0000"/>
<stop offset="0.556" stop-color="#f20000"/>
<stop offset="0.611" stop-color="#f90000"/>
<stop offset="0.667" stop-color="#ff0000"/>
<stop offset="0.722" stop-color="#ff0000"/>
<stop offset="0.778" stop-color="#ff1919"/>
<stop offset="0.833" stop-color="#ff3333"/>
<stop offset="0.889" stop-color="#ff4d4d"/>
<stop offset="0.944" stop-color="#ff5959"/>
<stop offset="1.000" stop-color="#ff6666"/>
</linearGradient>
<rect x="348.21" y="309.30" width="14.87" height="124.30" fill="url(#g2_21)"/>
<linearGradient id="g2_22" x1="0" y1="0" x2="0" y2="1">
<stop offset="0.000" stop-color="#5959ff"/>
<stop offset="0.056" stop-color="#6666ff"/>
<stop offset="0.111" stop-color="#8080ff"/>
<stop offset="0.167" stop-color="#b2b2ff"/>
<stop offset="0.222" stop-color="#ffffff"/>
<stop offset="0.278" stop-color="#ffb2b2"/>
<stop offset="0.333" stop-color="#ff5959"/>
<stop offset="0.389" stop-color="#ff1919"/>
<stop offset="0.444" stop-color="#ff0000"/>
<stop offset="0.500" stop-color="#f90000"/>
<stop offset="0.556" stop-color="#f20000"/>
<stop offset="0.611" stop-color="#f20000"/>
<stop offset="0.667" stop-color="#f20000"/>
<stop offset="0.722" stop-color="#f20000"/>
<stop offset="0.778" stop-color="#f20000"/>
<stop offset="0.833" stop-color="#f20000"/>
<stop offset="0.889" stop-color="#f20000"/>
<stop offset="0.944" stop-color="#f90000"/>
<stop offset="1.000" stop-color="#ff0000"/>
</linearGradient>
<rect x="362.48" y="309.30" width="14.87" height="124.30" fill="url(#g2_22)"/>
<linearGradient id="g2_23" x1="0" y1="0" x2="0" y2="1">
<stop offset="0.000" stop-color="#d9d9ff"/>
<stop offset="0.056" stop-color="#d9d9ff"/>
<stop offset="0.111" stop-color="#d9d9ff"/>
<stop offset="0.167" stop-color="#d9d9ff"/>
<stop offset="0.222" stop-color="#d9d9ff"/>
<stop offset="0.278" stop-color="#d9d9ff"/>
<stop offset="0.333" stop-color="#f2f2ff"/>
<stop offset="0.389" stop-color="#ffffff"/>
<stop offset="0.444" stop-color="#fff2f2"/>
<stop offset="0.500" stop-color="#ffe6e6"/>
<stop offset="0.556" stop-color="#ffe6e6"/>
<stop offset="0.611" stop-color="#ffd9d9"/>
<stop offset="0.667" stop-color="#ffd9d9"/>
<stop offset="0.722" stop-color="#ffd9d9"/>
<stop offset="0.778" stop-color="#ffcccc"/>
<stop offset="0.833" stop-color="#ffbfbf"/>
<stop offset="0.889" stop-color="#ffcccc"/>
<stop offset="0.944" stop-color="#ffd9d9"/>
<stop offset="1.000" stop-color="#ffe6e6"/>
</linearGradient>
<rect x="376.76" y="309.30" width="14.87" height="124.30" fill="url(#g2_23)"/>
<linearGradient id="g2_24" x1="0" y1="0" x2="0" y2="1">
<stop offset="0.000" stop-color="#e6e6ff"/>
<stop offset="0.056" stop-color="#e6e6ff"/>
<stop offset="0.111" stop-color="#e6e6ff"/>
<stop offset="0.167" stop-color="#e6e6ff"/>
<stop offset="0.222" stop-color="#e6e6ff"/>
<stop offset="0.278" stop-color="#e6e6ff"/>
<stop offset="0.333" stop-color="#e6e6ff"/>
<stop offset="0.389" stop-color="#d9d9ff"/>
<stop offset="0.444" stop-color="#d9d9ff"/>
<stop offset="0.500" stop-color="#d2d2ff"/>
<stop offset="0.556" stop-color="#d2d2ff"/>
<stop offset="0.611" stop-color="#d9d9ff"/>
<stop offset="0.667" stop-color="#d9d9ff"/>
<stop offset="0.722" stop-color="#d2d2ff"/>
<stop offset="0.778" stop-color="#ccccff"/>
<stop offset="0.833" stop-color="#ccccff"/>
<stop offset="0.889" stop-color="#ccccff"/>
<stop offset="0.944" stop-color="#ccccff"/>
<stop offset="1.000" stop-color="#ccccff"/>
</linearGradient>
<rect x="391.03" y="309.30" width="14.87" height="124.30" fill="url(#g2_24)"/>
<linearGradient id="g3_0" x1="0" y1="0" x2="0" y2="1">
<stop offset="0.000" stop-color="#ffd9d9"/>
<stop offset="0.056" stop-color="#ffd9d9"/>
<stop offset="0.111" stop-color="#ffd9d9"/>
<stop offset="0.167" stop-color="#ffd9d9"/>
<stop offset="0.222" stop-color="#ffd9d9"/>
<stop offset="0.278" stop-color="#ffe6e6"/>
<stop offset="0.333" stop-color="#fff2f2"/>
<stop offset="0.389" stop-color="#ffecec"/>
<stop offset="0.444" stop-color="#fff2f2"/>
<stop offset="0.500" stop-color="#fff9f9"/>
<stop offset="0.556" stop-color="#ffffff"/>
<stop offset="0.611" stop-color="#ffffff"/>
<stop offset="0.667" stop-color="#ffffff"/>
<stop offset="0.722" stop-color="#ffffff"/>
<stop offset="0.778" stop-color="#f9f9ff"/>
<stop offset="0.833" stop-color="#f2f2ff"/>
<stop offset="0.889" stop-color="#ececff"/>
<stop offset="0.944" stop-color="#ececff"/>
<stop offset="1.000" stop-color="#f2f2ff"/>
</linearGradient>
<rect x="48.50" y="456.00" width="14.87" height="124.50" fill="url(#g3_0)"/>
<linearGradient id="g3_1" x1="0" y1="0" x2="0" y2="1">
<stop offset="0.000" stop-color="#ffcccc"/>
<stop offset="0.056" stop-color="#ffcccc"/>
<stop offset="0.111" stop-color="#ffcccc"/>
<stop offset="0.167" stop-color="#ffcccc"/>
<stop offset="0.222" stop-color="#ffbfbf"/>
<stop offset="0.278" stop-color="#ffbfbf"/>
<stop offset="0.333" stop-color="#ffb2b2"/>
<stop offset="0.389" stop-color="#ff9999"/>
<stop offset="0.444" stop-color="#ff8c8c"/>
<stop offset="0.500" stop-color="#ffa6a6"/>
<stop offset="0.556" stop-color="#ffe6e6"/>
<stop offset="0.611" stop-color="#b2b2ff"/>
<stop offset="0.667" stop-color="#9999ff"/>
<stop offset="0.722" stop-color="#acacff"/>
<stop offset="0.778" stop-color="#b2b2ff"/>
<stop offset="0.833" stop-color="#9999ff"/>
<stop offset="0.889" stop-color="#8080ff"/>
<stop offset="0.944" stop-color="#9999ff"/>
<stop offset="1.000" stop-color="#ccccff"/>
</linearGradient>
<rect x="62.77" y="456.00" width="14.87" height="124.50" fill="url(#g3_1)"/>
<linearGradient id="g3_2" x1="0" y1="0" x2="0" y2="1">
<stop offset="0.000" stop-color="#ffcccc"/>
<stop offset="0.056" stop-color="#ffcccc"/>
<stop offset="0.111" stop-color="#ffcccc"/>
<stop offset="0.167" stop-color="#ffcccc"/>
<stop offset="0.222" stop-color="#ffbfbf"/>
<stop offset="0.278" stop-color="#ffbfbf"/>
<stop offset="0.333" stop-color="#ffb2b2"/>
<stop offset="0.389" stop-color="#ffa6a6"/>
<stop offset="0.444" stop-color="#ffa6a6"/>
<stop offset="0.500" stop-color="#ffbfbf"/>
<stop offset="0.556" stop-color="#fff2f2"/>
<stop offset="0.611" stop-color="#bfbfff"/>
<stop offset="0.667" stop-color="#acacff"/>
<stop offset="0.722" stop-color="#bfbfff"/>
<stop offset="0.778" stop-color="#c6c6ff"/>
<stop offset="0.833" stop-color="#b2b2ff"/>
<stop offset="0.889" stop-color="#a6a6ff"/>
<stop offset="0.944" stop-color="#b2b2ff"/>
<stop offset="1.000" stop-color="#d9d9ff"/>
</linearGradient>
<rect x="77.04" y="456.00" width="14.87" height="124.50" fill="url(#g3_2)"/>
<linearGradient id="g3_3" x1="0" y1="0" x2="0" y2="1">
<stop offset="0.000" stop-color="#ffd9d9"/>
<stop offset="0.056" stop-color="#ffcccc"/>
<stop offset="0.111" stop-color="#ffbfbf"/>
<stop offset="0.167" stop-color="#ffbfbf"/>
<stop offset="0.222" stop-color="#ffb2b2"/>
<stop offset="0.278" stop-color="#ffb2b2"/>
<stop offset="0.333" stop-color="#ffa6a6"/>
<stop offset="0.389" stop-color="#ff8c8c"/>
<stop offset="0.444" stop-color="#ff9999"/>
<stop offset="0.500" stop-color="#ffb2b2"/>
<stop offset="0.556" stop-color="#ffe6e6"/>
<stop offset="0.611" stop-color="#d9d9ff"/>
<stop offset="0.667" stop-color="#ccccff"/>
<stop offset="0.722" stop-color="#d2d2ff"/>
<stop offset="0.778" stop-color="#d9d9ff"/>
<stop offset="0.833" stop-color="#ccccff"/>
<stop offset="0.889" stop-color="#bfbfff"/>
<stop offset="0.944" stop-color="#c6c6ff"/>
<stop offset="1.000" stop-color="#d9d9ff"/>
</linearGradient>
<rect x="91.32" y="456.00" width="14.87" height="124.50" fill="url(#g3_3)"/>
<linearGradient id="g3_4" x1="0" y1="0" x2="0" y2="1">
<stop offset="0.000" stop-color="#ffd9d9"/>
<stop offset="0.056" stop-color="#ffcccc"/>
<stop offset="0.111" stop-color="#ffc6c6"/>
<stop offset="0.167" stop-color="#ffbfbf"/>
<stop offset="0.222" stop-color="#ffb9b9"/>
<stop offset="0.278" stop-color="#ffb2b2"/>
<stop offset="0.333" stop-color="#ffb2b2"/>
<stop offset="0.389" stop-color="#ffa6a6"/>
<stop offset="0.444" stop-color="#ffb2b2"/>
<stop offset="0.500" stop-color="#ffbfbf"/>
<stop offset="0.556" stop-color="#ffe6e6"/>
<stop offset="0.611" stop-color="#d9d9ff"/>
<stop offset="0.667" stop-color="#c6c6ff"/>
<stop offset="0.722" stop-color="#ccccff"/>
<stop offset="0.778" stop-color="#d2d2ff"/>
<stop offset="0.833" stop-color="#c6c6ff"/>
<stop offset="0.889" stop-color="#bfbfff"/>
<stop offset="0.944" stop-color="#ccccff"/>
<stop offset="1.000" stop-color="#d9d9ff"/>
</linearGradient>
<rect x="105.59" y="456.00" width="14.87" height="124.50" fill="url(#g3_4)"/>
<linearGradient id="g3_5" x1="0" y1="0" x2="0" y2="1">
<stop offset="0.000" stop-color="#fff2f2"/>
<stop offset="0.056" stop-color="#fff9f9"/>
<stop offset="0.111" stop-color="#ffffff"/>
<stop offset="0.167" stop-color="#ffffff"/>
<stop offset="0.222" stop-color="#ffffff"/>
<stop offset="0.278" stop-color="#fff9f9"/>
<stop offset="0.333" stop-color="#fff2f2"/>
<stop offset="0.389" stop-color="#fff2f2"/>
<stop offset="0.444" stop-color="#fff2f2"/>
<stop offset="0.500" stop-color="#fff9f9"/>
<stop offset="0.556" stop-color="#ffffff"/>
<stop offset="0.611" stop-color="#f2f2ff"/>
<stop offset="0.667" stop-color="#f2f2ff"/>
<stop offset="0.722" stop-color="#f9f9ff"/>
<stop offset="0.778" stop-color="#ffffff"/>
<stop offset="0.833" stop-color="#f9f9ff"/>
<stop offset="0.889" stop-color="#f2f2ff"/>
<stop offset="0.944" stop-color="#f2f2ff"/>
<stop offset="1.000" stop-color="#f9f9ff"/>
</linearGradient>
<rect x="119.86" y="456.00" width="14.87" height="124.50" fill="url(#g3_5)"/>
<linearGradient id="g3_6" x1="0" y1="0" x2="0" y2="1">
<stop offset="0.000" stop-color="#fff2f2"/>
<stop offset="0.056" stop-color="#ffffff"/>
<stop offset="0.111" stop-color="#ececff"/>
<stop offset="0.167" stop-color="#f9f9ff"/>
<stop offset="0.222" stop-color="#fff2f2"/>
<stop offset="0.278" stop-color="#ffe6e6"/>
<stop offset="0.333" stop-color="#ffcccc"/>
<stop offset="0.389" stop-color="#ffbfbf"/>
<stop offset="0.444" stop-color="#ffb2b2"/>
<stop offset="0.500" stop-color="#ffb2b2"/>
<stop offset="0.556" stop-color="#ffd9d9"/>
<stop offset="0.611" stop-color="#e6e6ff"/>
<stop offset="0.667" stop-color="#ccccff"/>
<stop offset="0.722" stop-color="#d9d9ff"/>
<stop offset="0.778" stop-color="#d9d9ff"/>
<stop offset="0.833" stop-color="#c6c6ff"/>
<stop offset="0.889" stop-color="#b2b2ff"/>
<stop offset="0.944" stop-color="#b2b2ff"/>
<stop offset="1.000" stop-color="#d9d9ff"/>
</linearGradient>
<rect x="134.13" y="456.00" width="14.87" height="124.50" fill="url(#g3_6)"/>
<linearGradient id="g3_7" x1="0" y1="0" x2="0" y2="1">
<stop offset="0.000" stop-color="#ffe6e6"/>
<stop offset="0.056" stop-color="#ffe6e6"/>
<stop offset="0.111" stop-color="#fff2f2"/>
<stop offset="0.167" stop-color="#fff2f2"/>
<stop offset="0.222" stop-color="#ffecec"/>
<stop offset="0.278" stop-color="#ffe6e6"/>
<stop offset="0.333" stop-color="#ffd9d9"/>
<stop offset="0.389" stop-color="#ffd2d2"/>
<stop offset="0.444" stop-color="#ffcccc"/>
<stop offset="0.500" stop-color="#ffd2d2"/>
<stop offset="0.556" stop-color="#ffe6e6"/>
<stop offset="0.611" stop-color="#e6e6ff"/>
<stop offset="0.667" stop-color="#dfdfff"/>
<stop offset="0.722" stop-color="#ececff"/>
<stop offset="0.778" stop-color="#f2f2ff"/>
<stop offset="0.833" stop-color="#ececff"/>
<stop offset="0.889" stop-color="#e6e6ff"/>
<stop offset="0.944" stop-color="#ececff"/>
<stop offset="1.000" stop-color="#f2f2ff"/>
</linearGradient>
<rect x="148.40" y="456.00" width="14.87" height="124.50" fill="url(#g3_7)"/>
<linearGradient id="g3_8" x1="0" y1="0" x2="0" y2="1">
<stop offset="0.000" stop-color="#ffd9d9"/>
<stop offset="0.056" stop-color="#ffdfdf"/>
<stop offset="0.111" stop-color="#ffe6e6"/>
<stop offset="0.167" stop-color="#ffecec"/>
<stop offset="0.222" stop-color="#ffecec"/>
<stop offset="0.278" stop-color="#ffe6e6"/>
<stop offset="0.333" stop-color="#ffd9d9"/>
<stop offset="0.389" stop-color="#ffd2d2"/>
<stop offset="0.444" stop-color="#ffd2d2"/>
<stop offset="0.500" stop-color="#ffd9d9"/>
<stop offset="0.556" stop-color="#ffecec"/>
<stop offset="0.611" stop-color="#f2f2ff"/>
<stop offset="0.667" stop-color="#ececff"/>
<stop offset="0.722" stop-color="#f2f2ff"/>
<stop offset="0.778" stop-color="#f9f9ff"/>
<stop offset="0.833" stop-color="#f2f2ff"/>
<stop offset="0.889" stop-color="#e6e6ff"/>
<stop offset="0.944" stop-color="#e6e6ff"/>
<stop offset="1.000" stop-color="#f2f2ff"/>
</linearGradient>
<rect x="162.68" y="456.00" width="14.87" height="124.50" fill="url(#g3_8)"/>
<linearGradient id="g3_9" x1="0" y1="0" x2="0" y2="1">
<stop offset="0.000" stop-color="#ffecec"/>
<stop offset="0.056" stop-color="#ffecec"/>
<stop offset="0.111" stop-color="#fff2f2"/>
<stop offset="0.167" stop-color="#fff2f2"/>
<stop offset="0.222" stop-color="#fff2f2"/>
<stop offset="0.278" stop-color="#ffecec"/>
<stop offset="0.333" stop-color="#ffe6e6"/>
<stop offset="0.389" stop-color="#ffdfdf"/>
<stop offset="0.444" stop-color="#ffdfdf"/>
<stop offset="0.500" stop-color="#ffe6e6"/>
<stop offset="0.556" stop-color="#fff2f2"/>
<stop offset="0.611" stop-color="#f9f9ff"/>
<stop offset="0.667" stop-color="#f2f2ff"/>
<stop offset="0.722" stop-color="#f9f9ff"/>
<stop offset="0.778" stop-color="#ffffff"/>
<stop offset="0.833" stop-color="#f2f2ff"/>
<stop offset="0.889" stop-color="#e6e6ff"/>
<stop offset="0.944" stop-color="#e6e6ff"/>
<stop offset="1.000" stop-color="#f2f2ff"/>
</linearGradient>
<rect x="176.95" y="456.00" width="14.87" height="124.50" fill="url(#g3_9)"/>
<linearGradient id="g3_10" x1="0" y1="0" x2="0" y2="1">
<stop offset="0.000" stop-color="#f2f2ff"/>
<stop offset="0.056" stop-color="#f2f2ff"/>
<stop offset="0.111" stop-color="#f9f9ff"/>
<stop offset="0.167" stop-color="#ffffff"/>
<stop offset="0.222" stop-color="#fff9f9"/>
<stop offset="0.278" stop-color="#fff2f2"/>
<stop offset="0.333" stop-color="#fff2f2"/>
<stop offset="0.389" stop-color="#fff9f9"/>
<stop offset="0.444" stop-color="#ffffff"/>
<stop offset="0.500" stop-color="#ffffff"/>
<stop offset="0.556" stop-color="#ffffff"/>
<stop offset="0.611" stop-color="#ffffff"/>
<stop offset="0.667" stop-color="#f9f9ff"/>
<stop offset="0.722" stop-color="#f2f2ff"/>
<stop offset="0.778" stop-color="#f2f2ff"/>
<stop offset="0.833" stop-color="#ffffff"/>
<stop offset="0.889" stop-color="#f9f9ff"/>
<stop offset="0.944" stop-color="#f2f2ff"/>
<stop offset="1.000" stop-color="#ffffff"/>
</linearGradient>
<rect x="191.22" y="456.00" width="14.87" height="124.50" fill="url(#g3_10)"/>
<linearGradient id="g3_11" x1="0" y1="0" x2="0" y2="1">
<stop offset="0.000" stop-color="#d9d9ff"/>
<stop offset="0.056" stop-color="#dfdfff"/>
<stop offset="0.111" stop-color="#ececff"/>
<stop offset="0.167" stop-color="#f9f9ff"/>
<stop offset="0.222" stop-color="#ffffff"/>
<stop offset="0.278" stop-color="#fff9f9"/>
<stop offset="0.333" stop-color="#fff9f9"/>
<stop offset="0.389" stop-color="#ffffff"/>
<stop offset="0.444" stop-color="#f9f9ff"/>
<stop offset="0.500" stop-color="#f9f9ff"/>
<stop offset="0.556" stop-color="#f2f2ff"/>
<stop offset="0.611" stop-color="#f2f2ff"/>
<stop offset="0.667" stop-color="#ececff"/>
<stop offset="0.722" stop-color="#e6e6ff"/>
<stop offset="0.778" stop-color="#d9d9ff"/>
<stop offset="0.833" stop-color="#d9d9ff"/>
<stop offset="0.889" stop-color="#dfdfff"/>
<stop offset="0.944" stop-color="#e6e6ff"/>
<stop offset="1.000" stop-color="#f2f2ff"/>
</linearGradient>
<rect x="205.49" y="456.00" width="14.87" height="124.50" fill="url(#g3_11)"/>
<linearGradient id="g3_12" x1="0" y1="0" x2="0" y2="1">
<stop offset="0.000" stop-color="#f2f2ff"/>
<stop offset="0.056" stop-color="#ffffff"/>
<stop offset="0.111" stop-color="#fff2f2"/>
<stop offset="0.167" stop-color="#ffe6e6"/>
<stop offset="0.222" stop-color="#ffd9d9"/>
<stop offset="0.278" stop-color="#ffcccc"/>
<stop offset="0.333" stop-color="#ffb2b2"/>
<stop offset="0.389" stop-color="#ff9999"/>
<stop offset="0.444" stop-color="#ffb2b2"/>
<stop offset="0.500" stop-color="#ffe6e6"/>
<stop offset="0.556" stop-color="#f2f2ff"/>
<stop offset="0.611" stop-color="#e6e6ff"/>
<stop offset="0.667" stop-color="#d9d9ff"/>
<stop offset="0.722" stop-color="#d9d9ff"/>
<stop offset="0.778" stop-color="#f2f2ff"/>
<stop offset="0.833" stop-color="#ffffff"/>
<stop offset="0.889" stop-color="#fff2f2"/>
<stop offset="0.944" stop-color="#fff2f2"/>
<stop offset="1.000" stop-color="#fff2f2"/>
</linearGradient>
<rect x="219.76" y="456.00" width="14.87" height="124.50" fill="url(#g3_12)"/>
<linearGradient id="g3_13" x1="0" y1="0" x2="0" y2="1">
<stop offset="0.000" stop-color="#ffb2b2"/>
<stop offset="0.056" stop-color="#ffa6a6"/>
<stop offset="0.111" stop-color="#ffa6a6"/>
<stop offset="0.167" stop-color="#ffa6a6"/>
<stop offset="0.222" stop-color="#ffb2b2"/>
<stop offset="0.278" stop-color="#ffb2b2"/>
<stop offset="0.333" stop-color="#ffa6a6"/>
<stop offset="0.389" stop-color="#ffb2b2"/>
<stop offset="0.444" stop-color="#ffcccc"/>
<stop offset="0.500" stop-color="#ffe6e6"/>
<stop offset="0.556" stop-color="#fff2f2"/>
<stop offset="0.611" stop-color="#ffffff"/>
<stop offset="0.667" stop-color="#f2f2ff"/>
<stop offset="0.722" stop-color="#d9d9ff"/>
<stop offset="0.778" stop-color="#bfbfff"/>
<stop offset="0.833" stop-color="#bfbfff"/>
<stop offset="0.889" stop-color="#d9d9ff"/>
<stop offset="0.944" stop-color="#e6e6ff"/>
<stop offset="1.000" stop-color="#f2f2ff"/>
</linearGradient>
<rect x="234.04" y="456.00" width="14.87" height="124.50" fill="url(#g3_13)"/>
<linearGradient id="g3_14" x1="0" y1="0" x2="0" y2="1">
<stop offset="0.000" stop-color="#ffdfdf"/>
<stop offset="0.056" stop-color="#ffd9d9"/>
<stop offset="0.111" stop-color="#ffd2d2"/>
<stop offset="0.167" stop-color="#ffcccc"/>
<stop offset="0.222" stop-color="#ffbfbf"/>
<stop offset="0.278" stop-color="#ffc6c6"/>
<stop offset="0.333" stop-color="#ffcccc"/>
<stop offset="0.389" stop-color="#ffe6e6"/>
<stop offset="0.444" stop-color="#ffffff"/>
<stop offset="0.500" stop-color="#bfbfff"/>
<stop offset="0.556" stop-color="#5959ff"/>
<stop offset="0.611" stop-color="#4d4dff"/>
<stop offset="0.667" stop-color="#9999ff"/>
<stop offset="0.722" stop-color="#ffffff"/>
<stop offset="0.778" stop-color="#ff9999"/>
<stop offset="0.833" stop-color="#ff8080"/>
<stop offset="0.889" stop-color="#ff8080"/>
<stop offset="0.944" stop-color="#ff8c8c"/>
<stop offset="1.000" stop-color="#ff9f9f"/>
</linearGradient>
<rect x="248.31" y="456.00" width="14.87" height="124.50" fill="url(#g3_14)"/>
<linearGradient id="g3_15" x1="0" y1="0" x2="0" y2="1">
<stop offset="0.000" stop-color="#b2b2ff"/>
<stop offset="0.056" stop-color="#a6a6ff"/>
<stop offset="0.111" stop-color="#9999ff"/>
<stop offset="0.167" stop-color="#9999ff"/>
<stop offset="0.222" stop-color="#9999ff"/>
<stop offset="0.278" stop-color="#9999ff"/>
<stop offset="0.333" stop-color="#a6a6ff"/>
<stop offset="0.389" stop-color="#9999ff"/>
<stop offset="0.444" stop-color="#8c8cff"/>
<stop offset="0.500" stop-color="#7373ff"/>
<stop offset="0.556" stop-color="#6666ff"/>
<stop offset="0.611" stop-color="#7373ff"/>
<stop offset="0.667" stop-color="#b2b2ff"/>
<stop offset="0.722" stop-color="#ffffff"/>
<stop offset="0.778" stop-color="#ffe6e6"/>
<stop offset="0.833" stop-color="#ffcccc"/>
<stop offset="0.889" stop-color="#ffbfbf"/>
<stop offset="0.944" stop-color="#ffbfbf"/>
<stop offset="1.000" stop-color="#ffcccc"/>
</linearGradient>
<rect x="262.58" y="456.00" width="14.87" height="124.50" fill="url(#g3_15)"/>
<linearGradient id="g3_16" x1="0" y1="0" x2="0" y2="1">
<stop offset="0.000" stop-color="#ccccff"/>
<stop offset="0.056" stop-color="#ccccff"/>
<stop offset="0.111" stop-color="#d9d9ff"/>
<stop offset="0.167" stop-color="#d9d9ff"/>
<stop offset="0.222" stop-color="#ccccff"/>
<stop offset="0.278" stop-color="#ccccff"/>
<stop offset="0.333" stop-color="#bfbfff"/>
<stop offset="0.389" stop-color="#ccccff"/>
<stop offset="0.444" stop-color="#d9d9ff"/>
<stop offset="0.500" stop-color="#d9d9ff"/>
<stop offset="0.556" stop-color="#d9d9ff"/>
<stop offset="0.611" stop-color="#d9d9ff"/>
<stop offset="0.667" stop-color="#d9d9ff"/>
<stop offset="0.722" stop-color="#ccccff"/>
<stop offset="0.778" stop-color="#d9d9ff"/>
<stop offset="0.833" stop-color="#e6e6ff"/>
<stop offset="0.889" stop-color="#d9d9ff"/>
<stop offset="0.944" stop-color="#ffffff"/>
<stop offset="1.000" stop-color="#ffe6e6"/>
</linearGradient>
<rect x="276.85" y="456.00" width="14.87" height="124.50" fill="url(#g3_16)"/>
<linearGradient id="g3_17" x1="0" y1="0" x2="0" y2="1">
<stop offset="0.000" stop-color="#ffe6e6"/>
<stop offset="0.056" stop-color="#ffe6e6"/>
<stop offset="0.111" stop-color="#ffd9d9"/>
<stop offset="0.167" stop-color="#ffd9d9"/>
<stop offset="0.222" stop-color="#ffd9d9"/>
<stop offset="0.278" stop-color="#ffd9d9"/>
<stop offset="0.333" stop-color="#ffcccc"/>
<stop offset="0.389" stop-color="#ffbfbf"/>
<stop offset="0.444" stop-color="#ffbfbf"/>
<stop offset="0.500" stop-color="#ffcccc"/>
<stop offset="0.556" stop-color="#ffbfbf"/>
<stop offset="0.611" stop-color="#ffb2b2"/>
<stop offset="0.667" stop-color="#ff9999"/>
<stop offset="0.722" stop-color="#ff8c8c"/>
<stop offset="0.778" stop-color="#ff8080"/>
<stop offset="0.833" stop-color="#ff8080"/>
<stop offset="0.889" stop-color="#ff8080"/>
<stop offset="0.944" stop-color="#ff8c8c"/>
<stop offset="1.000" stop-color="#ff9999"/>
</linearGradient>
<rect x="291.12" y="456.00" width="14.87" height="124.50" fill="url(#g3_17)"/>
<linearGradient id="g3_18" x1="0" y1="0" x2="0" y2="1">
<stop offset="0.000" stop-color="#ffe6e6"/>
<stop offset="0.056" stop-color="#ffe6e6"/>
<stop offset="0.111" stop-color="#ffecec"/>
<stop offset="0.167" stop-color="#fff2f2"/>
<stop offset="0.222" stop-color="#fff2f2"/>
<stop offset="0.278" stop-color="#ffe6e6"/>
<stop offset="0.333" stop-color="#ffd9d9"/>
<stop offset="0.389" stop-color="#ffd9d9"/>
<stop offset="0.444" stop-color="#ffd9d9"/>
<stop offset="0.500" stop-color="#ffd2d2"/>
<stop offset="0.556" stop-color="#ffcccc"/>
<stop offset="0.611" stop-color="#ffcccc"/>
<stop offset="0.667" stop-color="#ffbfbf"/>
<stop offset="0.722" stop-color="#ffb2b2"/>
<stop offset="0.778" stop-color="#ffa6a6"/>
<stop offset="0.833" stop-color="#ff9999"/>
<stop offset="0.889" stop-color="#ff9999"/>
<stop offset="0.944" stop-color="#ffa6a6"/>
<stop offset="1.000" stop-color="#ffb2b2"/>
</linearGradient>
<rect x="305.40" y="456.00" width="14.87" height="124.50" fill="url(#g3_18)"/>
<linearGradient id="g3_19" x1="0" y1="0" x2="0" y2="1">
<stop offset="0.000" stop-color="#ffbfbf"/>
<stop offset="0.056" stop-color="#ffb2b2"/>
<stop offset="0.111" stop-color="#ffb2b2"/>
<stop offset="0.167" stop-color="#ffb2b2"/>
<stop offset="0.222" stop-color="#ffb2b2"/>
<stop offset="0.278" stop-color="#ffb2b2"/>
<stop offset="0.333" stop-color="#ffb9b9"/>
<stop offset="0.389" stop-color="#ffbfbf"/>
<stop offset="0.444" stop-color="#ffbfbf"/>
<stop offset="0.500" stop-color="#ffbfbf"/>
<stop offset="0.556" stop-color="#ffb2b2"/>
<stop offset="0.611" stop-color="#ffa6a6"/>
<stop offset="0.667" stop-color="#ff8c8c"/>
<stop offset="0.722" stop-color="#ff4d4d"/>
<stop offset="0.778" stop-color="#ff2626"/>
<stop offset="0.833" stop-color="#ff1919"/>
<stop offset="0.889" stop-color="#ff2626"/>
<stop offset="0.944" stop-color="#ff8080"/>
<stop offset="1.000" stop-color="#ffd9d9"/>
</linearGradient>
<rect x="319.67" y="456.00" width="14.87" height="124.50" fill="url(#g3_19)"/>
<linearGradient id="g3_20" x1="0" y1="0" x2="0" y2="1">
<stop offset="0.000" stop-color="#ffe6e6"/>
<stop offset="0.056" stop-color="#ffd9d9"/>
<stop offset="0.111" stop-color="#ffd9d9"/>
<stop offset="0.167" stop-color="#ffcccc"/>
<stop offset="0.222" stop-color="#ffbfbf"/>
<stop offset="0.278" stop-color="#ffb2b2"/>
<stop offset="0.333" stop-color="#ffbfbf"/>
<stop offset="0.389" stop-color="#ffcccc"/>
<stop offset="0.444" stop-color="#ffd9d9"/>
<stop offset="0.500" stop-color="#ffd9d9"/>
<stop offset="0.556" stop-color="#ffe6e6"/>
<stop offset="0.611" stop-color="#ffd9d9"/>
<stop offset="0.667" stop-color="#ffbfbf"/>
<stop offset="0.722" stop-color="#ffb2b2"/>
<stop offset="0.778" stop-color="#ffbfbf"/>
<stop offset="0.833" stop-color="#ffd9d9"/>
<stop offset="0.889" stop-color="#fff2f2"/>
<stop offset="0.944" stop-color="#ccccff"/>
<stop offset="1.000" stop-color="#d9d9ff"/>
</linearGradient>
<rect x="333.94" y="456.00" width="14.87" height="124.50" fill="url(#g3_20)"/>
<linearGradient id="g3_21" x1="0" y1="0" x2="0" y2="1">
<stop offset="0.000" stop-color="#ff1919"/>
<stop offset="0.056" stop-color="#ff0d0d"/>
<stop offset="0.111" stop-color="#ff4040"/>
<stop offset="0.167" stop-color="#ff8080"/>
<stop offset="0.222" stop-color="#ffa6a6"/>
<stop offset="0.278" stop-color="#ffb2b2"/>
<stop offset="0.333" stop-color="#ffb2b2"/>
<stop offset="0.389" stop-color="#ffbfbf"/>
<stop offset="0.444" stop-color="#ffcccc"/>
<stop offset="0.500" stop-color="#ffd9d9"/>
<stop offset="0.556" stop-color="#ffe6e6"/>
<stop offset="0.611" stop-color="#fff2f2"/>
<stop offset="0.667" stop-color="#fff9f9"/>
<stop offset="0.722" stop-color="#fff2f2"/>
<stop offset="0.778" stop-color="#ffd9d9"/>
<stop offset="0.833" stop-color="#ffcccc"/>
<stop offset="0.889" stop-color="#ffcccc"/>
<stop offset="0.944" stop-color="#ffe6e6"/>
<stop offset="1.000" stop-color="#ffffff"/>
</linearGradient>
<rect x="348.21" y="456.00" width="14.87" height="124.50" fill="url(#g3_21)"/>
<linearGradient id="g3_22" x1="0" y1="0" x2="0" y2="1">
<stop offset="0.000" stop-color="#ff9999"/>
<stop offset="0.056" stop-color="#ff8080"/>
<stop offset="0.111" stop-color="#ff7373"/>
<stop offset="0.167" stop-color="#ff6666"/>
<stop offset="0.222" stop-color="#ff4d4d"/>
<stop offset="0.278" stop-color="#ff3333"/>
<stop offset="0.333" stop-color="#ff1919"/>
<stop offset="0.389" stop-color="#ff0000"/>
<stop offset="0.444" stop-color="#f90000"/>
<stop offset="0.500" stop-color="#f90000"/>
<stop offset="0.556" stop-color="#ff0000"/>
<stop offset="0.611" stop-color="#ff1919"/>
<stop offset="0.667" stop-color="#ff4040"/>
<stop offset="0.722" stop-color="#ff3333"/>
<stop offset="0.778" stop-color="#ff1919"/>
<stop offset="0.833" stop-color="#f90000"/>
<stop offset="0.889" stop-color="#ec0000"/>
<stop offset="0.944" stop-color="#ec0000"/>
<stop offset="1.000" stop-color="#f20000"/>
</linearGradient>
<rect x="362.48" y="456.00" width="14.87" height="124.50" fill="url(#g3_22)"/>
<linearGradient id="g3_23" x1="0" y1="0" x2="0" y2="1">
<stop offset="0.000" stop-color="#ffb2b2"/>
<stop offset="0.056" stop-color="#ffb2b2"/>
<stop offset="0.111" stop-color="#ffb2b2"/>
<stop offset="0.167" stop-color="#ffb2b2"/>
<stop offset="0.222" stop-color="#ffb2b2"/>
<stop offset="0.278" stop-color="#ffb2b2"/>
<stop offset="0.333" stop-color="#ff9999"/>
<stop offset="0.389" stop-color="#ff5959"/>
<stop offset="0.444" stop-color="#ff2626"/>
<stop offset="0.500" stop-color="#ff0000"/>
<stop offset="0.556" stop-color="#f90000"/>
<stop offset="0.611" stop-color="#f90000"/>
<stop offset="0.667" stop-color="#ff0000"/>
<stop offset="0.722" stop-color="#ff0000"/>
<stop offset="0.778" stop-color="#ff0000"/>
<stop offset="0.833" stop-color="#f90000"/>
<stop offset="0.889" stop-color="#f20000"/>
<stop offset="0.944" stop-color="#ec0000"/>
<stop offset="1.000" stop-color="#f20000"/>
</linearGradient>
<rect x="376.76" y="456.00" width="14.87" height="124.50" fill="url(#g3_23)"/>
<linearGradient id="g3_24" x1="0" y1="0" x2="0" y2="1">
<stop offset="0.000" stop-color="#d9d9ff"/>
<stop offset="0.056" stop-color="#d9d9ff"/>
<stop offset="0.111" stop-color="#d9d9ff"/>
<stop offset="0.167" stop-color="#d9d9ff"/>
<stop offset="0.222" stop-color="#d9d9ff"/>
<stop offset="0.278" stop-color="#d9d9ff"/>
<stop offset="0.333" stop-color="#ffffff"/>
<stop offset="0.389" stop-color="#ffe6e6"/>
<stop offset="0.444" stop-color="#ffd9d9"/>
<stop offset="0.500" stop-color="#ffb2b2"/>
<stop offset="0.556" stop-color="#ff8c8c"/>
<stop offset="0.611" stop-color="#ff8080"/>
<stop offset="0.667" stop-color="#ff8080"/>
<stop offset="0.722" stop-color="#ff9999"/>
<stop offset="0.778" stop-color="#ffb2b2"/>
<stop offset="0.833" stop-color="#ff8c8c"/>
<stop offset="0.889" stop-color="#ff8080"/>
<stop offset="0.944" stop-color="#ff8c8c"/>
<stop offset="1.000" stop-color="#ff9999"/>
</linearGradient>
<rect x="391.03" y="456.00" width="14.87" height="124.50" fill="url(#g3_24)"/>
<text x="0" y="0" font-size="14.5" text-anchor="middle" dominant-baseline="central" transform="translate(103.5,25.5) rotate(-5.0)">10</text>
<polyline fill="none" stroke="#000" stroke-width="1.55" stroke-linejoin="round" points="111,23.6 121.6,21 128,17.2 130,14.5"/>
<polyline fill="none" stroke="#000" stroke-width="1.55" stroke-linejoin="round" points="48.5,81 60.8,76.4 67,73.2 73.6,74.8 80,71.6 86.4,68.4 88,64 100,63 103,62.5 106,59.5 110,57.5 116,56 114,54.5 107,52 106,50 110,49 117,48.5"/>
<text x="0" y="0" font-size="14.5" text-anchor="middle" dominant-baseline="central" transform="translate(122.5,48.8) rotate(0.0)">0</text>
<polyline fill="none" stroke="#000" stroke-width="1.55" stroke-linejoin="round" points="127,46 132,45 140,44 153.6,42.2 164.8,39.6 166.4,38 156.8,34.8 150.4,30.6 156.8,28.4 176,26.8 189.6,31.2 197,32.5"/>
<text x="0" y="0" font-size="14.5" text-anchor="middle" dominant-baseline="central" transform="translate(204.0,33.5) rotate(-60.0)">0</text>
<polyline fill="none" stroke="#000" stroke-width="1.55" stroke-linejoin="round" points="203,25 200,19 197.5,14.5"/>
<ellipse cx="0" cy="0" rx="2.6" ry="3.0" fill="none" stroke="#000" stroke-width="1.3" transform="translate(105.5,68.0) rotate(0.0)"/>
<ellipse cx="0" cy="0" rx="1.2" ry="1.5" fill="none" stroke="#000" stroke-width="1.3" transform="translate(204.0,49.0) rotate(0.0)"/>
<text x="0" y="0" font-size="14.5" text-anchor="middle" dominant-baseline="central" transform="translate(307.0,19.8) rotate(-65.0)">0</text>
<polyline fill="none" stroke="#000" stroke-width="1.55" stroke-linejoin="round" points="309,14.5 308,16"/>
<polyline fill="none" stroke="#000" stroke-width="1.55" stroke-linejoin="round" points="301,25 296,27 291,28.2 280.2,31.8 278.4,35.5 282,39 292.8,40.8 300,39.5 311,40.6 322,39.5 333,38.4 343,37.3 348.4,34 349.5,27.4 351.7,20.8 358.3,17.5 360.5,14.5"/>
<polyline fill="none" stroke="#000" stroke-width="1.55" stroke-linejoin="round" points="363.8,14.5 366,20.8 372.6,24.1 379,28"/>
<polyline fill="none" stroke="#000" stroke-width="1.55" stroke-linejoin="round" points="48.5,103.8 66,102 84,100.2 102,98.4 123,97.5"/>
<text x="0" y="0" font-size="14.5" text-anchor="middle" dominant-baseline="central" transform="translate(130.0,97.5) rotate(0.0)">0</text>
<polyline fill="none" stroke="#000" stroke-width="1.55" stroke-linejoin="round" points="137,94 145,87.6 156,84 170,83.8 184,85.2 198,81 220.4,76.8 230.4,69.6 234.4,68.4 240,63.6 248.4,62.8 259.2,58.8"/>
<text x="0" y="0" font-size="14.5" text-anchor="middle" dominant-baseline="central" transform="translate(265.5,57.5) rotate(0.0)">0</text>
<polyline fill="none" stroke="#000" stroke-width="1.55" stroke-linejoin="round" points="272,54.5 283.2,52.8 292.8,52.3 300,50.5 311,51.6 322,52.7 333,51.2 344,51.6 350.6,56 349.5,61.5 341.8,65.9 334,70.3 341.8,72.5 349.5,75.8 352.8,82.4 354,88"/>
<ellipse cx="0" cy="0" rx="2.6" ry="3.6" fill="none" stroke="#000" stroke-width="1.3" transform="translate(354.0,92.3) rotate(0.0)"/>
<polyline fill="none" stroke="#000" stroke-width="1.55" stroke-linejoin="round" points="349.5,96 350,110 351.7,126.4"/>
<polyline fill="none" stroke="#000" stroke-width="1.55" stroke-linejoin="round" points="354,96 354.5,110 355,127"/>
<polyline fill="none" stroke="#000" stroke-width="1.55" stroke-linejoin="round" points="357.2,96 357.4,110 357.6,127"/>
<polyline fill="none" stroke="#000" stroke-width="1.55" stroke-linejoin="round" points="48.5,126 56,128 64,131"/>
<polyline fill="none" stroke="#000" stroke-width="1.55" stroke-linejoin="round" points="96,131 100,127 112,123.4 126,121.6"/>
<text x="0" y="0" font-size="14.5" text-anchor="middle" dominant-baseline="central" transform="translate(136.5,121.0) rotate(-5.0)">10</text>
<polyline fill="none" stroke="#000" stroke-width="1.55" stroke-linejoin="round" points="146,118.5 150,117 153,115.5 153,108 155.2,103 160,101.2 165,100 170,99.2 198,96.4 226,93.6 242.8,90.8 254,88 259,88.5"/>
<text x="0" y="0" font-size="14.5" text-anchor="middle" dominant-baseline="central" transform="translate(269.4,89.5) rotate(0.0)">10</text>
<polyline fill="none" stroke="#000" stroke-width="1.55" stroke-linejoin="round" points="279.2,90.8 290.4,95 301.6,93.6 311,91.2 322,94.5 333,96.7 344,95.2 349.5,93.4"/>
<polyline fill="none" stroke="#000" stroke-width="1.55" stroke-linejoin="round" points="262.4,79.6 263.8,83.8 270.8,83.8 275,82"/>
<text x="0" y="0" font-size="14.5" text-anchor="middle" dominant-baseline="central" transform="translate(284.8,77.8) rotate(0.0)">10</text>
<polyline fill="none" stroke="#000" stroke-width="1.55" stroke-linejoin="round" points="293,80 295,82"/>
<polyline fill="none" stroke="#000" stroke-width="1.55" stroke-linejoin="round" points="160,129 170,125.8 189.6,121.6 192,121"/>
<text x="0" y="0" font-size="14.5" text-anchor="middle" dominant-baseline="central" transform="translate(200.8,118.5) rotate(-20.0)">20</text>
<polyline fill="none" stroke="#000" stroke-width="1.55" stroke-linejoin="round" points="210.6,113.2 212,109 216.2,106.2 223.2,106.2 226,109 223.2,114.6 227.4,120.2 234.4,121.6 241.4,116 240,109 237.2,104.8 245.6,102 254,100.6 262.4,102 268,109 273.6,114.6"/>
<text x="0" y="0" font-size="14.5" text-anchor="middle" dominant-baseline="central" transform="translate(283.4,113.5) rotate(-15.0)">20</text>
<polyline fill="none" stroke="#000" stroke-width="1.55" stroke-linejoin="round" points="293.2,110.4 301.6,104.8 304.4,104.4 311,113.2 317.6,122 322,126.4 344,124.2 348.4,117.6"/>
<text x="0" y="0" font-size="14.5" text-anchor="middle" dominant-baseline="central" transform="translate(360.5,39.5) rotate(-80.0)">10</text>
<polyline fill="none" stroke="#000" stroke-width="1.55" stroke-dasharray="5,3.2" points="358.3,47.2 357.6,67 360.5,84.6 361.6,100 362.7,115.4 363.8,128"/>
<polyline fill="none" stroke="#000" stroke-width="1.55" stroke-dasharray="5,3.2" points="369.3,45 370,67 366,84.6 367,100 368.2,115.4 365,128"/>
<polyline fill="none" stroke="#000" stroke-width="1.55" stroke-linejoin="round" points="407.8,53.8 403.4,60.4 400.1,71.4 398,76"/>
<text x="0" y="0" font-size="14.5" text-anchor="middle" dominant-baseline="central" transform="translate(395.7,82.4) rotate(-70.0)">0</text>
<polyline fill="none" stroke="#000" stroke-width="1.55" stroke-linejoin="round" points="396.8,89 401.2,91.2 405.3,92.3"/>
<polyline fill="none" stroke="#000" stroke-width="1.55" stroke-dasharray="5,3.2" points="377,126.4 392.4,128.6"/>
<text x="0" y="0" font-size="14.5" text-anchor="middle" dominant-baseline="central" transform="translate(401.0,128.6) rotate(0.0)">-1</text>
<polyline fill="none" stroke="#0b6a2c" stroke-width="1.9" stroke-linejoin="round" points="98.2,50.8 101.0,51.1 102.8,53.0 104.6,53.2 107.0,49.4 109.0,49.0 111.0,51.7 112.5,47.2 114.0,46.6 117.0,48.9 118.8,45.5 120.6,44.5 122.3,46.8 124.0,45.5 127.0,43.3 130.0,47.5 133.0,44.0 134.8,46.9 136.6,44.8 138.3,43.8 140.0,44.2 143.0,48.4 146.0,44.1 147.7,47.3 149.4,45.5 151.2,48.2 153.0,45.5 156.0,48.2 157.5,49.0 159.0,46.8 162.2,51.0 165.0,49.5 166.5,47.3 168.0,49.0 171.0,50.7 173.0,49.2 175.0,49.7 178.0,51.0 181.0,52.2 184.0,50.4 185.9,47.9 187.8,51.5 189.4,47.9 191.0,47.5 194.0,48.1 195.7,49.9 197.4,50.0 200.0,48.3 201.9,50.4 203.8,48.0 204.9,53.1 206.0,52.6 207.0,56.8 208.0,55.2 209.1,59.9 210.2,59.5 213.0,62.9 215.0,64.8 218.2,62.5 219.6,65.4 221.0,67.4 223.0,66.1 224.6,70.2 226.2,68.5 229.0,71.4 230.8,74.9 232.6,73.9 233.8,77.8 235.0,76.9 236.0,81.1 237.0,81.0 239.0,82.8 241.0,88.3 242.0,89.5 243.0,91.6 245.4,91.6 246.7,92.2 248.0,96.0 249.7,94.2 251.4,95.1 254.0,99.0 257.0,96.7 259.0,98.4 261.0,98.7 264.0,102.1 265.7,100.2 267.4,103.2 268.7,102.2 270.0,106.8 271.3,106.1 272.5,110.5 273.8,110.1 275.4,110.8 277.0,114.6 278.6,114.1 280.2,118.8 283.0,119.8 284.8,117.0 286.6,120.7 288.3,119.6 290.0,121.1 291.5,124.4 293.0,125.7 294.5,123.2 296.0,127.8 297.7,125.6 299.4,129.4 302.0,128.2 303.9,131.2 305.8,129.3 307.4,133.1 309.0,132.1 310.6,135.3 312.2,136.3 315.0,132.2 316.8,134.7 318.6,132.4 320.3,131.9 322.0,134.4 325.0,133.3 328.2,133.9 331.0,130.9 334.0,131.4 335.9,131.8 337.8,131.2 341.0,132.9 344.0,130.8 345.7,131.7 347.4,128.7 349.2,130.8 351.0,128.2 354.0,129.3 357.0,126.3 360.0,127.3 363.0,128.1 364.8,125.5 366.6,128.8 368.3,124.9 370.0,126.2 373.0,122.9 374.5,121.8 376.0,123.3 377.7,120.4 379.4,121.4 382.0,116.2 383.9,118.8 385.8,115.1 387.4,115.3 389.0,111.5 391.0,115.6 392.4,111.0 393.8,111.9 396.0,112.6 398.6,113.4 401.0,111.7 403.0,112.5 405.0,110.6"/>
<text x="0" y="0" font-size="14.5" text-anchor="middle" dominant-baseline="central" transform="translate(156.0,171.0) rotate(-90.0)">-10</text>
<polyline fill="none" stroke="#000" stroke-width="1.55" stroke-dasharray="5,3.2" points="157.2,178 165.6,180.4 179.6,182.6 192,180.8 204,179.6 211.2,176 218.4,171.2 225.6,167.6 232.8,162.8 235,161.3"/>
<polyline fill="none" stroke="#000" stroke-width="1.55" stroke-dasharray="5,3.2" points="157.2,164.5 157.5,161.3"/>
<polyline fill="none" stroke="#000" stroke-width="1.55" stroke-dasharray="5,3.2" points="189.6,166.4 199.2,168.8 206.4,168.8 213.6,164 218.4,161.6"/>
<polyline fill="none" stroke="#000" stroke-width="1.55" stroke-dasharray="5,3.2" points="98.4,190.2 112.4,191.6 126.4,190.2 137.6,188.8 143,191"/>
<text x="0" y="0" font-size="14.5" text-anchor="middle" dominant-baseline="central" transform="translate(149.0,196.0) rotate(45.0)">10</text>
<polyline fill="none" stroke="#000" stroke-width="1.55" stroke-dasharray="5,3.2" points="155.8,204.2 160,212.6 151.6,218.2 137.6,223.8 129.2,223 118,219.6 106.8,215.4 101.2,212.6 98,211"/>
<polyline fill="none" stroke="#000" stroke-width="1.55" stroke-linejoin="round" points="48.5,257.4 62,257.4 76,256 87.2,257.4 91,258"/>
<text x="0" y="0" font-size="14.5" text-anchor="middle" dominant-baseline="central" transform="translate(97.5,258.3) rotate(0.0)">0</text>
<polyline fill="none" stroke="#000" stroke-width="1.55" stroke-linejoin="round" points="104,256 112.4,251.8 126.4,248.2 143.2,247 154.4,244.8 155.8,237.8 160,232.2 168.4,228 179.6,225.2 189.6,219.2 199.2,216.8 206.4,213.2 210,208.4 211.2,203"/>
<text x="0" y="0" font-size="14.5" text-anchor="middle" dominant-baseline="central" transform="translate(216.0,197.5) rotate(-70.0)">0</text>
<polyline fill="none" stroke="#000" stroke-width="1.55" stroke-linejoin="round" points="218.4,190 223.2,184.4 232.8,177.2 242.4,172.4 252,168.8 264,167.6 273.6,166.4 277,167"/>
<text x="0" y="0" font-size="14.5" text-anchor="middle" dominant-baseline="central" transform="translate(281.0,168.0) rotate(-60.0)">0</text>
<polyline fill="none" stroke="#000" stroke-width="1.55" stroke-linejoin="round" points="283.5,162.5 284,161.3"/>
<text x="0" y="0" font-size="14.5" text-anchor="middle" dominant-baseline="central" transform="translate(128.0,267.0) rotate(80.0)">10</text>
<polyline fill="none" stroke="#000" stroke-width="1.55" stroke-linejoin="round" points="132,263 146,261.6 160,257.4 171.2,253.2 182.4,249 192,245.6 204,239.6 211.2,231.2 213.6,222.8 219.6,219.2 228,215.6 231.6,209.6 230.4,204"/>
<polyline fill="none" stroke="#000" stroke-width="1.55" stroke-linejoin="round" points="132,270.5 140.4,271.4 141.8,276"/>
<text x="0" y="0" font-size="14.5" text-anchor="middle" dominant-baseline="central" transform="translate(233.5,196.0) rotate(-35.0)">10</text>
<polyline fill="none" stroke="#000" stroke-width="1.55" stroke-linejoin="round" points="237.6,189.2 244.8,183.2 249.6,179.6 256.8,184.4 266.4,186.8 276,185.6 282,189.2 285.6,198.8 286.8,210.8 283.2,220.4 279.6,230 277.2,239.6 280.8,249.2 285.6,254 290.4,258.8 293,262"/>
<polyline fill="none" stroke="#000" stroke-width="1.55" stroke-linejoin="round" points="165.6,273 174,268.6 188,263 194.4,258.8 197,257.5"/>
<text x="0" y="0" font-size="14.5" text-anchor="middle" dominant-baseline="central" transform="translate(205.5,255.0) rotate(-25.0)">20</text>
<polyline fill="none" stroke="#000" stroke-width="1.55" stroke-linejoin="round" points="213.6,250.4 222,242 228,237.2 237.6,230 240,226"/>
<text x="0" y="0" font-size="14.5" text-anchor="middle" dominant-baseline="central" transform="translate(262.0,203.5) rotate(0.0)">20</text>
<polyline fill="none" stroke="#000" stroke-width="1.55" stroke-linejoin="round" points="252,201 241.2,201.2 237.6,206 234,212 225.6,216.8 222,219.2 228,221.6 237.6,222.8 242.4,227.6 243.6,234.8 240,242 236.4,244.4"/>
<polyline fill="none" stroke="#000" stroke-width="1.55" stroke-linejoin="round" points="271.5,203.6 277.2,206 278.4,215.6 276,227.6 271.2,234.8 264,237.2 260.4,242 259.2,251.6 256.8,258.8 252,266 242.4,273.2 238,276"/>
<polyline fill="none" stroke="#000" stroke-width="1.55" stroke-linejoin="round" points="289.1,161.3 289.5,173.6 290.4,191.8 291.7,210 290.4,225.6 287.8,243.8 285,259"/>
<polyline fill="none" stroke="#000" stroke-width="1.55" stroke-linejoin="round" points="281.3,168 285.2,173.6 284,184 281.3,194.4 280,210 281,230"/>
<text x="0" y="0" font-size="14.5" text-anchor="middle" dominant-baseline="central" transform="translate(327.0,179.0) rotate(-70.0)">20</text>
<polyline fill="none" stroke="#000" stroke-width="1.55" stroke-dasharray="5,3.2" points="335.9,161.9 332,168.4 330,172"/>
<polyline fill="none" stroke="#000" stroke-width="1.55" stroke-dasharray="5,3.2" points="324,186 321.6,189.2 316.4,194.4 306,197 293,194.4"/>
<polyline fill="none" stroke="#000" stroke-width="1.55" stroke-dasharray="5,3.2" points="358,168.4 350.2,181.4 342.4,186.6 332,188"/>
<text x="0" y="0" font-size="14.5" text-anchor="middle" dominant-baseline="central" transform="translate(315.0,212.5) rotate(0.0)">0</text>
<polyline fill="none" stroke="#000" stroke-width="1.55" stroke-dasharray="5,3.2" points="295.6,204.8 306,206.1"/>
<text x="0" y="0" font-size="14.5" text-anchor="middle" dominant-baseline="central" transform="translate(336.0,211.0) rotate(-60.0)">10</text>
<polyline fill="none" stroke="#000" stroke-width="1.55" stroke-linejoin="round" points="324.2,207.4 326,214"/>
<polyline fill="none" stroke="#000" stroke-width="1.55" stroke-linejoin="round" points="332,199.6 342.4,194.4 352.8,190.5 363.2,191.8 376.2,190.5 380,190.5 389.2,197 397,210 402.2,225.6 405.3,232"/>
<polyline fill="none" stroke="#000" stroke-width="1.55" stroke-linejoin="round" points="334.6,221.7 333.3,228.2 337.2,234.7 347.6,238.6 358,236 365.8,234.7 376.2,233.4 384,228.2 381.4,220.4 371,217.8 365.8,210 358,204.8 347.6,206.1 339.8,210 334.6,221.7"/>
<text x="0" y="0" font-size="14.5" text-anchor="middle" dominant-baseline="central" transform="translate(361.0,224.5) rotate(10.0)">20</text>
<polyline fill="none" stroke="#000" stroke-width="1.55" stroke-linejoin="round" points="319,238.6 324.2,246.4 332,250.3 345,251.6 358,249 371,246.4 384,247.7 397,254.2 405.3,256.8"/>
<polyline fill="none" stroke="#000" stroke-width="1.55" stroke-linejoin="round" points="319,238.6 313.8,251.6 311.2,264.6 306,272.4"/>
<polyline fill="none" stroke="#000" stroke-width="1.55" stroke-dasharray="5,3.2" points="326.8,265.9 337.2,268.5"/>
<text x="0" y="0" font-size="14.5" text-anchor="middle" dominant-baseline="central" transform="translate(347.0,269.5) rotate(0.0)">-10</text>
<polyline fill="none" stroke="#000" stroke-width="1.55" stroke-dasharray="5,3.2" points="358,270 365.8,273.7"/>
<text x="0" y="0" font-size="14.5" text-anchor="middle" dominant-baseline="central" transform="translate(296.0,272.0) rotate(0.0)">0</text>
<polyline fill="none" stroke="#0b6a2c" stroke-width="1.9" stroke-linejoin="round" points="48.5,210.4 50.2,210.1 52.0,211.1 55.0,212.7 57.6,213.4 59.3,210.0 61.0,211.4 64.0,213.9 67.2,209.3 70.0,213.1 71.5,209.5 73.0,211.5 74.9,209.4 76.8,212.3 78.4,212.6 80.0,212.6 83.0,208.7 86.4,212.1 89.0,208.5 92.0,209.8 94.0,212.1 96.0,211.2 99.0,212.1 100.5,208.8 102.0,210.5 103.8,210.6 105.6,207.5 108.0,205.6 110.0,204.7 112.0,206.4 113.5,202.5 115.0,201.9 116.7,202.9 118.4,201.6 119.7,200.6 121.0,196.6 123.2,197.6 124.1,196.4 125.0,199.6 126.5,198.9 128.0,201.5 129.5,198.5 131.0,200.7 132.7,198.5 134.4,201.6 137.0,199.9 138.9,196.8 140.8,198.7 142.4,196.9 144.0,197.8 147.2,200.4 150.0,201.6 153.0,200.4 154.9,201.0 156.8,203.1 158.4,199.8 160.0,202.2 163.0,199.2 164.7,201.7 166.4,198.3 168.2,200.3 170.0,198.8 173.0,197.6 176.0,199.0 178.0,196.8 180.8,200.8 181.9,200.4 183.0,205.5 184.3,205.7 185.6,210.4 187.3,208.5 189.0,210.5 190.5,215.0 192.0,214.4 193.5,215.4 195.0,216.1 196.7,219.6 198.4,217.2 201.0,218.5 202.9,216.2 204.8,219.1 206.5,218.1 208.2,219.1 210.1,222.6 212.0,220.3 213.0,224.5 214.0,226.3 216.0,225.8 218.0,229.5 220.0,228.0 222.3,231.3 224.5,230.1 226.8,233.0 228.2,232.1 229.6,235.9 231.0,234.5 232.8,239.5 234.6,238.1 236.4,243.5 239.0,239.3 240.9,237.5 242.8,239.4 244.4,235.1 246.0,234.0 247.6,232.7 249.2,233.6 252.0,233.1 253.8,234.4 255.6,239.7 256.4,239.1 257.2,242.8 258.0,247.7 258.6,246.8 259.2,251.8 259.8,253.3 260.4,255.9 261.2,250.9 262.0,251.1 262.8,249.0 263.6,245.0 265.3,245.8 267.0,250.8 268.5,249.2 270.1,252.9 271.6,252.0 273.7,255.1 275.9,252.7 278.0,255.8 280.1,254.2 282.3,258.1 284.4,256.7 286.3,259.0 288.1,258.0 290.0,260.8 292.4,258.8 294.8,260.3 297.2,263.1 299.6,265.5 302.0,264.2 304.3,265.4 306.6,266.2 308.3,269.9 310.0,270.0 310.0,270.4 310.0,275.1 312.4,273.0 314.8,276.6 316.4,275.5 318.0,279.3 320.5,280.1 323.0,281.8 325.0,279.8 327.0,282.0 329.1,280.1 331.2,283.0 333.1,280.3 335.0,280.2 337.1,282.1 339.3,282.6 341.1,279.1 343.0,281.4 345.2,278.1 347.5,276.0 349.2,277.7 351.0,273.3 353.4,273.5 355.7,270.7 357.9,271.9 360.0,267.6 362.0,267.5 364.0,268.6 366.0,267.7 368.0,264.6 370.0,265.9 372.0,264.1 374.0,262.9 376.0,259.4 378.1,261.0 380.3,258.8 382.1,260.2 384.0,256.2 386.2,258.4 388.5,256.2 390.2,258.6 392.0,257.3 394.4,258.9 396.7,260.6 398.9,260.6 401.0,262.7 403.0,263.5 405.0,263.5"/>
<text x="0" y="0" font-size="14.5" text-anchor="middle" dominant-baseline="central" transform="translate(63.4,362.4) rotate(-35.0)">10</text>
<polyline fill="none" stroke="#000" stroke-width="1.55" stroke-linejoin="round" points="48.5,354 56.4,354.8 60.6,358"/>
<polyline fill="none" stroke="#000" stroke-width="1.55" stroke-linejoin="round" points="55,366.5 48.5,368"/>
<polyline fill="none" stroke="#000" stroke-width="1.55" stroke-linejoin="round" points="210,309 205.2,311.4"/>
<text x="0" y="0" font-size="14.5" text-anchor="middle" dominant-baseline="central" transform="translate(199.6,314.6) rotate(-20.0)">0</text>
<polyline fill="none" stroke="#000" stroke-width="1.55" stroke-linejoin="round" points="191.6,317.5 178,318.6 162,319.7 149.2,321.8 139.6,325 137.2,329 141.2,333 150.8,336.2 162,337.8 171.6,338.6 181.2,337 185.2,337.8 182.8,339.4 174.8,341 168.4,341.8 167,345"/>
<text x="0" y="0" font-size="14.5" text-anchor="middle" dominant-baseline="central" transform="translate(173.2,350.6) rotate(-20.0)">0</text>
<polyline fill="none" stroke="#000" stroke-width="1.55" stroke-linejoin="round" points="181.2,353 190.8,355.4 194.8,358.6 190.8,361 178,361 162,364.2 150.8,369 152.4,370.6 170,373 186,374.6 195.6,375.4 205.2,373 208.4,380.2"/>
<text x="0" y="0" font-size="14.5" text-anchor="middle" dominant-baseline="central" transform="translate(207.7,388.2) rotate(-30.0)">0</text>
<polyline fill="none" stroke="#000" stroke-width="1.55" stroke-linejoin="round" points="201.2,394.7 203.8,397.3 216.8,401.2 235,405.1 248,406.9 261,407.7 274,408.5 279.2,409 287,409"/>
<text x="0" y="0" font-size="14.5" text-anchor="middle" dominant-baseline="central" transform="translate(52.5,420.0) rotate(-15.0)">0</text>
<polyline fill="none" stroke="#000" stroke-width="1.55" stroke-linejoin="round" points="56.4,425.4 53.6,432.4"/>
<polyline fill="none" stroke="#000" stroke-width="1.55" stroke-dasharray="5,3.2" points="219.4,350.5 232.4,350.5"/>
<text x="0" y="0" font-size="14.5" text-anchor="middle" dominant-baseline="central" transform="translate(231.0,378.0) rotate(-80.0)">-10</text>
<polyline fill="none" stroke="#000" stroke-width="1.55" stroke-dasharray="5,3.2" points="236.3,367 238.9,373"/>
<polyline fill="none" stroke="#000" stroke-width="1.55" stroke-dasharray="5,3.2" points="232.4,388.2 236.3,394.7 248,394.7 261,394.7 274,394.7 279.2,393.4"/>
<polyline fill="none" stroke="#000" stroke-width="1.55" stroke-dasharray="5,3.2" points="248,373.9 250.6,364.8 253.2,344 255.8,331 262.3,318 263.6,309"/>
<polyline fill="none" stroke="#000" stroke-width="1.55" stroke-dasharray="5,3.2" points="268.8,318 267.5,331 268.8,357 271.4,364.8"/>
<text x="0" y="0" font-size="14.5" text-anchor="middle" dominant-baseline="central" transform="translate(279.2,370.5) rotate(-70.0)">20</text>
<polyline fill="none" stroke="#000" stroke-width="1.55" stroke-dasharray="5,3.2" points="283.1,380.4 284.4,386"/>
<polyline fill="none" stroke="#000" stroke-width="1.55" stroke-dasharray="5,3.2" points="281.8,309 282.5,330 284.4,346"/>
<polyline fill="none" stroke="#000" stroke-width="1.55" stroke-dasharray="5,3.2" points="288.3,309 289,330 289.6,346"/>
<ellipse cx="0" cy="0" rx="4.0" ry="2.4" fill="none" stroke="#000" stroke-width="1.3" transform="translate(289.6,353.0) rotate(0.0)"/>
<polyline fill="none" stroke="#000" stroke-width="1.55" stroke-linejoin="round" points="289.6,357 288.8,370 287.7,383.3 283.3,394.8 281,399"/>
<text x="0" y="0" font-size="14.5" text-anchor="middle" dominant-baseline="central" transform="translate(287.5,399.5) rotate(-60.0)">10</text>
<polyline fill="none" stroke="#000" stroke-width="1.55" stroke-linejoin="round" points="279.7,403.7 278,407.3 270.9,410.8 267.3,417 265.5,425 263.8,433.6"/>
<text x="0" y="0" font-size="14.5" text-anchor="middle" dominant-baseline="central" transform="translate(296.0,411.5) rotate(-20.0)">20</text>
<text x="0" y="0" font-size="14.5" text-anchor="middle" dominant-baseline="central" transform="translate(222.0,419.4) rotate(-15.0)">10</text>
<polyline fill="none" stroke="#000" stroke-width="1.55" stroke-linejoin="round" points="212,422 216.8,423.3 229.8,427.2 237.6,427.2 242.8,429.8 244,433"/>
<polyline fill="none" stroke="#000" stroke-width="1.55" stroke-linejoin="round" points="232.4,418.1 245.4,419.4 253.2,423.3 250.6,433"/>
<text x="0" y="0" font-size="14.5" text-anchor="middle" dominant-baseline="central" transform="translate(328.1,337.5) rotate(-20.0)">0</text>
<polyline fill="none" stroke="#000" stroke-width="1.55" stroke-linejoin="round" points="322.9,334.9 311.2,337.5 303.4,342.7 298.2,347.9 303.4,350.5 319,358.3 332,360.9 347.6,362.2 350.2,357 345,349.2 337.2,345.3 334.6,341.4"/>
<polyline fill="none" stroke="#000" stroke-width="1.55" stroke-linejoin="round" points="334.6,336.2 347.6,337.5 355.4,341.4 358,350.5 359.3,364.8 356.7,377.8 354.1,388.2 352,394"/>
<text x="0" y="0" font-size="14.5" text-anchor="middle" dominant-baseline="central" transform="translate(350.2,399.9) rotate(-20.0)">0</text>
<polyline fill="none" stroke="#000" stroke-width="1.55" stroke-linejoin="round" points="346.3,406.4 347.6,414.2 350,425 352,433"/>
<polyline fill="none" stroke="#000" stroke-width="1.55" stroke-linejoin="round" points="326.8,309 329.4,318 342.4,321.9 355.4,323.2 358,318"/>
<polyline fill="none" stroke="#000" stroke-width="1.55" stroke-linejoin="round" points="352.8,310.2 355.4,325.8 363.2,331 369.7,328.4 371,320.6 368.4,312.8 365.8,309"/>
<text x="0" y="0" font-size="14.5" text-anchor="middle" dominant-baseline="central" transform="translate(360.6,315.4) rotate(-70.0)">20</text>
<polyline fill="none" stroke="#000" stroke-width="1.55" stroke-linejoin="round" points="279,392 293,390.8 306,389.5 319,388.7 332,390.8 342.4,396 344,405"/>
<text x="0" y="0" font-size="14.5" text-anchor="middle" dominant-baseline="central" transform="translate(400.9,363.5) rotate(-60.0)">10</text>
<polyline fill="none" stroke="#000" stroke-width="1.55" stroke-linejoin="round" points="391.8,351.8 387.9,350.5 389.2,346.6 397,344 405.3,341.4"/>
<text x="0" y="0" font-size="14.5" text-anchor="middle" dominant-baseline="central" transform="translate(390.5,411.6) rotate(-70.0)">20</text>
<polyline fill="none" stroke="#000" stroke-width="1.55" stroke-linejoin="round" points="405.3,401.2 402.2,405.1 394.4,407.7"/>
<polyline fill="none" stroke="#000" stroke-width="1.55" stroke-linejoin="round" points="389.2,417.5 381.4,422 376.2,428.5 378.8,434"/>
<ellipse cx="0" cy="0" rx="3.5" ry="4.5" fill="none" stroke="#000" stroke-width="1.3" transform="translate(338.5,420.7) rotate(0.0)"/>
<text x="0" y="0" font-size="14.5" text-anchor="middle" dominant-baseline="central" transform="translate(358.0,418.1) rotate(-80.0)">10</text>
<polyline fill="none" stroke="#0b6a2c" stroke-width="1.9" stroke-linejoin="round" points="97.0,341.8 100.0,341.7 101.5,343.8 103.0,339.4 104.5,340.8 106.0,344.1 107.5,340.9 109.0,342.8 111.0,340.7 114.0,344.6 115.5,341.8 117.0,339.8 120.0,344.5 123.0,343.8 125.0,341.2 127.0,344.4 130.0,340.8 131.5,343.7 133.0,342.7 136.0,343.7 139.0,342.4 141.0,343.4 143.0,341.3 146.0,342.1 149.0,344.2 150.5,340.2 152.0,341.8 155.0,340.1 157.0,341.3 159.0,338.5 162.0,341.8 165.0,337.7 168.0,342.0 169.9,339.5 171.8,341.4 174.0,340.9 176.1,343.5 178.2,341.5 181.0,345.2 184.0,345.3 187.0,343.7 189.0,346.1 191.0,343.2 194.0,342.4 197.0,344.1 200.0,343.3 203.0,346.7 205.0,342.9 207.0,342.3 210.0,340.7 213.0,345.1 216.0,340.5 219.0,342.3 221.0,341.3 223.0,343.7 226.0,342.7 229.0,343.5 232.0,342.4 235.0,343.3 237.0,341.3 239.0,341.4 242.0,340.5 245.0,339.7 246.8,342.4 248.6,339.7 251.0,343.5 252.8,340.6 254.6,343.8 257.0,341.6 260.0,343.0 262.1,341.1 264.2,341.7 267.0,345.8 270.0,341.4 271.9,344.7 273.8,342.7 275.4,345.4 277.0,343.6 280.0,345.2 281.7,343.9 283.4,346.9 286.0,346.4 288.0,349.5 290.0,350.4 293.0,347.6 295.0,347.6 297.8,347.2 300.0,344.6 302.6,348.8 303.8,347.9 305.0,350.8 307.4,351.0 308.7,354.8 310.0,353.1 311.1,357.3 312.2,357.4 313.6,358.0 315.0,362.6 316.8,361.9 318.6,363.5 320.3,367.6 322.0,368.8 323.5,368.1 325.0,372.1 326.5,371.2 328.0,371.4 329.7,375.5 331.4,374.7 332.7,378.5 334.0,377.7 335.9,380.5 337.8,379.8 341.0,383.7 342.6,381.9 344.2,384.8 347.0,383.9 348.8,387.4 350.6,385.6 351.8,384.1 353.0,382.1 354.2,380.5 355.4,380.4 356.3,379.4 357.1,383.9 358.0,384.3 358.7,388.4 359.5,386.7 360.2,391.4 361.6,390.9 363.0,394.2 364.2,398.3 365.4,396.9 366.6,398.4 368.3,402.6 370.0,401.8 371.5,404.0 373.0,407.5 374.5,406.8 376.0,409.6 377.7,409.4 379.4,412.4 382.0,412.1 383.9,415.5 385.8,416.0 389.0,412.6 392.2,416.1 393.6,412.3 395.0,413.1 397.0,408.7 400.0,409.6 401.8,405.2 403.5,406.1 405.0,408.0"/>
<polyline fill="none" stroke="#000" stroke-width="1.55" stroke-linejoin="round" points="48.5,519.2 56.4,520.6 62,523.4 56.4,526.2 48.5,527"/>
<text x="0" y="0" font-size="14.5" text-anchor="middle" dominant-baseline="central" transform="translate(116.6,519.5) rotate(-30.0)">0</text>
<polyline fill="none" stroke="#000" stroke-width="1.55" stroke-linejoin="round" points="120.8,512.2 132,510.8 146,510.8 160,508 174,506.6 188,508 194.7,506.6 196,501.4 194.7,493.6 193.4,485.8 192.1,480.6 196,475.4 203.8,471.5 212.9,466.3"/>
<text x="0" y="0" font-size="14.5" text-anchor="middle" dominant-baseline="central" transform="translate(216.8,461.1) rotate(-30.0)">0</text>
<polyline fill="none" stroke="#000" stroke-width="1.55" stroke-linejoin="round" points="219,456 220,455.6"/>
<polyline fill="none" stroke="#000" stroke-width="1.55" stroke-linejoin="round" points="116.6,522.5 123.6,524.8 137.6,527 160,527.6 174,529 188,531.8 196,535.2 201.2,537.8 209,539.1 222,542.5 227,544"/>
<text x="0" y="0" font-size="14.5" text-anchor="middle" dominant-baseline="central" transform="translate(233.7,545.6) rotate(0.0)">0</text>
<polyline fill="none" stroke="#000" stroke-width="1.55" stroke-linejoin="round" points="240,545 248,544.3 261,543 274,540.4 284.4,535.2 292.2,530 300,527.4"/>
<text x="0" y="0" font-size="14.5" text-anchor="middle" dominant-baseline="central" transform="translate(64.8,569.6) rotate(-50.0)">10</text>
<polyline fill="none" stroke="#000" stroke-width="1.55" stroke-linejoin="round" points="70.4,565.4 90,564 118,565.4 132,564 146,561.8 160,561.2 174,559.8 188,558.4 193.4,557.3 199,556"/>
<text x="0" y="0" font-size="14.5" text-anchor="middle" dominant-baseline="central" transform="translate(207.7,554.7) rotate(0.0)">10</text>
<polyline fill="none" stroke="#000" stroke-width="1.55" stroke-linejoin="round" points="217,552.5 235,550.8 248,549.5 261,548.2 274,545.6 281.8,541.7 289.6,537.8 300,535.2"/>
<polyline fill="none" stroke="#000" stroke-width="1.55" stroke-linejoin="round" points="76,576 95,577"/>
<polyline fill="none" stroke="#000" stroke-width="1.55" stroke-linejoin="round" points="118,577 124,577"/>
<text x="0" y="0" font-size="14.5" text-anchor="middle" dominant-baseline="central" transform="translate(237.6,572.9) rotate(0.0)">20</text>
<polyline fill="none" stroke="#000" stroke-width="1.55" stroke-linejoin="round" points="206.4,570.3 222,571.6 228,572"/>
<polyline fill="none" stroke="#000" stroke-width="1.55" stroke-linejoin="round" points="247,574 261,576.3 268,578"/>
<polyline fill="none" stroke="#000" stroke-width="1.55" stroke-linejoin="round" points="206.4,570.3 222,563.8 235,561.2 248,558.6 261,556 274,553.4 284.4,550.8"/>
<text x="0" y="0" font-size="14.5" text-anchor="middle" dominant-baseline="central" transform="translate(215.5,500.1) rotate(-80.0)">10</text>
<polyline fill="none" stroke="#000" stroke-width="1.55" stroke-dasharray="5,3.2" points="216.8,490 222,480.6 232.4,467.6 240.2,462.4 248,458.5 252,455.6"/>
<polyline fill="none" stroke="#000" stroke-width="1.55" stroke-dasharray="5,3.2" points="216.8,511.8 218.1,524.8 224.6,535.2 235,539.1 248,539.1 261,537.8 274,535.2"/>
<text x="0" y="0" font-size="14.5" text-anchor="middle" dominant-baseline="central" transform="translate(229.8,505.3) rotate(0.0)">20</text>
<polyline fill="none" stroke="#000" stroke-width="1.55" stroke-dasharray="5,3.2" points="220.7,494.9 232.4,493.6"/>
<polyline fill="none" stroke="#000" stroke-width="1.55" stroke-dasharray="5,3.2" points="235,485.8 242.8,478 253.2,470.2 266.2,465 268.8,459.8 270,455.6"/>
<polyline fill="none" stroke="#000" stroke-width="1.55" stroke-dasharray="5,3.2" points="242.8,506.6 255.8,504 268.8,501.4"/>
<polyline fill="none" stroke="#000" stroke-width="1.55" stroke-dasharray="5,3.2" points="279.2,456 279.5,480 279.5,500 279.2,517"/>
<text x="0" y="0" font-size="14.5" text-anchor="middle" dominant-baseline="central" transform="translate(283.9,484.0) rotate(-90.0)">0</text>
<polyline fill="none" stroke="#000" stroke-width="1.55" stroke-linejoin="round" points="290.4,456 289.1,504 287.8,524.8 285.2,537.8 280,545.6"/>
<text x="0" y="0" font-size="14.5" text-anchor="middle" dominant-baseline="central" transform="translate(284.4,556.0) rotate(-60.0)">30</text>
<polyline fill="none" stroke="#000" stroke-width="1.55" stroke-linejoin="round" points="300.8,457.2 298.2,462.4 306,466.3 319,470.2 329.4,475.4 332,477"/>
<text x="0" y="0" font-size="14.5" text-anchor="middle" dominant-baseline="central" transform="translate(339.8,480.6) rotate(-20.0)">10</text>
<polyline fill="none" stroke="#000" stroke-width="1.55" stroke-linejoin="round" points="348,483 350.2,483.2 363.2,485.8 376.2,489.7 384,491 394.4,488.4 405.3,484.5"/>
<polyline fill="none" stroke="#000" stroke-width="1.55" stroke-linejoin="round" points="347.6,462.4 348.9,471.5 363.2,474.1 365.8,467.6"/>
<text x="0" y="0" font-size="14.5" text-anchor="middle" dominant-baseline="central" transform="translate(356.7,465.0) rotate(0.0)">20</text>
<polyline fill="none" stroke="#000" stroke-width="1.55" stroke-linejoin="round" points="332,510.5 319,505.3 303.4,501.4 295.6,496.2 300.8,492.3 319,491 345,491 355.4,496.2 358,504 355.4,511.8 360.6,517"/>
<text x="0" y="0" font-size="14.5" text-anchor="middle" dominant-baseline="central" transform="translate(335.9,513.1) rotate(-30.0)">0</text>
<ellipse cx="0" cy="0" rx="4.0" ry="2.5" fill="none" stroke="#000" stroke-width="1.3" transform="translate(363.5,518.5) rotate(35.0)"/>
<polyline fill="none" stroke="#000" stroke-width="1.55" stroke-linejoin="round" points="321.6,530 332,535.2 335,537"/>
<text x="0" y="0" font-size="14.5" text-anchor="middle" dominant-baseline="central" transform="translate(342.4,540.4) rotate(30.0)">10</text>
<polyline fill="none" stroke="#000" stroke-width="1.55" stroke-linejoin="round" points="351.5,544.3 361.5,539.5 375,535 387,529 390,520 393,514 394.5,506.5 399,503 405.3,500"/>
<text x="0" y="0" font-size="14.5" text-anchor="middle" dominant-baseline="central" transform="translate(312.5,539.1) rotate(0.0)">20</text>
<polyline fill="none" stroke="#000" stroke-width="1.55" stroke-linejoin="round" points="293,541.7 303.4,540.4"/>
<polyline fill="none" stroke="#000" stroke-width="1.55" stroke-linejoin="round" points="321.6,540.4 337.2,543 345,550.8 347.6,558.6 342.4,563.8 332,566.4 319,567.7"/>
<text x="0" y="0" font-size="14.5" text-anchor="middle" dominant-baseline="central" transform="translate(299.5,557.3) rotate(-30.0)">40</text>
<polyline fill="none" stroke="#000" stroke-width="1.55" stroke-linejoin="round" points="287.8,553.4 292,551"/>
<polyline fill="none" stroke="#000" stroke-width="1.55" stroke-linejoin="round" points="307,548 316.4,545.6 332,546.9 342.4,550.8 343.7,558.6 334.6,566.4 319,567.7 305,570"/>
<polyline fill="none" stroke="#000" stroke-width="1.55" stroke-linejoin="round" points="355.4,561.2 368.4,566.4 381.4,562.5 389.2,557.3 395.7,553.4 402.2,549.5"/>
<polyline fill="none" stroke="#0b6a2c" stroke-width="1.9" stroke-linejoin="round" points="98.2,472.8 101.0,470.5 102.8,472.4 104.6,470.3 105.8,470.3 107.0,467.2 109.4,467.9 111.5,467.8 112.8,468.2 114.2,472.5 117.0,470.4 120.0,474.5 121.9,473.2 123.8,472.7 127.0,476.5 130.0,474.7 131.7,478.6 133.4,476.6 136.0,475.8 139.0,479.5 141.0,476.1 143.0,479.3 146.0,476.9 149.0,478.7 150.8,479.4 152.6,478.0 155.0,478.1 158.0,480.8 160.1,478.6 162.2,481.7 165.0,480.6 168.0,483.9 169.9,481.1 171.8,484.2 175.0,482.9 178.0,482.2 181.4,481.3 184.0,483.4 187.0,485.2 189.0,483.3 191.0,485.6 194.0,482.5 197.0,485.8 198.8,483.1 200.6,484.9 203.0,484.5 206.0,487.8 208.1,488.0 210.2,486.3 213.0,490.0 214.8,488.0 216.6,491.3 218.3,489.1 220.0,492.5 223.0,490.8 224.5,490.9 226.0,487.3 227.7,486.3 229.4,486.0 231.0,485.7 232.6,482.3 233.8,486.3 235.0,486.3 236.2,487.9 237.4,491.2 237.9,493.1 238.5,498.3 239.0,497.5 239.5,502.9 240.1,502.5 240.6,508.3 243.0,505.3 245.4,506.6 248.0,507.8 249.7,506.7 251.4,509.3 254.0,507.1 255.9,509.5 257.8,509.6 259.4,508.1 261.0,505.6 264.2,507.1 267.0,504.0 268.8,503.6 270.6,504.5 273.0,507.7 275.4,509.3 275.9,509.9 276.5,511.9 277.0,515.0 277.4,519.9 277.8,522.0 278.2,520.9 278.6,526.2 279.8,524.8 281.0,528.8 283.4,530.2 286.0,527.3 287.9,529.1 289.8,528.9 290.9,525.1 292.0,525.9 293.3,521.6 294.6,522.9 297.0,524.1 299.0,523.0 301.0,525.1 304.0,528.2 305.7,526.6 307.4,530.6 310.0,527.2 311.9,529.0 313.8,526.8 317.0,529.3 319.4,530.6 321.8,530.4 325.0,526.7 327.4,528.8 329.8,524.2 331.4,526.7 333.0,523.3 335.4,523.3 337.8,520.4 339.4,521.4 341.0,519.4 342.6,516.3 344.2,517.3 346.0,515.6 347.4,511.9 348.4,515.8 349.5,517.5 352.2,516.6 354.1,516.9 356.0,520.0 358.1,518.0 360.2,520.9 362.1,519.2 364.0,523.6 366.1,524.5 368.2,523.3 371.0,527.1 372.8,526.5 374.6,524.5 377.0,526.8 379.4,525.1 382.0,529.4 383.9,531.0 385.8,529.9 386.9,533.6 388.0,532.4 389.3,537.1 390.6,536.2 393.0,536.3 395.4,535.6 398.0,534.4 400.2,536.4 402.5,535.0 405.0,532.4"/>
<rect x="49.00" y="15.70" width="48" height="42.5" fill="#fff" stroke="#333" stroke-width="1"/>
<polygon points="55.2,47.2 61.8,29.8 75.0,45.4" fill="#ff0000"/>
<line x1="55.2" y1="47.2" x2="61.8" y2="29.8" stroke="#000" stroke-width="1.45"/>
<line x1="61.8" y1="29.8" x2="75.0" y2="45.4" stroke="#000" stroke-width="1.45"/>
<line x1="55.2" y1="47.2" x2="75.0" y2="45.4" stroke="#000" stroke-width="1.45"/>
<line x1="61.8" y1="29.8" x2="79.8" y2="32.2" stroke="#000" stroke-width="1.45"/>
<line x1="75.0" y1="45.4" x2="79.8" y2="32.2" stroke="#000" stroke-width="1.45"/>
<line x1="79.8" y1="32.2" x2="93.0" y2="25.4" stroke="#000" stroke-width="1.45"/>
<line x1="93.0" y1="25.4" x2="93.0" y2="36.8" stroke="#000" stroke-width="1.45"/>
<line x1="79.8" y1="32.2" x2="93.0" y2="36.8" stroke="#000" stroke-width="1.45"/>
<line x1="75.0" y1="45.4" x2="93.0" y2="36.8" stroke="#000" stroke-width="1.45"/>
<circle cx="55.2" cy="47.2" r="2.25" fill="#000"/>
<circle cx="61.8" cy="29.8" r="2.25" fill="#000"/>
<circle cx="75.0" cy="45.4" r="2.25" fill="#000"/>
<circle cx="79.8" cy="32.2" r="2.25" fill="#000"/>
<circle cx="93.0" cy="25.4" r="2.25" fill="#000"/>
<circle cx="93.0" cy="36.8" r="2.25" fill="#000"/>
<rect x="378.2" y="15.20" width="27.1" height="30.5" fill="#fff"/>
<text x="393.7" y="35.50" font-size="20" text-anchor="middle">(a)</text>
<line x1="48.50" y1="14.80" x2="405.30" y2="14.80" stroke="#000" stroke-width="1"/>
<line x1="405.30" y1="15.20" x2="405.30" y2="139.00" stroke="#0a7032" stroke-width="1"/>
<line x1="48.50" y1="14.20" x2="48.50" y2="140.00" stroke="#222" stroke-width="1.4"/>
<line x1="47.50" y1="139.00" x2="405.30" y2="139.00" stroke="#000" stroke-width="2"/>
<line x1="40.50" y1="15.20" x2="48.50" y2="15.20" stroke="#000" stroke-width="2"/>
<text x="29.3" y="22.30" font-size="20.5" text-anchor="middle">5</text>
<line x1="44.50" y1="28.96" x2="48.50" y2="28.96" stroke="#000" stroke-width="2"/>
<line x1="40.50" y1="42.71" x2="48.50" y2="42.71" stroke="#000" stroke-width="2"/>
<text x="29.3" y="49.81" font-size="20.5" text-anchor="middle">4</text>
<line x1="44.50" y1="56.47" x2="48.50" y2="56.47" stroke="#000" stroke-width="2"/>
<line x1="40.50" y1="70.22" x2="48.50" y2="70.22" stroke="#000" stroke-width="2"/>
<text x="29.3" y="77.32" font-size="20.5" text-anchor="middle">3</text>
<line x1="44.50" y1="83.98" x2="48.50" y2="83.98" stroke="#000" stroke-width="2"/>
<line x1="40.50" y1="97.73" x2="48.50" y2="97.73" stroke="#000" stroke-width="2"/>
<text x="29.3" y="104.83" font-size="20.5" text-anchor="middle">2</text>
<line x1="44.50" y1="111.49" x2="48.50" y2="111.49" stroke="#000" stroke-width="2"/>
<line x1="40.50" y1="125.24" x2="48.50" y2="125.24" stroke="#000" stroke-width="2"/>
<text x="29.3" y="132.34" font-size="20.5" text-anchor="middle">1</text>
<line x1="44.50" y1="139.00" x2="48.50" y2="139.00" stroke="#000" stroke-width="2"/>
<line x1="405.30" y1="15.20" x2="413.80" y2="15.20" stroke="#0a7032" stroke-width="2"/>
<text x="419.3" y="22.80" font-size="20.5" fill="#0a7032">340</text>
<line x1="405.30" y1="46.15" x2="413.80" y2="46.15" stroke="#0a7032" stroke-width="2"/>
<text x="419.3" y="53.75" font-size="20.5" fill="#0a7032">335</text>
<line x1="405.30" y1="77.10" x2="413.80" y2="77.10" stroke="#0a7032" stroke-width="2"/>
<text x="419.3" y="84.70" font-size="20.5" fill="#0a7032">330</text>
<line x1="405.30" y1="108.05" x2="413.80" y2="108.05" stroke="#0a7032" stroke-width="2"/>
<text x="419.3" y="115.65" font-size="20.5" fill="#0a7032">325</text>
<line x1="405.30" y1="139.00" x2="413.80" y2="139.00" stroke="#0a7032" stroke-width="2"/>
<text x="419.3" y="146.60" font-size="20.5" fill="#0a7032">320</text>
<line x1="48.50" y1="15.20" x2="48.50" y2="7.20" stroke="#000" stroke-width="2.2"/>
<line x1="48.50" y1="139.00" x2="48.50" y2="148.00" stroke="#000" stroke-width="2.2"/>
<line x1="62.77" y1="15.20" x2="62.77" y2="10.70" stroke="#000" stroke-width="2.2"/>
<line x1="62.77" y1="139.00" x2="62.77" y2="144.50" stroke="#000" stroke-width="2.2"/>
<line x1="77.04" y1="15.20" x2="77.04" y2="10.70" stroke="#000" stroke-width="2.2"/>
<line x1="77.04" y1="139.00" x2="77.04" y2="144.50" stroke="#000" stroke-width="2.2"/>
<line x1="91.32" y1="15.20" x2="91.32" y2="10.70" stroke="#000" stroke-width="2.2"/>
<line x1="91.32" y1="139.00" x2="91.32" y2="144.50" stroke="#000" stroke-width="2.2"/>
<line x1="105.59" y1="15.20" x2="105.59" y2="10.70" stroke="#000" stroke-width="2.2"/>
<line x1="105.59" y1="139.00" x2="105.59" y2="144.50" stroke="#000" stroke-width="2.2"/>
<line x1="119.86" y1="15.20" x2="119.86" y2="7.20" stroke="#000" stroke-width="2.2"/>
<line x1="119.86" y1="139.00" x2="119.86" y2="148.00" stroke="#000" stroke-width="2.2"/>
<line x1="134.13" y1="15.20" x2="134.13" y2="10.70" stroke="#000" stroke-width="2.2"/>
<line x1="134.13" y1="139.00" x2="134.13" y2="144.50" stroke="#000" stroke-width="2.2"/>
<line x1="148.40" y1="15.20" x2="148.40" y2="10.70" stroke="#000" stroke-width="2.2"/>
<line x1="148.40" y1="139.00" x2="148.40" y2="144.50" stroke="#000" stroke-width="2.2"/>
<line x1="162.68" y1="15.20" x2="162.68" y2="10.70" stroke="#000" stroke-width="2.2"/>
<line x1="162.68" y1="139.00" x2="162.68" y2="144.50" stroke="#000" stroke-width="2.2"/>
<line x1="176.95" y1="15.20" x2="176.95" y2="10.70" stroke="#000" stroke-width="2.2"/>
<line x1="176.95" y1="139.00" x2="176.95" y2="144.50" stroke="#000" stroke-width="2.2"/>
<line x1="191.22" y1="15.20" x2="191.22" y2="7.20" stroke="#000" stroke-width="2.2"/>
<line x1="191.22" y1="139.00" x2="191.22" y2="148.00" stroke="#000" stroke-width="2.2"/>
<line x1="205.49" y1="15.20" x2="205.49" y2="10.70" stroke="#000" stroke-width="2.2"/>
<line x1="205.49" y1="139.00" x2="205.49" y2="144.50" stroke="#000" stroke-width="2.2"/>
<line x1="219.76" y1="15.20" x2="219.76" y2="10.70" stroke="#000" stroke-width="2.2"/>
<line x1="219.76" y1="139.00" x2="219.76" y2="144.50" stroke="#000" stroke-width="2.2"/>
<line x1="234.04" y1="15.20" x2="234.04" y2="10.70" stroke="#000" stroke-width="2.2"/>
<line x1="234.04" y1="139.00" x2="234.04" y2="144.50" stroke="#000" stroke-width="2.2"/>
<line x1="248.31" y1="15.20" x2="248.31" y2="10.70" stroke="#000" stroke-width="2.2"/>
<line x1="248.31" y1="139.00" x2="248.31" y2="144.50" stroke="#000" stroke-width="2.2"/>
<line x1="262.58" y1="15.20" x2="262.58" y2="7.20" stroke="#000" stroke-width="2.2"/>
<line x1="262.58" y1="139.00" x2="262.58" y2="148.00" stroke="#000" stroke-width="2.2"/>
<line x1="276.85" y1="15.20" x2="276.85" y2="10.70" stroke="#000" stroke-width="2.2"/>
<line x1="276.85" y1="139.00" x2="276.85" y2="144.50" stroke="#000" stroke-width="2.2"/>
<line x1="291.12" y1="15.20" x2="291.12" y2="10.70" stroke="#000" stroke-width="2.2"/>
<line x1="291.12" y1="139.00" x2="291.12" y2="144.50" stroke="#000" stroke-width="2.2"/>
<line x1="305.40" y1="15.20" x2="305.40" y2="10.70" stroke="#000" stroke-width="2.2"/>
<line x1="305.40" y1="139.00" x2="305.40" y2="144.50" stroke="#000" stroke-width="2.2"/>
<line x1="319.67" y1="15.20" x2="319.67" y2="10.70" stroke="#000" stroke-width="2.2"/>
<line x1="319.67" y1="139.00" x2="319.67" y2="144.50" stroke="#000" stroke-width="2.2"/>
<line x1="333.94" y1="15.20" x2="333.94" y2="7.20" stroke="#000" stroke-width="2.2"/>
<line x1="333.94" y1="139.00" x2="333.94" y2="148.00" stroke="#000" stroke-width="2.2"/>
<line x1="348.21" y1="15.20" x2="348.21" y2="10.70" stroke="#000" stroke-width="2.2"/>
<line x1="348.21" y1="139.00" x2="348.21" y2="144.50" stroke="#000" stroke-width="2.2"/>
<line x1="362.48" y1="15.20" x2="362.48" y2="10.70" stroke="#000" stroke-width="2.2"/>
<line x1="362.48" y1="139.00" x2="362.48" y2="144.50" stroke="#000" stroke-width="2.2"/>
<line x1="376.76" y1="15.20" x2="376.76" y2="10.70" stroke="#000" stroke-width="2.2"/>
<line x1="376.76" y1="139.00" x2="376.76" y2="144.50" stroke="#000" stroke-width="2.2"/>
<line x1="391.03" y1="15.20" x2="391.03" y2="10.70" stroke="#000" stroke-width="2.2"/>
<line x1="391.03" y1="139.00" x2="391.03" y2="144.50" stroke="#000" stroke-width="2.2"/>
<line x1="405.30" y1="15.20" x2="405.30" y2="7.20" stroke="#000" stroke-width="2.2"/>
<line x1="405.30" y1="139.00" x2="405.30" y2="148.00" stroke="#000" stroke-width="2.2"/>
<rect x="49.00" y="162.40" width="48" height="42.5" fill="#fff" stroke="#333" stroke-width="1"/>
<polygon points="61.8,176.5 75.0,192.1 79.8,178.9" fill="#ff0000"/>
<line x1="55.2" y1="193.9" x2="61.8" y2="176.5" stroke="#000" stroke-width="1.45"/>
<line x1="61.8" y1="176.5" x2="75.0" y2="192.1" stroke="#000" stroke-width="1.45"/>
<line x1="55.2" y1="193.9" x2="75.0" y2="192.1" stroke="#000" stroke-width="1.45"/>
<line x1="61.8" y1="176.5" x2="79.8" y2="178.9" stroke="#000" stroke-width="1.45"/>
<line x1="75.0" y1="192.1" x2="79.8" y2="178.9" stroke="#000" stroke-width="1.45"/>
<line x1="79.8" y1="178.9" x2="93.0" y2="172.1" stroke="#000" stroke-width="1.45"/>
<line x1="93.0" y1="172.1" x2="93.0" y2="183.5" stroke="#000" stroke-width="1.45"/>
<line x1="79.8" y1="178.9" x2="93.0" y2="183.5" stroke="#000" stroke-width="1.45"/>
<line x1="75.0" y1="192.1" x2="93.0" y2="183.5" stroke="#000" stroke-width="1.45"/>
<circle cx="55.2" cy="193.9" r="2.25" fill="#000"/>
<circle cx="61.8" cy="176.5" r="2.25" fill="#000"/>
<circle cx="75.0" cy="192.1" r="2.25" fill="#000"/>
<circle cx="79.8" cy="178.9" r="2.25" fill="#000"/>
<circle cx="93.0" cy="172.1" r="2.25" fill="#000"/>
<circle cx="93.0" cy="183.5" r="2.25" fill="#000"/>
<rect x="378.2" y="161.90" width="27.1" height="30.5" fill="#fff"/>
<text x="393.7" y="182.20" font-size="20" text-anchor="middle">(b)</text>
<line x1="48.50" y1="161.50" x2="405.30" y2="161.50" stroke="#000" stroke-width="1"/>
<line x1="405.30" y1="161.90" x2="405.30" y2="286.20" stroke="#0a7032" stroke-width="1"/>
<line x1="48.50" y1="160.90" x2="48.50" y2="287.20" stroke="#222" stroke-width="1.4"/>
<line x1="47.50" y1="286.20" x2="405.30" y2="286.20" stroke="#000" stroke-width="2"/>
<line x1="40.50" y1="161.90" x2="48.50" y2="161.90" stroke="#000" stroke-width="2"/>
<text x="29.3" y="169.00" font-size="20.5" text-anchor="middle">5</text>
<line x1="44.50" y1="175.71" x2="48.50" y2="175.71" stroke="#000" stroke-width="2"/>
<line x1="40.50" y1="189.52" x2="48.50" y2="189.52" stroke="#000" stroke-width="2"/>
<text x="29.3" y="196.62" font-size="20.5" text-anchor="middle">4</text>
<line x1="44.50" y1="203.33" x2="48.50" y2="203.33" stroke="#000" stroke-width="2"/>
<line x1="40.50" y1="217.14" x2="48.50" y2="217.14" stroke="#000" stroke-width="2"/>
<text x="29.3" y="224.24" font-size="20.5" text-anchor="middle">3</text>
<line x1="44.50" y1="230.96" x2="48.50" y2="230.96" stroke="#000" stroke-width="2"/>
<line x1="40.50" y1="244.77" x2="48.50" y2="244.77" stroke="#000" stroke-width="2"/>
<text x="29.3" y="251.87" font-size="20.5" text-anchor="middle">2</text>
<line x1="44.50" y1="258.58" x2="48.50" y2="258.58" stroke="#000" stroke-width="2"/>
<line x1="40.50" y1="272.39" x2="48.50" y2="272.39" stroke="#000" stroke-width="2"/>
<text x="29.3" y="279.49" font-size="20.5" text-anchor="middle">1</text>
<line x1="44.50" y1="286.20" x2="48.50" y2="286.20" stroke="#000" stroke-width="2"/>
<line x1="405.30" y1="161.90" x2="413.80" y2="161.90" stroke="#0a7032" stroke-width="2"/>
<text x="419.3" y="169.50" font-size="20.5" fill="#0a7032">340</text>
<line x1="405.30" y1="192.97" x2="413.80" y2="192.97" stroke="#0a7032" stroke-width="2"/>
<text x="419.3" y="200.57" font-size="20.5" fill="#0a7032">335</text>
<line x1="405.30" y1="224.05" x2="413.80" y2="224.05" stroke="#0a7032" stroke-width="2"/>
<text x="419.3" y="231.65" font-size="20.5" fill="#0a7032">330</text>
<line x1="405.30" y1="255.12" x2="413.80" y2="255.12" stroke="#0a7032" stroke-width="2"/>
<text x="419.3" y="262.73" font-size="20.5" fill="#0a7032">325</text>
<line x1="405.30" y1="286.20" x2="413.80" y2="286.20" stroke="#0a7032" stroke-width="2"/>
<text x="419.3" y="293.80" font-size="20.5" fill="#0a7032">320</text>
<line x1="48.50" y1="161.90" x2="48.50" y2="153.90" stroke="#000" stroke-width="2.2"/>
<line x1="48.50" y1="286.20" x2="48.50" y2="295.20" stroke="#000" stroke-width="2.2"/>
<line x1="62.77" y1="161.90" x2="62.77" y2="157.40" stroke="#000" stroke-width="2.2"/>
<line x1="62.77" y1="286.20" x2="62.77" y2="291.70" stroke="#000" stroke-width="2.2"/>
<line x1="77.04" y1="161.90" x2="77.04" y2="157.40" stroke="#000" stroke-width="2.2"/>
<line x1="77.04" y1="286.20" x2="77.04" y2="291.70" stroke="#000" stroke-width="2.2"/>
<line x1="91.32" y1="161.90" x2="91.32" y2="157.40" stroke="#000" stroke-width="2.2"/>
<line x1="91.32" y1="286.20" x2="91.32" y2="291.70" stroke="#000" stroke-width="2.2"/>
<line x1="105.59" y1="161.90" x2="105.59" y2="157.40" stroke="#000" stroke-width="2.2"/>
<line x1="105.59" y1="286.20" x2="105.59" y2="291.70" stroke="#000" stroke-width="2.2"/>
<line x1="119.86" y1="161.90" x2="119.86" y2="153.90" stroke="#000" stroke-width="2.2"/>
<line x1="119.86" y1="286.20" x2="119.86" y2="295.20" stroke="#000" stroke-width="2.2"/>
<line x1="134.13" y1="161.90" x2="134.13" y2="157.40" stroke="#000" stroke-width="2.2"/>
<line x1="134.13" y1="286.20" x2="134.13" y2="291.70" stroke="#000" stroke-width="2.2"/>
<line x1="148.40" y1="161.90" x2="148.40" y2="157.40" stroke="#000" stroke-width="2.2"/>
<line x1="148.40" y1="286.20" x2="148.40" y2="291.70" stroke="#000" stroke-width="2.2"/>
<line x1="162.68" y1="161.90" x2="162.68" y2="157.40" stroke="#000" stroke-width="2.2"/>
<line x1="162.68" y1="286.20" x2="162.68" y2="291.70" stroke="#000" stroke-width="2.2"/>
<line x1="176.95" y1="161.90" x2="176.95" y2="157.40" stroke="#000" stroke-width="2.2"/>
<line x1="176.95" y1="286.20" x2="176.95" y2="291.70" stroke="#000" stroke-width="2.2"/>
<line x1="191.22" y1="161.90" x2="191.22" y2="153.90" stroke="#000" stroke-width="2.2"/>
<line x1="191.22" y1="286.20" x2="191.22" y2="295.20" stroke="#000" stroke-width="2.2"/>
<line x1="205.49" y1="161.90" x2="205.49" y2="157.40" stroke="#000" stroke-width="2.2"/>
<line x1="205.49" y1="286.20" x2="205.49" y2="291.70" stroke="#000" stroke-width="2.2"/>
<line x1="219.76" y1="161.90" x2="219.76" y2="157.40" stroke="#000" stroke-width="2.2"/>
<line x1="219.76" y1="286.20" x2="219.76" y2="291.70" stroke="#000" stroke-width="2.2"/>
<line x1="234.04" y1="161.90" x2="234.04" y2="157.40" stroke="#000" stroke-width="2.2"/>
<line x1="234.04" y1="286.20" x2="234.04" y2="291.70" stroke="#000" stroke-width="2.2"/>
<line x1="248.31" y1="161.90" x2="248.31" y2="157.40" stroke="#000" stroke-width="2.2"/>
<line x1="248.31" y1="286.20" x2="248.31" y2="291.70" stroke="#000" stroke-width="2.2"/>
<line x1="262.58" y1="161.90" x2="262.58" y2="153.90" stroke="#000" stroke-width="2.2"/>
<line x1="262.58" y1="286.20" x2="262.58" y2="295.20" stroke="#000" stroke-width="2.2"/>
<line x1="276.85" y1="161.90" x2="276.85" y2="157.40" stroke="#000" stroke-width="2.2"/>
<line x1="276.85" y1="286.20" x2="276.85" y2="291.70" stroke="#000" stroke-width="2.2"/>
<line x1="291.12" y1="161.90" x2="291.12" y2="157.40" stroke="#000" stroke-width="2.2"/>
<line x1="291.12" y1="286.20" x2="291.12" y2="291.70" stroke="#000" stroke-width="2.2"/>
<line x1="305.40" y1="161.90" x2="305.40" y2="157.40" stroke="#000" stroke-width="2.2"/>
<line x1="305.40" y1="286.20" x2="305.40" y2="291.70" stroke="#000" stroke-width="2.2"/>
<line x1="319.67" y1="161.90" x2="319.67" y2="157.40" stroke="#000" stroke-width="2.2"/>
<line x1="319.67" y1="286.20" x2="319.67" y2="291.70" stroke="#000" stroke-width="2.2"/>
<line x1="333.94" y1="161.90" x2="333.94" y2="153.90" stroke="#000" stroke-width="2.2"/>
<line x1="333.94" y1="286.20" x2="333.94" y2="295.20" stroke="#000" stroke-width="2.2"/>
<line x1="348.21" y1="161.90" x2="348.21" y2="157.40" stroke="#000" stroke-width="2.2"/>
<line x1="348.21" y1="286.20" x2="348.21" y2="291.70" stroke="#000" stroke-width="2.2"/>
<line x1="362.48" y1="161.90" x2="362.48" y2="157.40" stroke="#000" stroke-width="2.2"/>
<line x1="362.48" y1="286.20" x2="362.48" y2="291.70" stroke="#000" stroke-width="2.2"/>
<line x1="376.76" y1="161.90" x2="376.76" y2="157.40" stroke="#000" stroke-width="2.2"/>
<line x1="376.76" y1="286.20" x2="376.76" y2="291.70" stroke="#000" stroke-width="2.2"/>
<line x1="391.03" y1="161.90" x2="391.03" y2="157.40" stroke="#000" stroke-width="2.2"/>
<line x1="391.03" y1="286.20" x2="391.03" y2="291.70" stroke="#000" stroke-width="2.2"/>
<line x1="405.30" y1="161.90" x2="405.30" y2="153.90" stroke="#000" stroke-width="2.2"/>
<line x1="405.30" y1="286.20" x2="405.30" y2="295.20" stroke="#000" stroke-width="2.2"/>
<rect x="49.00" y="309.80" width="48" height="42.5" fill="#fff" stroke="#333" stroke-width="1"/>
<polygon points="75.0,339.5 79.8,326.3 93.0,330.9" fill="#ff0000"/>
<line x1="55.2" y1="341.3" x2="61.8" y2="323.9" stroke="#000" stroke-width="1.45"/>
<line x1="61.8" y1="323.9" x2="75.0" y2="339.5" stroke="#000" stroke-width="1.45"/>
<line x1="55.2" y1="341.3" x2="75.0" y2="339.5" stroke="#000" stroke-width="1.45"/>
<line x1="61.8" y1="323.9" x2="79.8" y2="326.3" stroke="#000" stroke-width="1.45"/>
<line x1="75.0" y1="339.5" x2="79.8" y2="326.3" stroke="#000" stroke-width="1.45"/>
<line x1="79.8" y1="326.3" x2="93.0" y2="319.5" stroke="#000" stroke-width="1.45"/>
<line x1="93.0" y1="319.5" x2="93.0" y2="330.9" stroke="#000" stroke-width="1.45"/>
<line x1="79.8" y1="326.3" x2="93.0" y2="330.9" stroke="#000" stroke-width="1.45"/>
<line x1="75.0" y1="339.5" x2="93.0" y2="330.9" stroke="#000" stroke-width="1.45"/>
<circle cx="55.2" cy="341.3" r="2.25" fill="#000"/>
<circle cx="61.8" cy="323.9" r="2.25" fill="#000"/>
<circle cx="75.0" cy="339.5" r="2.25" fill="#000"/>
<circle cx="79.8" cy="326.3" r="2.25" fill="#000"/>
<circle cx="93.0" cy="319.5" r="2.25" fill="#000"/>
<circle cx="93.0" cy="330.9" r="2.25" fill="#000"/>
<rect x="378.2" y="309.30" width="27.1" height="30.5" fill="#fff"/>
<text x="393.7" y="329.60" font-size="20" text-anchor="middle">(c)</text>
<line x1="48.50" y1="308.90" x2="405.30" y2="308.90" stroke="#000" stroke-width="1"/>
<line x1="405.30" y1="309.30" x2="405.30" y2="433.60" stroke="#0a7032" stroke-width="1"/>
<line x1="48.50" y1="308.30" x2="48.50" y2="434.60" stroke="#222" stroke-width="1.4"/>
<line x1="47.50" y1="433.60" x2="405.30" y2="433.60" stroke="#000" stroke-width="2"/>
<line x1="40.50" y1="309.30" x2="48.50" y2="309.30" stroke="#000" stroke-width="2"/>
<text x="29.3" y="316.40" font-size="20.5" text-anchor="middle">5</text>
<line x1="44.50" y1="323.11" x2="48.50" y2="323.11" stroke="#000" stroke-width="2"/>
<line x1="40.50" y1="336.92" x2="48.50" y2="336.92" stroke="#000" stroke-width="2"/>
<text x="29.3" y="344.02" font-size="20.5" text-anchor="middle">4</text>
<line x1="44.50" y1="350.73" x2="48.50" y2="350.73" stroke="#000" stroke-width="2"/>
<line x1="40.50" y1="364.54" x2="48.50" y2="364.54" stroke="#000" stroke-width="2"/>
<text x="29.3" y="371.64" font-size="20.5" text-anchor="middle">3</text>
<line x1="44.50" y1="378.36" x2="48.50" y2="378.36" stroke="#000" stroke-width="2"/>
<line x1="40.50" y1="392.17" x2="48.50" y2="392.17" stroke="#000" stroke-width="2"/>
<text x="29.3" y="399.27" font-size="20.5" text-anchor="middle">2</text>
<line x1="44.50" y1="405.98" x2="48.50" y2="405.98" stroke="#000" stroke-width="2"/>
<line x1="40.50" y1="419.79" x2="48.50" y2="419.79" stroke="#000" stroke-width="2"/>
<text x="29.3" y="426.89" font-size="20.5" text-anchor="middle">1</text>
<line x1="44.50" y1="433.60" x2="48.50" y2="433.60" stroke="#000" stroke-width="2"/>
<line x1="405.30" y1="309.30" x2="413.80" y2="309.30" stroke="#0a7032" stroke-width="2"/>
<text x="419.3" y="316.90" font-size="20.5" fill="#0a7032">340</text>
<line x1="405.30" y1="340.38" x2="413.80" y2="340.38" stroke="#0a7032" stroke-width="2"/>
<text x="419.3" y="347.98" font-size="20.5" fill="#0a7032">335</text>
<line x1="405.30" y1="371.45" x2="413.80" y2="371.45" stroke="#0a7032" stroke-width="2"/>
<text x="419.3" y="379.05" font-size="20.5" fill="#0a7032">330</text>
<line x1="405.30" y1="402.52" x2="413.80" y2="402.52" stroke="#0a7032" stroke-width="2"/>
<text x="419.3" y="410.12" font-size="20.5" fill="#0a7032">325</text>
<line x1="405.30" y1="433.60" x2="413.80" y2="433.60" stroke="#0a7032" stroke-width="2"/>
<text x="419.3" y="441.20" font-size="20.5" fill="#0a7032">320</text>
<line x1="48.50" y1="309.30" x2="48.50" y2="301.30" stroke="#000" stroke-width="2.2"/>
<line x1="48.50" y1="433.60" x2="48.50" y2="442.60" stroke="#000" stroke-width="2.2"/>
<line x1="62.77" y1="309.30" x2="62.77" y2="304.80" stroke="#000" stroke-width="2.2"/>
<line x1="62.77" y1="433.60" x2="62.77" y2="439.10" stroke="#000" stroke-width="2.2"/>
<line x1="77.04" y1="309.30" x2="77.04" y2="304.80" stroke="#000" stroke-width="2.2"/>
<line x1="77.04" y1="433.60" x2="77.04" y2="439.10" stroke="#000" stroke-width="2.2"/>
<line x1="91.32" y1="309.30" x2="91.32" y2="304.80" stroke="#000" stroke-width="2.2"/>
<line x1="91.32" y1="433.60" x2="91.32" y2="439.10" stroke="#000" stroke-width="2.2"/>
<line x1="105.59" y1="309.30" x2="105.59" y2="304.80" stroke="#000" stroke-width="2.2"/>
<line x1="105.59" y1="433.60" x2="105.59" y2="439.10" stroke="#000" stroke-width="2.2"/>
<line x1="119.86" y1="309.30" x2="119.86" y2="301.30" stroke="#000" stroke-width="2.2"/>
<line x1="119.86" y1="433.60" x2="119.86" y2="442.60" stroke="#000" stroke-width="2.2"/>
<line x1="134.13" y1="309.30" x2="134.13" y2="304.80" stroke="#000" stroke-width="2.2"/>
<line x1="134.13" y1="433.60" x2="134.13" y2="439.10" stroke="#000" stroke-width="2.2"/>
<line x1="148.40" y1="309.30" x2="148.40" y2="304.80" stroke="#000" stroke-width="2.2"/>
<line x1="148.40" y1="433.60" x2="148.40" y2="439.10" stroke="#000" stroke-width="2.2"/>
<line x1="162.68" y1="309.30" x2="162.68" y2="304.80" stroke="#000" stroke-width="2.2"/>
<line x1="162.68" y1="433.60" x2="162.68" y2="439.10" stroke="#000" stroke-width="2.2"/>
<line x1="176.95" y1="309.30" x2="176.95" y2="304.80" stroke="#000" stroke-width="2.2"/>
<line x1="176.95" y1="433.60" x2="176.95" y2="439.10" stroke="#000" stroke-width="2.2"/>
<line x1="191.22" y1="309.30" x2="191.22" y2="301.30" stroke="#000" stroke-width="2.2"/>
<line x1="191.22" y1="433.60" x2="191.22" y2="442.60" stroke="#000" stroke-width="2.2"/>
<line x1="205.49" y1="309.30" x2="205.49" y2="304.80" stroke="#000" stroke-width="2.2"/>
<line x1="205.49" y1="433.60" x2="205.49" y2="439.10" stroke="#000" stroke-width="2.2"/>
<line x1="219.76" y1="309.30" x2="219.76" y2="304.80" stroke="#000" stroke-width="2.2"/>
<line x1="219.76" y1="433.60" x2="219.76" y2="439.10" stroke="#000" stroke-width="2.2"/>
<line x1="234.04" y1="309.30" x2="234.04" y2="304.80" stroke="#000" stroke-width="2.2"/>
<line x1="234.04" y1="433.60" x2="234.04" y2="439.10" stroke="#000" stroke-width="2.2"/>
<line x1="248.31" y1="309.30" x2="248.31" y2="304.80" stroke="#000" stroke-width="2.2"/>
<line x1="248.31" y1="433.60" x2="248.31" y2="439.10" stroke="#000" stroke-width="2.2"/>
<line x1="262.58" y1="309.30" x2="262.58" y2="301.30" stroke="#000" stroke-width="2.2"/>
<line x1="262.58" y1="433.60" x2="262.58" y2="442.60" stroke="#000" stroke-width="2.2"/>
<line x1="276.85" y1="309.30" x2="276.85" y2="304.80" stroke="#000" stroke-width="2.2"/>
<line x1="276.85" y1="433.60" x2="276.85" y2="439.10" stroke="#000" stroke-width="2.2"/>
<line x1="291.12" y1="309.30" x2="291.12" y2="304.80" stroke="#000" stroke-width="2.2"/>
<line x1="291.12" y1="433.60" x2="291.12" y2="439.10" stroke="#000" stroke-width="2.2"/>
<line x1="305.40" y1="309.30" x2="305.40" y2="304.80" stroke="#000" stroke-width="2.2"/>
<line x1="305.40" y1="433.60" x2="305.40" y2="439.10" stroke="#000" stroke-width="2.2"/>
<line x1="319.67" y1="309.30" x2="319.67" y2="304.80" stroke="#000" stroke-width="2.2"/>
<line x1="319.67" y1="433.60" x2="319.67" y2="439.10" stroke="#000" stroke-width="2.2"/>
<line x1="333.94" y1="309.30" x2="333.94" y2="301.30" stroke="#000" stroke-width="2.2"/>
<line x1="333.94" y1="433.60" x2="333.94" y2="442.60" stroke="#000" stroke-width="2.2"/>
<line x1="348.21" y1="309.30" x2="348.21" y2="304.80" stroke="#000" stroke-width="2.2"/>
<line x1="348.21" y1="433.60" x2="348.21" y2="439.10" stroke="#000" stroke-width="2.2"/>
<line x1="362.48" y1="309.30" x2="362.48" y2="304.80" stroke="#000" stroke-width="2.2"/>
<line x1="362.48" y1="433.60" x2="362.48" y2="439.10" stroke="#000" stroke-width="2.2"/>
<line x1="376.76" y1="309.30" x2="376.76" y2="304.80" stroke="#000" stroke-width="2.2"/>
<line x1="376.76" y1="433.60" x2="376.76" y2="439.10" stroke="#000" stroke-width="2.2"/>
<line x1="391.03" y1="309.30" x2="391.03" y2="304.80" stroke="#000" stroke-width="2.2"/>
<line x1="391.03" y1="433.60" x2="391.03" y2="439.10" stroke="#000" stroke-width="2.2"/>
<line x1="405.30" y1="309.30" x2="405.30" y2="301.30" stroke="#000" stroke-width="2.2"/>
<line x1="405.30" y1="433.60" x2="405.30" y2="442.60" stroke="#000" stroke-width="2.2"/>
<rect x="49.00" y="456.50" width="48" height="42.5" fill="#fff" stroke="#333" stroke-width="1"/>
<polygon points="79.8,473.0 93.0,466.2 93.0,477.6" fill="#ff0000"/>
<line x1="55.2" y1="488.0" x2="61.8" y2="470.6" stroke="#000" stroke-width="1.45"/>
<line x1="61.8" y1="470.6" x2="75.0" y2="486.2" stroke="#000" stroke-width="1.45"/>
<line x1="55.2" y1="488.0" x2="75.0" y2="486.2" stroke="#000" stroke-width="1.45"/>
<line x1="61.8" y1="470.6" x2="79.8" y2="473.0" stroke="#000" stroke-width="1.45"/>
<line x1="75.0" y1="486.2" x2="79.8" y2="473.0" stroke="#000" stroke-width="1.45"/>
<line x1="79.8" y1="473.0" x2="93.0" y2="466.2" stroke="#000" stroke-width="1.45"/>
<line x1="93.0" y1="466.2" x2="93.0" y2="477.6" stroke="#000" stroke-width="1.45"/>
<line x1="79.8" y1="473.0" x2="93.0" y2="477.6" stroke="#000" stroke-width="1.45"/>
<line x1="75.0" y1="486.2" x2="93.0" y2="477.6" stroke="#000" stroke-width="1.45"/>
<circle cx="55.2" cy="488.0" r="2.25" fill="#000"/>
<circle cx="61.8" cy="470.6" r="2.25" fill="#000"/>
<circle cx="75.0" cy="486.2" r="2.25" fill="#000"/>
<circle cx="79.8" cy="473.0" r="2.25" fill="#000"/>
<circle cx="93.0" cy="466.2" r="2.25" fill="#000"/>
<circle cx="93.0" cy="477.6" r="2.25" fill="#000"/>
<rect x="378.2" y="456.00" width="27.1" height="30.5" fill="#fff"/>
<text x="393.7" y="476.30" font-size="20" text-anchor="middle">(d)</text>
<line x1="48.50" y1="455.60" x2="405.30" y2="455.60" stroke="#000" stroke-width="1"/>
<line x1="405.30" y1="456.00" x2="405.30" y2="580.50" stroke="#0a7032" stroke-width="1"/>
<line x1="48.50" y1="455.00" x2="48.50" y2="581.50" stroke="#222" stroke-width="1.4"/>
<line x1="47.50" y1="580.50" x2="405.30" y2="580.50" stroke="#000" stroke-width="2"/>
<line x1="40.50" y1="456.00" x2="48.50" y2="456.00" stroke="#000" stroke-width="2"/>
<text x="29.3" y="463.10" font-size="20.5" text-anchor="middle">5</text>
<line x1="44.50" y1="469.83" x2="48.50" y2="469.83" stroke="#000" stroke-width="2"/>
<line x1="40.50" y1="483.67" x2="48.50" y2="483.67" stroke="#000" stroke-width="2"/>
<text x="29.3" y="490.77" font-size="20.5" text-anchor="middle">4</text>
<line x1="44.50" y1="497.50" x2="48.50" y2="497.50" stroke="#000" stroke-width="2"/>
<line x1="40.50" y1="511.33" x2="48.50" y2="511.33" stroke="#000" stroke-width="2"/>
<text x="29.3" y="518.43" font-size="20.5" text-anchor="middle">3</text>
<line x1="44.50" y1="525.17" x2="48.50" y2="525.17" stroke="#000" stroke-width="2"/>
<line x1="40.50" y1="539.00" x2="48.50" y2="539.00" stroke="#000" stroke-width="2"/>
<text x="29.3" y="546.10" font-size="20.5" text-anchor="middle">2</text>
<line x1="44.50" y1="552.83" x2="48.50" y2="552.83" stroke="#000" stroke-width="2"/>
<line x1="40.50" y1="566.67" x2="48.50" y2="566.67" stroke="#000" stroke-width="2"/>
<text x="29.3" y="573.77" font-size="20.5" text-anchor="middle">1</text>
<line x1="44.50" y1="580.50" x2="48.50" y2="580.50" stroke="#000" stroke-width="2"/>
<line x1="405.30" y1="456.00" x2="413.80" y2="456.00" stroke="#0a7032" stroke-width="2"/>
<text x="419.3" y="463.60" font-size="20.5" fill="#0a7032">340</text>
<line x1="405.30" y1="487.12" x2="413.80" y2="487.12" stroke="#0a7032" stroke-width="2"/>
<text x="419.3" y="494.73" font-size="20.5" fill="#0a7032">335</text>
<line x1="405.30" y1="518.25" x2="413.80" y2="518.25" stroke="#0a7032" stroke-width="2"/>
<text x="419.3" y="525.85" font-size="20.5" fill="#0a7032">330</text>
<line x1="405.30" y1="549.38" x2="413.80" y2="549.38" stroke="#0a7032" stroke-width="2"/>
<text x="419.3" y="556.98" font-size="20.5" fill="#0a7032">325</text>
<line x1="405.30" y1="580.50" x2="413.80" y2="580.50" stroke="#0a7032" stroke-width="2"/>
<text x="419.3" y="588.10" font-size="20.5" fill="#0a7032">320</text>
<line x1="48.50" y1="456.00" x2="48.50" y2="448.00" stroke="#000" stroke-width="2.2"/>
<line x1="48.50" y1="580.50" x2="48.50" y2="589.50" stroke="#000" stroke-width="2.2"/>
<line x1="62.77" y1="456.00" x2="62.77" y2="451.50" stroke="#000" stroke-width="2.2"/>
<line x1="62.77" y1="580.50" x2="62.77" y2="586.00" stroke="#000" stroke-width="2.2"/>
<line x1="77.04" y1="456.00" x2="77.04" y2="451.50" stroke="#000" stroke-width="2.2"/>
<line x1="77.04" y1="580.50" x2="77.04" y2="586.00" stroke="#000" stroke-width="2.2"/>
<line x1="91.32" y1="456.00" x2="91.32" y2="451.50" stroke="#000" stroke-width="2.2"/>
<line x1="91.32" y1="580.50" x2="91.32" y2="586.00" stroke="#000" stroke-width="2.2"/>
<line x1="105.59" y1="456.00" x2="105.59" y2="451.50" stroke="#000" stroke-width="2.2"/>
<line x1="105.59" y1="580.50" x2="105.59" y2="586.00" stroke="#000" stroke-width="2.2"/>
<line x1="119.86" y1="456.00" x2="119.86" y2="448.00" stroke="#000" stroke-width="2.2"/>
<line x1="119.86" y1="580.50" x2="119.86" y2="589.50" stroke="#000" stroke-width="2.2"/>
<line x1="134.13" y1="456.00" x2="134.13" y2="451.50" stroke="#000" stroke-width="2.2"/>
<line x1="134.13" y1="580.50" x2="134.13" y2="586.00" stroke="#000" stroke-width="2.2"/>
<line x1="148.40" y1="456.00" x2="148.40" y2="451.50" stroke="#000" stroke-width="2.2"/>
<line x1="148.40" y1="580.50" x2="148.40" y2="586.00" stroke="#000" stroke-width="2.2"/>
<line x1="162.68" y1="456.00" x2="162.68" y2="451.50" stroke="#000" stroke-width="2.2"/>
<line x1="162.68" y1="580.50" x2="162.68" y2="586.00" stroke="#000" stroke-width="2.2"/>
<line x1="176.95" y1="456.00" x2="176.95" y2="451.50" stroke="#000" stroke-width="2.2"/>
<line x1="176.95" y1="580.50" x2="176.95" y2="586.00" stroke="#000" stroke-width="2.2"/>
<line x1="191.22" y1="456.00" x2="191.22" y2="448.00" stroke="#000" stroke-width="2.2"/>
<line x1="191.22" y1="580.50" x2="191.22" y2="589.50" stroke="#000" stroke-width="2.2"/>
<line x1="205.49" y1="456.00" x2="205.49" y2="451.50" stroke="#000" stroke-width="2.2"/>
<line x1="205.49" y1="580.50" x2="205.49" y2="586.00" stroke="#000" stroke-width="2.2"/>
<line x1="219.76" y1="456.00" x2="219.76" y2="451.50" stroke="#000" stroke-width="2.2"/>
<line x1="219.76" y1="580.50" x2="219.76" y2="586.00" stroke="#000" stroke-width="2.2"/>
<line x1="234.04" y1="456.00" x2="234.04" y2="451.50" stroke="#000" stroke-width="2.2"/>
<line x1="234.04" y1="580.50" x2="234.04" y2="586.00" stroke="#000" stroke-width="2.2"/>
<line x1="248.31" y1="456.00" x2="248.31" y2="451.50" stroke="#000" stroke-width="2.2"/>
<line x1="248.31" y1="580.50" x2="248.31" y2="586.00" stroke="#000" stroke-width="2.2"/>
<line x1="262.58" y1="456.00" x2="262.58" y2="448.00" stroke="#000" stroke-width="2.2"/>
<line x1="262.58" y1="580.50" x2="262.58" y2="589.50" stroke="#000" stroke-width="2.2"/>
<line x1="276.85" y1="456.00" x2="276.85" y2="451.50" stroke="#000" stroke-width="2.2"/>
<line x1="276.85" y1="580.50" x2="276.85" y2="586.00" stroke="#000" stroke-width="2.2"/>
<line x1="291.12" y1="456.00" x2="291.12" y2="451.50" stroke="#000" stroke-width="2.2"/>
<line x1="291.12" y1="580.50" x2="291.12" y2="586.00" stroke="#000" stroke-width="2.2"/>
<line x1="305.40" y1="456.00" x2="305.40" y2="451.50" stroke="#000" stroke-width="2.2"/>
<line x1="305.40" y1="580.50" x2="305.40" y2="586.00" stroke="#000" stroke-width="2.2"/>
<line x1="319.67" y1="456.00" x2="319.67" y2="451.50" stroke="#000" stroke-width="2.2"/>
<line x1="319.67" y1="580.50" x2="319.67" y2="586.00" stroke="#000" stroke-width="2.2"/>
<line x1="333.94" y1="456.00" x2="333.94" y2="448.00" stroke="#000" stroke-width="2.2"/>
<line x1="333.94" y1="580.50" x2="333.94" y2="589.50" stroke="#000" stroke-width="2.2"/>
<line x1="348.21" y1="456.00" x2="348.21" y2="451.50" stroke="#000" stroke-width="2.2"/>
<line x1="348.21" y1="580.50" x2="348.21" y2="586.00" stroke="#000" stroke-width="2.2"/>
<line x1="362.48" y1="456.00" x2="362.48" y2="451.50" stroke="#000" stroke-width="2.2"/>
<line x1="362.48" y1="580.50" x2="362.48" y2="586.00" stroke="#000" stroke-width="2.2"/>
<line x1="376.76" y1="456.00" x2="376.76" y2="451.50" stroke="#000" stroke-width="2.2"/>
<line x1="376.76" y1="580.50" x2="376.76" y2="586.00" stroke="#000" stroke-width="2.2"/>
<line x1="391.03" y1="456.00" x2="391.03" y2="451.50" stroke="#000" stroke-width="2.2"/>
<line x1="391.03" y1="580.50" x2="391.03" y2="586.00" stroke="#000" stroke-width="2.2"/>
<line x1="405.30" y1="456.00" x2="405.30" y2="448.00" stroke="#000" stroke-width="2.2"/>
<line x1="405.30" y1="580.50" x2="405.30" y2="589.50" stroke="#000" stroke-width="2.2"/>
<text x="49.10" y="615.2" font-size="20.5" text-anchor="middle">1300</text>
<text x="120.46" y="615.2" font-size="20.5" text-anchor="middle">1330</text>
<text x="191.82" y="615.2" font-size="20.5" text-anchor="middle">1400</text>
<text x="263.18" y="615.2" font-size="20.5" text-anchor="middle">1430</text>
<text x="334.54" y="615.2" font-size="20.5" text-anchor="middle">1500</text>
<text x="405.90" y="615.2" font-size="20.5" text-anchor="middle">1530</text>
<text x="227.4" y="642.4" font-size="22" text-anchor="middle">Hour (LST)</text>
<text transform="translate(21,287.5) rotate(-90)" font-size="21.5" text-anchor="middle">Altitude (km)</text>
<text transform="translate(480.5,287.5) rotate(-90)" font-size="20" text-anchor="middle" fill="#0a7032"><tspan font-style="italic">&#952;</tspan><tspan font-size="14" dy="8.5">e</tspan><tspan dy="-8.5"> (K)</tspan></text>
<linearGradient id="cbg" x1="0" y1="0" x2="1" y2="0">
<stop offset="0.0000" stop-color="#000080"/>
<stop offset="0.0125" stop-color="#000086"/>
<stop offset="0.0250" stop-color="#00008d"/>
<stop offset="0.0375" stop-color="#000093"/>
<stop offset="0.0500" stop-color="#000099"/>
<stop offset="0.0625" stop-color="#0000a0"/>
<stop offset="0.0750" stop-color="#0000a6"/>
<stop offset="0.0875" stop-color="#0000ac"/>
<stop offset="0.1000" stop-color="#0000b3"/>
<stop offset="0.1125" stop-color="#0000b9"/>
<stop offset="0.1250" stop-color="#0000c0"/>
<stop offset="0.1375" stop-color="#0000c6"/>
<stop offset="0.1500" stop-color="#0000cc"/>
<stop offset="0.1625" stop-color="#0000d3"/>
<stop offset="0.1750" stop-color="#0000d9"/>
<stop offset="0.1875" stop-color="#0000df"/>
<stop offset="0.2000" stop-color="#0000e6"/>
<stop offset="0.2125" stop-color="#0000ec"/>
<stop offset="0.2250" stop-color="#0000f2"/>
<stop offset="0.2375" stop-color="#0000f9"/>
<stop offset="0.2500" stop-color="#0000ff"/>
<stop offset="0.2625" stop-color="#0d0dff"/>
<stop offset="0.2750" stop-color="#1a1aff"/>
<stop offset="0.2875" stop-color="#2626ff"/>
<stop offset="0.3000" stop-color="#3333ff"/>
<stop offset="0.3125" stop-color="#4040ff"/>
<stop offset="0.3250" stop-color="#4d4dff"/>
<stop offset="0.3375" stop-color="#5959ff"/>
<stop offset="0.3500" stop-color="#6666ff"/>
<stop offset="0.3625" stop-color="#7373ff"/>
<stop offset="0.3750" stop-color="#8080ff"/>
<stop offset="0.3875" stop-color="#8c8cff"/>
<stop offset="0.4000" stop-color="#9999ff"/>
<stop offset="0.4125" stop-color="#a6a6ff"/>
<stop offset="0.4250" stop-color="#b3b3ff"/>
<stop offset="0.4375" stop-color="#bfbfff"/>
<stop offset="0.4500" stop-color="#ccccff"/>
<stop offset="0.4625" stop-color="#d9d9ff"/>
<stop offset="0.4750" stop-color="#e6e6ff"/>
<stop offset="0.4875" stop-color="#f2f2ff"/>
<stop offset="0.5000" stop-color="#ffffff"/>
<stop offset="0.5125" stop-color="#fff2f2"/>
<stop offset="0.5250" stop-color="#ffe5e5"/>
<stop offset="0.5375" stop-color="#ffd9d9"/>
<stop offset="0.5500" stop-color="#ffcccc"/>
<stop offset="0.5625" stop-color="#ffbfbf"/>
<stop offset="0.5750" stop-color="#ffb2b2"/>
<stop offset="0.5875" stop-color="#ffa6a6"/>
<stop offset="0.6000" stop-color="#ff9999"/>
<stop offset="0.6125" stop-color="#ff8c8c"/>
<stop offset="0.6250" stop-color="#ff8080"/>
<stop offset="0.6375" stop-color="#ff7373"/>
<stop offset="0.6500" stop-color="#ff6666"/>
<stop offset="0.6625" stop-color="#ff5959"/>
<stop offset="0.6750" stop-color="#ff4c4c"/>
<stop offset="0.6875" stop-color="#ff4040"/>
<stop offset="0.7000" stop-color="#ff3333"/>
<stop offset="0.7125" stop-color="#ff2626"/>
<stop offset="0.7250" stop-color="#ff1919"/>
<stop offset="0.7375" stop-color="#ff0d0d"/>
<stop offset="0.7500" stop-color="#ff0000"/>
<stop offset="0.7625" stop-color="#f90000"/>
<stop offset="0.7750" stop-color="#f20000"/>
<stop offset="0.7875" stop-color="#ec0000"/>
<stop offset="0.8000" stop-color="#e60000"/>
<stop offset="0.8125" stop-color="#df0000"/>
<stop offset="0.8250" stop-color="#d90000"/>
<stop offset="0.8375" stop-color="#d30000"/>
<stop offset="0.8500" stop-color="#cc0000"/>
<stop offset="0.8625" stop-color="#c60000"/>
<stop offset="0.8750" stop-color="#c00000"/>
<stop offset="0.8875" stop-color="#b90000"/>
<stop offset="0.9000" stop-color="#b30000"/>
<stop offset="0.9125" stop-color="#ac0000"/>
<stop offset="0.9250" stop-color="#a60000"/>
<stop offset="0.9375" stop-color="#a00000"/>
<stop offset="0.9500" stop-color="#990000"/>
<stop offset="0.9625" stop-color="#930000"/>
<stop offset="0.9750" stop-color="#8d0000"/>
<stop offset="0.9875" stop-color="#860000"/>
<stop offset="1.0000" stop-color="#800000"/>
</linearGradient>
<rect x="48.90" y="647.30" width="356.30" height="13.50" fill="url(#cbg)" stroke="#101040" stroke-width="0.8"/>
<text x="48.90" y="688.4" font-size="20" text-anchor="middle">-4</text>
<line x1="137.97" y1="660.80" x2="137.97" y2="657.80" stroke="#000" stroke-width="1"/>
<text x="137.97" y="688.4" font-size="20" text-anchor="middle">-2</text>
<line x1="227.05" y1="660.80" x2="227.05" y2="657.80" stroke="#000" stroke-width="1"/>
<text x="227.05" y="688.4" font-size="20" text-anchor="middle">0</text>
<line x1="316.12" y1="660.80" x2="316.12" y2="657.80" stroke="#000" stroke-width="1"/>
<text x="316.12" y="688.4" font-size="20" text-anchor="middle">2</text>
<text x="405.20" y="688.4" font-size="20" text-anchor="middle">4</text>
<text x="226.7" y="720.6" font-size="22" text-anchor="middle">F (&#215;10<tspan font-size="15" dy="-9">-8</tspan><tspan dy="9"> K m</tspan><tspan font-size="15" dy="-9">-1</tspan><tspan dy="9"> s</tspan><tspan font-size="15" dy="-9">-1</tspan><tspan dy="9">)</tspan></text>
</svg></body></html>
